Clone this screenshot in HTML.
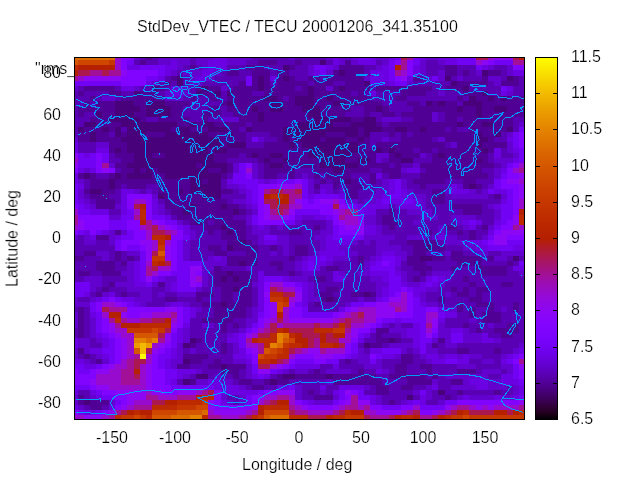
<!DOCTYPE html>
<html><head><meta charset="utf-8"><title>StdDev_VTEC</title>
<style>
html,body{margin:0;padding:0;background:#fff;}
body{width:640px;height:480px;overflow:hidden;position:relative;z-index:0;font-family:"Liberation Sans",sans-serif;font-size:16px;color:#000;}
.t{position:absolute;white-space:pre;line-height:16px;height:16px;-webkit-text-stroke:0.22px #fff;will-change:transform;}
.yl{text-align:right;width:60px;left:0.6px;}
.xl{text-align:center;width:80px;}
svg{position:absolute;left:0;top:0;}
</style></head><body>

<svg width="640" height="480" viewBox="0 0 640 480">
<defs><clipPath id="cp"><rect x="74.5" y="57.5" width="450" height="362"/></clipPath></defs>
<g shape-rendering="crispEdges" clip-path="url(#cp)">
<rect x="74.50" y="57.50" width="40.73" height="2.88" fill="#dd6c00"/>
<rect x="114.93" y="57.50" width="6.52" height="2.88" fill="#970bce"/>
<rect x="121.15" y="57.50" width="12.74" height="2.88" fill="#8004ff"/>
<rect x="133.59" y="57.50" width="6.52" height="2.88" fill="#6301ce"/>
<rect x="139.81" y="57.50" width="6.52" height="2.88" fill="#5a00b4"/>
<rect x="146.03" y="57.50" width="6.52" height="2.88" fill="#510096"/>
<rect x="152.25" y="57.50" width="6.52" height="2.88" fill="#5a00b4"/>
<rect x="158.47" y="57.50" width="31.40" height="2.88" fill="#6301ce"/>
<rect x="189.57" y="57.50" width="6.52" height="2.88" fill="#5a00b4"/>
<rect x="195.79" y="57.50" width="18.96" height="2.88" fill="#6301ce"/>
<rect x="214.45" y="57.50" width="12.74" height="2.88" fill="#6b01e3"/>
<rect x="226.89" y="57.50" width="25.18" height="2.88" fill="#6301ce"/>
<rect x="251.77" y="57.50" width="37.62" height="2.88" fill="#5a00b4"/>
<rect x="289.09" y="57.50" width="6.52" height="2.88" fill="#6301ce"/>
<rect x="295.31" y="57.50" width="31.40" height="2.88" fill="#5a00b4"/>
<rect x="326.41" y="57.50" width="6.52" height="2.88" fill="#6301ce"/>
<rect x="332.63" y="57.50" width="6.52" height="2.88" fill="#6b01e3"/>
<rect x="338.85" y="57.50" width="12.74" height="2.88" fill="#6301ce"/>
<rect x="351.29" y="57.50" width="6.52" height="2.88" fill="#6b01e3"/>
<rect x="357.51" y="57.50" width="12.74" height="2.88" fill="#7202f3"/>
<rect x="369.95" y="57.50" width="6.52" height="2.88" fill="#6b01e3"/>
<rect x="376.17" y="57.50" width="12.74" height="2.88" fill="#6301ce"/>
<rect x="388.61" y="57.50" width="6.52" height="2.88" fill="#6b01e3"/>
<rect x="394.83" y="57.50" width="6.52" height="2.88" fill="#7202f3"/>
<rect x="401.05" y="57.50" width="6.52" height="2.88" fill="#ab174f"/>
<rect x="407.27" y="57.50" width="6.52" height="2.88" fill="#a11096"/>
<rect x="413.49" y="57.50" width="6.52" height="2.88" fill="#7202f3"/>
<rect x="419.71" y="57.50" width="6.52" height="2.88" fill="#6b01e3"/>
<rect x="425.93" y="57.50" width="12.74" height="2.88" fill="#6301ce"/>
<rect x="438.37" y="57.50" width="18.96" height="2.88" fill="#6b01e3"/>
<rect x="457.03" y="57.50" width="18.96" height="2.88" fill="#7202f3"/>
<rect x="475.69" y="57.50" width="12.74" height="2.88" fill="#ab174f"/>
<rect x="488.13" y="57.50" width="6.52" height="2.88" fill="#970bce"/>
<rect x="494.35" y="57.50" width="18.96" height="2.88" fill="#8c07f3"/>
<rect x="513.01" y="57.50" width="6.52" height="2.88" fill="#ab174f"/>
<rect x="519.23" y="57.50" width="5.57" height="2.88" fill="#b42000"/>
<rect x="74.50" y="60.08" width="3.41" height="5.45" fill="#d55700"/>
<rect x="77.61" y="60.08" width="31.40" height="5.45" fill="#ce4600"/>
<rect x="108.71" y="60.08" width="6.52" height="5.45" fill="#c63700"/>
<rect x="114.93" y="60.08" width="6.52" height="5.45" fill="#970bce"/>
<rect x="121.15" y="60.08" width="6.52" height="5.45" fill="#8004ff"/>
<rect x="127.37" y="60.08" width="6.52" height="5.45" fill="#7202f3"/>
<rect x="133.59" y="60.08" width="6.52" height="5.45" fill="#5a00b4"/>
<rect x="139.81" y="60.08" width="6.52" height="5.45" fill="#510096"/>
<rect x="146.03" y="60.08" width="12.74" height="5.45" fill="#5a00b4"/>
<rect x="158.47" y="60.08" width="12.74" height="5.45" fill="#6301ce"/>
<rect x="170.91" y="60.08" width="6.52" height="5.45" fill="#6b01e3"/>
<rect x="177.13" y="60.08" width="12.74" height="5.45" fill="#6301ce"/>
<rect x="189.57" y="60.08" width="6.52" height="5.45" fill="#5a00b4"/>
<rect x="195.79" y="60.08" width="12.74" height="5.45" fill="#6301ce"/>
<rect x="208.23" y="60.08" width="18.96" height="5.45" fill="#6b01e3"/>
<rect x="226.89" y="60.08" width="18.96" height="5.45" fill="#6301ce"/>
<rect x="245.55" y="60.08" width="12.74" height="5.45" fill="#5a00b4"/>
<rect x="257.99" y="60.08" width="18.96" height="5.45" fill="#510096"/>
<rect x="276.65" y="60.08" width="18.96" height="5.45" fill="#5a00b4"/>
<rect x="295.31" y="60.08" width="6.52" height="5.45" fill="#510096"/>
<rect x="301.53" y="60.08" width="18.96" height="5.45" fill="#5a00b4"/>
<rect x="320.19" y="60.08" width="6.52" height="5.45" fill="#48007b"/>
<rect x="326.41" y="60.08" width="6.52" height="5.45" fill="#5a00b4"/>
<rect x="332.63" y="60.08" width="6.52" height="5.45" fill="#6b01e3"/>
<rect x="338.85" y="60.08" width="6.52" height="5.45" fill="#6301ce"/>
<rect x="345.07" y="60.08" width="6.52" height="5.45" fill="#510096"/>
<rect x="351.29" y="60.08" width="6.52" height="5.45" fill="#6301ce"/>
<rect x="357.51" y="60.08" width="18.96" height="5.45" fill="#6b01e3"/>
<rect x="376.17" y="60.08" width="6.52" height="5.45" fill="#5a00b4"/>
<rect x="382.39" y="60.08" width="6.52" height="5.45" fill="#6301ce"/>
<rect x="388.61" y="60.08" width="6.52" height="5.45" fill="#7202f3"/>
<rect x="394.83" y="60.08" width="6.52" height="5.45" fill="#8004ff"/>
<rect x="401.05" y="60.08" width="6.52" height="5.45" fill="#a11096"/>
<rect x="407.27" y="60.08" width="6.52" height="5.45" fill="#8004ff"/>
<rect x="413.49" y="60.08" width="6.52" height="5.45" fill="#7202f3"/>
<rect x="419.71" y="60.08" width="6.52" height="5.45" fill="#6301ce"/>
<rect x="425.93" y="60.08" width="12.74" height="5.45" fill="#5a00b4"/>
<rect x="438.37" y="60.08" width="6.52" height="5.45" fill="#6301ce"/>
<rect x="444.59" y="60.08" width="12.74" height="5.45" fill="#6b01e3"/>
<rect x="457.03" y="60.08" width="18.96" height="5.45" fill="#7202f3"/>
<rect x="475.69" y="60.08" width="6.52" height="5.45" fill="#970bce"/>
<rect x="481.91" y="60.08" width="6.52" height="5.45" fill="#8c07f3"/>
<rect x="488.13" y="60.08" width="6.52" height="5.45" fill="#8004ff"/>
<rect x="494.35" y="60.08" width="18.96" height="5.45" fill="#7202f3"/>
<rect x="513.01" y="60.08" width="11.79" height="5.45" fill="#a11096"/>
<rect x="74.50" y="65.22" width="3.41" height="5.45" fill="#bd2a00"/>
<rect x="77.61" y="65.22" width="37.62" height="5.45" fill="#b42000"/>
<rect x="114.93" y="65.22" width="6.52" height="5.45" fill="#970bce"/>
<rect x="121.15" y="65.22" width="6.52" height="5.45" fill="#8004ff"/>
<rect x="127.37" y="65.22" width="12.74" height="5.45" fill="#6b01e3"/>
<rect x="139.81" y="65.22" width="25.18" height="5.45" fill="#7202f3"/>
<rect x="164.69" y="65.22" width="12.74" height="5.45" fill="#6b01e3"/>
<rect x="177.13" y="65.22" width="6.52" height="5.45" fill="#6301ce"/>
<rect x="183.35" y="65.22" width="6.52" height="5.45" fill="#5a00b4"/>
<rect x="189.57" y="65.22" width="6.52" height="5.45" fill="#510096"/>
<rect x="195.79" y="65.22" width="6.52" height="5.45" fill="#5a00b4"/>
<rect x="202.01" y="65.22" width="6.52" height="5.45" fill="#6301ce"/>
<rect x="208.23" y="65.22" width="18.96" height="5.45" fill="#6b01e3"/>
<rect x="226.89" y="65.22" width="18.96" height="5.45" fill="#5a00b4"/>
<rect x="245.55" y="65.22" width="18.96" height="5.45" fill="#510096"/>
<rect x="264.21" y="65.22" width="18.96" height="5.45" fill="#5a00b4"/>
<rect x="282.87" y="65.22" width="6.52" height="5.45" fill="#48007b"/>
<rect x="289.09" y="65.22" width="6.52" height="5.45" fill="#510096"/>
<rect x="295.31" y="65.22" width="12.74" height="5.45" fill="#5a00b4"/>
<rect x="307.75" y="65.22" width="6.52" height="5.45" fill="#6301ce"/>
<rect x="313.97" y="65.22" width="12.74" height="5.45" fill="#7202f3"/>
<rect x="326.41" y="65.22" width="6.52" height="5.45" fill="#6b01e3"/>
<rect x="332.63" y="65.22" width="6.52" height="5.45" fill="#6301ce"/>
<rect x="338.85" y="65.22" width="25.18" height="5.45" fill="#510096"/>
<rect x="363.73" y="65.22" width="12.74" height="5.45" fill="#5a00b4"/>
<rect x="376.17" y="65.22" width="6.52" height="5.45" fill="#6301ce"/>
<rect x="382.39" y="65.22" width="6.52" height="5.45" fill="#6b01e3"/>
<rect x="388.61" y="65.22" width="6.52" height="5.45" fill="#7202f3"/>
<rect x="394.83" y="65.22" width="6.52" height="5.45" fill="#b42000"/>
<rect x="401.05" y="65.22" width="6.52" height="5.45" fill="#a11096"/>
<rect x="407.27" y="65.22" width="6.52" height="5.45" fill="#8004ff"/>
<rect x="413.49" y="65.22" width="6.52" height="5.45" fill="#6b01e3"/>
<rect x="419.71" y="65.22" width="6.52" height="5.45" fill="#6301ce"/>
<rect x="425.93" y="65.22" width="18.96" height="5.45" fill="#5a00b4"/>
<rect x="444.59" y="65.22" width="12.74" height="5.45" fill="#510096"/>
<rect x="457.03" y="65.22" width="18.96" height="5.45" fill="#5a00b4"/>
<rect x="475.69" y="65.22" width="6.52" height="5.45" fill="#7202f3"/>
<rect x="481.91" y="65.22" width="6.52" height="5.45" fill="#6b01e3"/>
<rect x="488.13" y="65.22" width="6.52" height="5.45" fill="#6301ce"/>
<rect x="494.35" y="65.22" width="12.74" height="5.45" fill="#5a00b4"/>
<rect x="506.79" y="65.22" width="6.52" height="5.45" fill="#6301ce"/>
<rect x="513.01" y="65.22" width="11.79" height="5.45" fill="#8004ff"/>
<rect x="74.50" y="70.38" width="3.41" height="5.45" fill="#b42000"/>
<rect x="77.61" y="70.38" width="12.74" height="5.45" fill="#ab174f"/>
<rect x="90.05" y="70.38" width="12.74" height="5.45" fill="#a11096"/>
<rect x="102.49" y="70.38" width="6.52" height="5.45" fill="#ab174f"/>
<rect x="108.71" y="70.38" width="12.74" height="5.45" fill="#a11096"/>
<rect x="121.15" y="70.38" width="6.52" height="5.45" fill="#8c07f3"/>
<rect x="127.37" y="70.38" width="31.40" height="5.45" fill="#8004ff"/>
<rect x="158.47" y="70.38" width="6.52" height="5.45" fill="#7202f3"/>
<rect x="164.69" y="70.38" width="6.52" height="5.45" fill="#6b01e3"/>
<rect x="170.91" y="70.38" width="6.52" height="5.45" fill="#6301ce"/>
<rect x="177.13" y="70.38" width="6.52" height="5.45" fill="#5a00b4"/>
<rect x="183.35" y="70.38" width="18.96" height="5.45" fill="#6301ce"/>
<rect x="202.01" y="70.38" width="12.74" height="5.45" fill="#6b01e3"/>
<rect x="214.45" y="70.38" width="6.52" height="5.45" fill="#6301ce"/>
<rect x="220.67" y="70.38" width="6.52" height="5.45" fill="#5a00b4"/>
<rect x="226.89" y="70.38" width="12.74" height="5.45" fill="#510096"/>
<rect x="239.33" y="70.38" width="12.74" height="5.45" fill="#5a00b4"/>
<rect x="251.77" y="70.38" width="18.96" height="5.45" fill="#510096"/>
<rect x="270.43" y="70.38" width="6.52" height="5.45" fill="#5a00b4"/>
<rect x="276.65" y="70.38" width="12.74" height="5.45" fill="#510096"/>
<rect x="289.09" y="70.38" width="18.96" height="5.45" fill="#5a00b4"/>
<rect x="307.75" y="70.38" width="6.52" height="5.45" fill="#6301ce"/>
<rect x="313.97" y="70.38" width="6.52" height="5.45" fill="#6b01e3"/>
<rect x="320.19" y="70.38" width="6.52" height="5.45" fill="#7202f3"/>
<rect x="326.41" y="70.38" width="6.52" height="5.45" fill="#6301ce"/>
<rect x="332.63" y="70.38" width="6.52" height="5.45" fill="#510096"/>
<rect x="338.85" y="70.38" width="6.52" height="5.45" fill="#48007b"/>
<rect x="345.07" y="70.38" width="18.96" height="5.45" fill="#510096"/>
<rect x="363.73" y="70.38" width="6.52" height="5.45" fill="#5a00b4"/>
<rect x="369.95" y="70.38" width="18.96" height="5.45" fill="#6b01e3"/>
<rect x="388.61" y="70.38" width="6.52" height="5.45" fill="#7202f3"/>
<rect x="394.83" y="70.38" width="6.52" height="5.45" fill="#a11096"/>
<rect x="401.05" y="70.38" width="6.52" height="5.45" fill="#970bce"/>
<rect x="407.27" y="70.38" width="6.52" height="5.45" fill="#8004ff"/>
<rect x="413.49" y="70.38" width="6.52" height="5.45" fill="#6b01e3"/>
<rect x="419.71" y="70.38" width="6.52" height="5.45" fill="#6301ce"/>
<rect x="425.93" y="70.38" width="12.74" height="5.45" fill="#5a00b4"/>
<rect x="438.37" y="70.38" width="6.52" height="5.45" fill="#6301ce"/>
<rect x="444.59" y="70.38" width="12.74" height="5.45" fill="#510096"/>
<rect x="457.03" y="70.38" width="6.52" height="5.45" fill="#5a00b4"/>
<rect x="463.25" y="70.38" width="6.52" height="5.45" fill="#510096"/>
<rect x="469.47" y="70.38" width="6.52" height="5.45" fill="#5a00b4"/>
<rect x="475.69" y="70.38" width="6.52" height="5.45" fill="#6301ce"/>
<rect x="481.91" y="70.38" width="6.52" height="5.45" fill="#48007b"/>
<rect x="488.13" y="70.38" width="12.74" height="5.45" fill="#510096"/>
<rect x="500.57" y="70.38" width="6.52" height="5.45" fill="#5a00b4"/>
<rect x="506.79" y="70.38" width="6.52" height="5.45" fill="#6301ce"/>
<rect x="513.01" y="70.38" width="11.79" height="5.45" fill="#6b01e3"/>
<rect x="74.50" y="75.53" width="3.41" height="5.45" fill="#a11096"/>
<rect x="77.61" y="75.53" width="6.52" height="5.45" fill="#970bce"/>
<rect x="83.83" y="75.53" width="37.62" height="5.45" fill="#8c07f3"/>
<rect x="121.15" y="75.53" width="25.18" height="5.45" fill="#8004ff"/>
<rect x="146.03" y="75.53" width="12.74" height="5.45" fill="#7202f3"/>
<rect x="158.47" y="75.53" width="6.52" height="5.45" fill="#6b01e3"/>
<rect x="164.69" y="75.53" width="6.52" height="5.45" fill="#5a00b4"/>
<rect x="170.91" y="75.53" width="6.52" height="5.45" fill="#510096"/>
<rect x="177.13" y="75.53" width="6.52" height="5.45" fill="#48007b"/>
<rect x="183.35" y="75.53" width="6.52" height="5.45" fill="#5a00b4"/>
<rect x="189.57" y="75.53" width="6.52" height="5.45" fill="#6301ce"/>
<rect x="195.79" y="75.53" width="12.74" height="5.45" fill="#6b01e3"/>
<rect x="208.23" y="75.53" width="6.52" height="5.45" fill="#6301ce"/>
<rect x="214.45" y="75.53" width="31.40" height="5.45" fill="#5a00b4"/>
<rect x="245.55" y="75.53" width="6.52" height="5.45" fill="#7202f3"/>
<rect x="251.77" y="75.53" width="6.52" height="5.45" fill="#510096"/>
<rect x="257.99" y="75.53" width="6.52" height="5.45" fill="#48007b"/>
<rect x="264.21" y="75.53" width="6.52" height="5.45" fill="#510096"/>
<rect x="270.43" y="75.53" width="6.52" height="5.45" fill="#6b01e3"/>
<rect x="276.65" y="75.53" width="6.52" height="5.45" fill="#510096"/>
<rect x="282.87" y="75.53" width="6.52" height="5.45" fill="#48007b"/>
<rect x="289.09" y="75.53" width="6.52" height="5.45" fill="#510096"/>
<rect x="295.31" y="75.53" width="12.74" height="5.45" fill="#5a00b4"/>
<rect x="307.75" y="75.53" width="12.74" height="5.45" fill="#510096"/>
<rect x="320.19" y="75.53" width="6.52" height="5.45" fill="#5a00b4"/>
<rect x="326.41" y="75.53" width="37.62" height="5.45" fill="#510096"/>
<rect x="363.73" y="75.53" width="6.52" height="5.45" fill="#6301ce"/>
<rect x="369.95" y="75.53" width="18.96" height="5.45" fill="#6b01e3"/>
<rect x="388.61" y="75.53" width="6.52" height="5.45" fill="#7202f3"/>
<rect x="394.83" y="75.53" width="6.52" height="5.45" fill="#8004ff"/>
<rect x="401.05" y="75.53" width="6.52" height="5.45" fill="#8c07f3"/>
<rect x="407.27" y="75.53" width="6.52" height="5.45" fill="#6b01e3"/>
<rect x="413.49" y="75.53" width="6.52" height="5.45" fill="#510096"/>
<rect x="419.71" y="75.53" width="6.52" height="5.45" fill="#5a00b4"/>
<rect x="425.93" y="75.53" width="6.52" height="5.45" fill="#6301ce"/>
<rect x="432.15" y="75.53" width="6.52" height="5.45" fill="#7202f3"/>
<rect x="438.37" y="75.53" width="6.52" height="5.45" fill="#6301ce"/>
<rect x="444.59" y="75.53" width="6.52" height="5.45" fill="#48007b"/>
<rect x="450.81" y="75.53" width="6.52" height="5.45" fill="#5a00b4"/>
<rect x="457.03" y="75.53" width="6.52" height="5.45" fill="#6301ce"/>
<rect x="463.25" y="75.53" width="18.96" height="5.45" fill="#5a00b4"/>
<rect x="481.91" y="75.53" width="6.52" height="5.45" fill="#510096"/>
<rect x="488.13" y="75.53" width="12.74" height="5.45" fill="#6301ce"/>
<rect x="500.57" y="75.53" width="6.52" height="5.45" fill="#5a00b4"/>
<rect x="506.79" y="75.53" width="6.52" height="5.45" fill="#48007b"/>
<rect x="513.01" y="75.53" width="6.52" height="5.45" fill="#510096"/>
<rect x="519.23" y="75.53" width="5.57" height="5.45" fill="#5a00b4"/>
<rect x="74.50" y="80.67" width="46.95" height="5.45" fill="#7202f3"/>
<rect x="121.15" y="80.67" width="25.18" height="5.45" fill="#8004ff"/>
<rect x="146.03" y="80.67" width="6.52" height="5.45" fill="#6b01e3"/>
<rect x="152.25" y="80.67" width="6.52" height="5.45" fill="#6301ce"/>
<rect x="158.47" y="80.67" width="6.52" height="5.45" fill="#5a00b4"/>
<rect x="164.69" y="80.67" width="6.52" height="5.45" fill="#510096"/>
<rect x="170.91" y="80.67" width="6.52" height="5.45" fill="#5a00b4"/>
<rect x="177.13" y="80.67" width="6.52" height="5.45" fill="#48007b"/>
<rect x="183.35" y="80.67" width="6.52" height="5.45" fill="#5a00b4"/>
<rect x="189.57" y="80.67" width="12.74" height="5.45" fill="#6301ce"/>
<rect x="202.01" y="80.67" width="37.62" height="5.45" fill="#5a00b4"/>
<rect x="239.33" y="80.67" width="6.52" height="5.45" fill="#510096"/>
<rect x="245.55" y="80.67" width="6.52" height="5.45" fill="#7202f3"/>
<rect x="251.77" y="80.67" width="6.52" height="5.45" fill="#510096"/>
<rect x="257.99" y="80.67" width="6.52" height="5.45" fill="#48007b"/>
<rect x="264.21" y="80.67" width="6.52" height="5.45" fill="#510096"/>
<rect x="270.43" y="80.67" width="6.52" height="5.45" fill="#5a00b4"/>
<rect x="276.65" y="80.67" width="31.40" height="5.45" fill="#510096"/>
<rect x="307.75" y="80.67" width="6.52" height="5.45" fill="#5a00b4"/>
<rect x="313.97" y="80.67" width="18.96" height="5.45" fill="#510096"/>
<rect x="332.63" y="80.67" width="12.74" height="5.45" fill="#5a00b4"/>
<rect x="345.07" y="80.67" width="18.96" height="5.45" fill="#510096"/>
<rect x="363.73" y="80.67" width="6.52" height="5.45" fill="#48007b"/>
<rect x="369.95" y="80.67" width="12.74" height="5.45" fill="#6b01e3"/>
<rect x="382.39" y="80.67" width="6.52" height="5.45" fill="#6301ce"/>
<rect x="388.61" y="80.67" width="6.52" height="5.45" fill="#6b01e3"/>
<rect x="394.83" y="80.67" width="12.74" height="5.45" fill="#7202f3"/>
<rect x="407.27" y="80.67" width="6.52" height="5.45" fill="#6301ce"/>
<rect x="413.49" y="80.67" width="37.62" height="5.45" fill="#5a00b4"/>
<rect x="450.81" y="80.67" width="6.52" height="5.45" fill="#48007b"/>
<rect x="457.03" y="80.67" width="31.40" height="5.45" fill="#510096"/>
<rect x="488.13" y="80.67" width="6.52" height="5.45" fill="#5a00b4"/>
<rect x="494.35" y="80.67" width="6.52" height="5.45" fill="#6301ce"/>
<rect x="500.57" y="80.67" width="18.96" height="5.45" fill="#510096"/>
<rect x="519.23" y="80.67" width="5.57" height="5.45" fill="#5a00b4"/>
<rect x="74.50" y="85.83" width="3.41" height="5.45" fill="#6301ce"/>
<rect x="77.61" y="85.83" width="6.52" height="5.45" fill="#5a00b4"/>
<rect x="83.83" y="85.83" width="31.40" height="5.45" fill="#510096"/>
<rect x="114.93" y="85.83" width="6.52" height="5.45" fill="#5a00b4"/>
<rect x="121.15" y="85.83" width="12.74" height="5.45" fill="#6b01e3"/>
<rect x="133.59" y="85.83" width="6.52" height="5.45" fill="#6301ce"/>
<rect x="139.81" y="85.83" width="12.74" height="5.45" fill="#5a00b4"/>
<rect x="152.25" y="85.83" width="6.52" height="5.45" fill="#48007b"/>
<rect x="158.47" y="85.83" width="6.52" height="5.45" fill="#510096"/>
<rect x="164.69" y="85.83" width="6.52" height="5.45" fill="#5a00b4"/>
<rect x="170.91" y="85.83" width="12.74" height="5.45" fill="#6b01e3"/>
<rect x="183.35" y="85.83" width="6.52" height="5.45" fill="#6301ce"/>
<rect x="189.57" y="85.83" width="6.52" height="5.45" fill="#5a00b4"/>
<rect x="195.79" y="85.83" width="6.52" height="5.45" fill="#510096"/>
<rect x="202.01" y="85.83" width="6.52" height="5.45" fill="#48007b"/>
<rect x="208.23" y="85.83" width="12.74" height="5.45" fill="#510096"/>
<rect x="220.67" y="85.83" width="6.52" height="5.45" fill="#6301ce"/>
<rect x="226.89" y="85.83" width="6.52" height="5.45" fill="#5a00b4"/>
<rect x="233.11" y="85.83" width="25.18" height="5.45" fill="#510096"/>
<rect x="257.99" y="85.83" width="6.52" height="5.45" fill="#48007b"/>
<rect x="264.21" y="85.83" width="31.40" height="5.45" fill="#510096"/>
<rect x="295.31" y="85.83" width="6.52" height="5.45" fill="#5a00b4"/>
<rect x="301.53" y="85.83" width="6.52" height="5.45" fill="#510096"/>
<rect x="307.75" y="85.83" width="6.52" height="5.45" fill="#48007b"/>
<rect x="313.97" y="85.83" width="12.74" height="5.45" fill="#510096"/>
<rect x="326.41" y="85.83" width="6.52" height="5.45" fill="#6301ce"/>
<rect x="332.63" y="85.83" width="6.52" height="5.45" fill="#510096"/>
<rect x="338.85" y="85.83" width="6.52" height="5.45" fill="#48007b"/>
<rect x="345.07" y="85.83" width="25.18" height="5.45" fill="#510096"/>
<rect x="369.95" y="85.83" width="6.52" height="5.45" fill="#5a00b4"/>
<rect x="376.17" y="85.83" width="56.28" height="5.45" fill="#510096"/>
<rect x="432.15" y="85.83" width="12.74" height="5.45" fill="#5a00b4"/>
<rect x="444.59" y="85.83" width="18.96" height="5.45" fill="#510096"/>
<rect x="463.25" y="85.83" width="6.52" height="5.45" fill="#48007b"/>
<rect x="469.47" y="85.83" width="31.40" height="5.45" fill="#5a00b4"/>
<rect x="500.57" y="85.83" width="6.52" height="5.45" fill="#7202f3"/>
<rect x="506.79" y="85.83" width="6.52" height="5.45" fill="#6b01e3"/>
<rect x="513.01" y="85.83" width="11.79" height="5.45" fill="#5a00b4"/>
<rect x="74.50" y="90.97" width="3.41" height="5.45" fill="#5a00b4"/>
<rect x="77.61" y="90.97" width="6.52" height="5.45" fill="#510096"/>
<rect x="83.83" y="90.97" width="25.18" height="5.45" fill="#5a00b4"/>
<rect x="108.71" y="90.97" width="12.74" height="5.45" fill="#510096"/>
<rect x="121.15" y="90.97" width="12.74" height="5.45" fill="#5a00b4"/>
<rect x="133.59" y="90.97" width="6.52" height="5.45" fill="#48007b"/>
<rect x="139.81" y="90.97" width="18.96" height="5.45" fill="#510096"/>
<rect x="158.47" y="90.97" width="6.52" height="5.45" fill="#5a00b4"/>
<rect x="164.69" y="90.97" width="6.52" height="5.45" fill="#6301ce"/>
<rect x="170.91" y="90.97" width="12.74" height="5.45" fill="#6b01e3"/>
<rect x="183.35" y="90.97" width="6.52" height="5.45" fill="#6301ce"/>
<rect x="189.57" y="90.97" width="6.52" height="5.45" fill="#5a00b4"/>
<rect x="195.79" y="90.97" width="6.52" height="5.45" fill="#48007b"/>
<rect x="202.01" y="90.97" width="12.74" height="5.45" fill="#510096"/>
<rect x="214.45" y="90.97" width="6.52" height="5.45" fill="#48007b"/>
<rect x="220.67" y="90.97" width="6.52" height="5.45" fill="#5a00b4"/>
<rect x="226.89" y="90.97" width="6.52" height="5.45" fill="#48007b"/>
<rect x="233.11" y="90.97" width="18.96" height="5.45" fill="#510096"/>
<rect x="251.77" y="90.97" width="12.74" height="5.45" fill="#5a00b4"/>
<rect x="264.21" y="90.97" width="43.84" height="5.45" fill="#510096"/>
<rect x="307.75" y="90.97" width="6.52" height="5.45" fill="#48007b"/>
<rect x="313.97" y="90.97" width="37.62" height="5.45" fill="#510096"/>
<rect x="351.29" y="90.97" width="6.52" height="5.45" fill="#5a00b4"/>
<rect x="357.51" y="90.97" width="6.52" height="5.45" fill="#510096"/>
<rect x="363.73" y="90.97" width="6.52" height="5.45" fill="#5a00b4"/>
<rect x="369.95" y="90.97" width="6.52" height="5.45" fill="#6b01e3"/>
<rect x="376.17" y="90.97" width="25.18" height="5.45" fill="#5a00b4"/>
<rect x="401.05" y="90.97" width="25.18" height="5.45" fill="#510096"/>
<rect x="425.93" y="90.97" width="12.74" height="5.45" fill="#5a00b4"/>
<rect x="438.37" y="90.97" width="6.52" height="5.45" fill="#6301ce"/>
<rect x="444.59" y="90.97" width="18.96" height="5.45" fill="#5a00b4"/>
<rect x="463.25" y="90.97" width="18.96" height="5.45" fill="#510096"/>
<rect x="481.91" y="90.97" width="6.52" height="5.45" fill="#48007b"/>
<rect x="488.13" y="90.97" width="12.74" height="5.45" fill="#5a00b4"/>
<rect x="500.57" y="90.97" width="6.52" height="5.45" fill="#6b01e3"/>
<rect x="506.79" y="90.97" width="6.52" height="5.45" fill="#6301ce"/>
<rect x="513.01" y="90.97" width="11.79" height="5.45" fill="#5a00b4"/>
<rect x="74.50" y="96.12" width="15.85" height="5.45" fill="#5a00b4"/>
<rect x="90.05" y="96.12" width="6.52" height="5.45" fill="#510096"/>
<rect x="96.27" y="96.12" width="6.52" height="5.45" fill="#5a00b4"/>
<rect x="102.49" y="96.12" width="12.74" height="5.45" fill="#6301ce"/>
<rect x="114.93" y="96.12" width="6.52" height="5.45" fill="#5a00b4"/>
<rect x="121.15" y="96.12" width="43.84" height="5.45" fill="#510096"/>
<rect x="164.69" y="96.12" width="18.96" height="5.45" fill="#6301ce"/>
<rect x="183.35" y="96.12" width="6.52" height="5.45" fill="#5a00b4"/>
<rect x="189.57" y="96.12" width="6.52" height="5.45" fill="#510096"/>
<rect x="195.79" y="96.12" width="12.74" height="5.45" fill="#5a00b4"/>
<rect x="208.23" y="96.12" width="12.74" height="5.45" fill="#510096"/>
<rect x="220.67" y="96.12" width="6.52" height="5.45" fill="#5a00b4"/>
<rect x="226.89" y="96.12" width="37.62" height="5.45" fill="#510096"/>
<rect x="264.21" y="96.12" width="12.74" height="5.45" fill="#48007b"/>
<rect x="276.65" y="96.12" width="6.52" height="5.45" fill="#510096"/>
<rect x="282.87" y="96.12" width="6.52" height="5.45" fill="#5a00b4"/>
<rect x="289.09" y="96.12" width="6.52" height="5.45" fill="#510096"/>
<rect x="295.31" y="96.12" width="18.96" height="5.45" fill="#48007b"/>
<rect x="313.97" y="96.12" width="12.74" height="5.45" fill="#510096"/>
<rect x="326.41" y="96.12" width="6.52" height="5.45" fill="#48007b"/>
<rect x="332.63" y="96.12" width="37.62" height="5.45" fill="#510096"/>
<rect x="369.95" y="96.12" width="25.18" height="5.45" fill="#5a00b4"/>
<rect x="394.83" y="96.12" width="12.74" height="5.45" fill="#510096"/>
<rect x="407.27" y="96.12" width="50.06" height="5.45" fill="#5a00b4"/>
<rect x="457.03" y="96.12" width="6.52" height="5.45" fill="#510096"/>
<rect x="463.25" y="96.12" width="6.52" height="5.45" fill="#5a00b4"/>
<rect x="469.47" y="96.12" width="6.52" height="5.45" fill="#48007b"/>
<rect x="475.69" y="96.12" width="12.74" height="5.45" fill="#510096"/>
<rect x="488.13" y="96.12" width="6.52" height="5.45" fill="#48007b"/>
<rect x="494.35" y="96.12" width="6.52" height="5.45" fill="#510096"/>
<rect x="500.57" y="96.12" width="6.52" height="5.45" fill="#48007b"/>
<rect x="506.79" y="96.12" width="18.01" height="5.45" fill="#510096"/>
<rect x="74.50" y="101.28" width="9.63" height="5.45" fill="#5a00b4"/>
<rect x="83.83" y="101.28" width="6.52" height="5.45" fill="#510096"/>
<rect x="90.05" y="101.28" width="6.52" height="5.45" fill="#5a00b4"/>
<rect x="96.27" y="101.28" width="18.96" height="5.45" fill="#510096"/>
<rect x="114.93" y="101.28" width="18.96" height="5.45" fill="#48007b"/>
<rect x="133.59" y="101.28" width="12.74" height="5.45" fill="#510096"/>
<rect x="146.03" y="101.28" width="18.96" height="5.45" fill="#48007b"/>
<rect x="164.69" y="101.28" width="25.18" height="5.45" fill="#510096"/>
<rect x="189.57" y="101.28" width="31.40" height="5.45" fill="#5a00b4"/>
<rect x="220.67" y="101.28" width="6.52" height="5.45" fill="#510096"/>
<rect x="226.89" y="101.28" width="6.52" height="5.45" fill="#48007b"/>
<rect x="233.11" y="101.28" width="37.62" height="5.45" fill="#510096"/>
<rect x="270.43" y="101.28" width="12.74" height="5.45" fill="#48007b"/>
<rect x="282.87" y="101.28" width="12.74" height="5.45" fill="#510096"/>
<rect x="295.31" y="101.28" width="18.96" height="5.45" fill="#48007b"/>
<rect x="313.97" y="101.28" width="18.96" height="5.45" fill="#510096"/>
<rect x="332.63" y="101.28" width="12.74" height="5.45" fill="#48007b"/>
<rect x="345.07" y="101.28" width="37.62" height="5.45" fill="#510096"/>
<rect x="382.39" y="101.28" width="25.18" height="5.45" fill="#5a00b4"/>
<rect x="407.27" y="101.28" width="12.74" height="5.45" fill="#510096"/>
<rect x="419.71" y="101.28" width="6.52" height="5.45" fill="#5a00b4"/>
<rect x="425.93" y="101.28" width="6.52" height="5.45" fill="#48007b"/>
<rect x="432.15" y="101.28" width="6.52" height="5.45" fill="#510096"/>
<rect x="438.37" y="101.28" width="6.52" height="5.45" fill="#48007b"/>
<rect x="444.59" y="101.28" width="12.74" height="5.45" fill="#510096"/>
<rect x="457.03" y="101.28" width="6.52" height="5.45" fill="#5a00b4"/>
<rect x="463.25" y="101.28" width="18.96" height="5.45" fill="#48007b"/>
<rect x="481.91" y="101.28" width="42.89" height="5.45" fill="#510096"/>
<rect x="74.50" y="106.43" width="3.41" height="5.45" fill="#5a00b4"/>
<rect x="77.61" y="106.43" width="37.62" height="5.45" fill="#510096"/>
<rect x="114.93" y="106.43" width="25.18" height="5.45" fill="#48007b"/>
<rect x="139.81" y="106.43" width="6.52" height="5.45" fill="#510096"/>
<rect x="146.03" y="106.43" width="25.18" height="5.45" fill="#48007b"/>
<rect x="170.91" y="106.43" width="12.74" height="5.45" fill="#510096"/>
<rect x="183.35" y="106.43" width="25.18" height="5.45" fill="#5a00b4"/>
<rect x="208.23" y="106.43" width="12.74" height="5.45" fill="#510096"/>
<rect x="220.67" y="106.43" width="6.52" height="5.45" fill="#5a00b4"/>
<rect x="226.89" y="106.43" width="25.18" height="5.45" fill="#510096"/>
<rect x="251.77" y="106.43" width="6.52" height="5.45" fill="#48007b"/>
<rect x="257.99" y="106.43" width="12.74" height="5.45" fill="#510096"/>
<rect x="270.43" y="106.43" width="12.74" height="5.45" fill="#48007b"/>
<rect x="282.87" y="106.43" width="18.96" height="5.45" fill="#510096"/>
<rect x="301.53" y="106.43" width="18.96" height="5.45" fill="#48007b"/>
<rect x="320.19" y="106.43" width="31.40" height="5.45" fill="#510096"/>
<rect x="351.29" y="106.43" width="12.74" height="5.45" fill="#5a00b4"/>
<rect x="363.73" y="106.43" width="12.74" height="5.45" fill="#510096"/>
<rect x="376.17" y="106.43" width="6.52" height="5.45" fill="#48007b"/>
<rect x="382.39" y="106.43" width="6.52" height="5.45" fill="#510096"/>
<rect x="388.61" y="106.43" width="25.18" height="5.45" fill="#5a00b4"/>
<rect x="413.49" y="106.43" width="43.84" height="5.45" fill="#510096"/>
<rect x="457.03" y="106.43" width="6.52" height="5.45" fill="#48007b"/>
<rect x="463.25" y="106.43" width="12.74" height="5.45" fill="#510096"/>
<rect x="475.69" y="106.43" width="6.52" height="5.45" fill="#48007b"/>
<rect x="481.91" y="106.43" width="12.74" height="5.45" fill="#510096"/>
<rect x="494.35" y="106.43" width="12.74" height="5.45" fill="#48007b"/>
<rect x="506.79" y="106.43" width="18.01" height="5.45" fill="#510096"/>
<rect x="74.50" y="111.58" width="3.41" height="5.45" fill="#5a00b4"/>
<rect x="77.61" y="111.58" width="6.52" height="5.45" fill="#510096"/>
<rect x="83.83" y="111.58" width="12.74" height="5.45" fill="#5a00b4"/>
<rect x="96.27" y="111.58" width="6.52" height="5.45" fill="#48007b"/>
<rect x="102.49" y="111.58" width="12.74" height="5.45" fill="#510096"/>
<rect x="114.93" y="111.58" width="18.96" height="5.45" fill="#48007b"/>
<rect x="133.59" y="111.58" width="12.74" height="5.45" fill="#510096"/>
<rect x="146.03" y="111.58" width="25.18" height="5.45" fill="#48007b"/>
<rect x="170.91" y="111.58" width="12.74" height="5.45" fill="#510096"/>
<rect x="183.35" y="111.58" width="18.96" height="5.45" fill="#5a00b4"/>
<rect x="202.01" y="111.58" width="18.96" height="5.45" fill="#510096"/>
<rect x="220.67" y="111.58" width="12.74" height="5.45" fill="#5a00b4"/>
<rect x="233.11" y="111.58" width="25.18" height="5.45" fill="#510096"/>
<rect x="257.99" y="111.58" width="6.52" height="5.45" fill="#48007b"/>
<rect x="264.21" y="111.58" width="43.84" height="5.45" fill="#510096"/>
<rect x="307.75" y="111.58" width="12.74" height="5.45" fill="#48007b"/>
<rect x="320.19" y="111.58" width="25.18" height="5.45" fill="#510096"/>
<rect x="345.07" y="111.58" width="18.96" height="5.45" fill="#5a00b4"/>
<rect x="363.73" y="111.58" width="6.52" height="5.45" fill="#510096"/>
<rect x="369.95" y="111.58" width="12.74" height="5.45" fill="#5a00b4"/>
<rect x="382.39" y="111.58" width="12.74" height="5.45" fill="#510096"/>
<rect x="394.83" y="111.58" width="6.52" height="5.45" fill="#5a00b4"/>
<rect x="401.05" y="111.58" width="31.40" height="5.45" fill="#510096"/>
<rect x="432.15" y="111.58" width="6.52" height="5.45" fill="#6301ce"/>
<rect x="438.37" y="111.58" width="6.52" height="5.45" fill="#5a00b4"/>
<rect x="444.59" y="111.58" width="31.40" height="5.45" fill="#510096"/>
<rect x="475.69" y="111.58" width="6.52" height="5.45" fill="#48007b"/>
<rect x="481.91" y="111.58" width="42.89" height="5.45" fill="#510096"/>
<rect x="74.50" y="116.72" width="15.85" height="5.45" fill="#5a00b4"/>
<rect x="90.05" y="116.72" width="18.96" height="5.45" fill="#510096"/>
<rect x="108.71" y="116.72" width="31.40" height="5.45" fill="#48007b"/>
<rect x="139.81" y="116.72" width="6.52" height="5.45" fill="#510096"/>
<rect x="146.03" y="116.72" width="12.74" height="5.45" fill="#5a00b4"/>
<rect x="158.47" y="116.72" width="31.40" height="5.45" fill="#510096"/>
<rect x="189.57" y="116.72" width="12.74" height="5.45" fill="#5a00b4"/>
<rect x="202.01" y="116.72" width="6.52" height="5.45" fill="#510096"/>
<rect x="208.23" y="116.72" width="12.74" height="5.45" fill="#5a00b4"/>
<rect x="220.67" y="116.72" width="18.96" height="5.45" fill="#6301ce"/>
<rect x="239.33" y="116.72" width="18.96" height="5.45" fill="#510096"/>
<rect x="257.99" y="116.72" width="6.52" height="5.45" fill="#48007b"/>
<rect x="264.21" y="116.72" width="50.06" height="5.45" fill="#510096"/>
<rect x="313.97" y="116.72" width="37.62" height="5.45" fill="#48007b"/>
<rect x="351.29" y="116.72" width="12.74" height="5.45" fill="#510096"/>
<rect x="363.73" y="116.72" width="12.74" height="5.45" fill="#48007b"/>
<rect x="376.17" y="116.72" width="6.52" height="5.45" fill="#5a00b4"/>
<rect x="382.39" y="116.72" width="18.96" height="5.45" fill="#6301ce"/>
<rect x="401.05" y="116.72" width="12.74" height="5.45" fill="#5a00b4"/>
<rect x="413.49" y="116.72" width="18.96" height="5.45" fill="#510096"/>
<rect x="432.15" y="116.72" width="6.52" height="5.45" fill="#6301ce"/>
<rect x="438.37" y="116.72" width="6.52" height="5.45" fill="#5a00b4"/>
<rect x="444.59" y="116.72" width="12.74" height="5.45" fill="#510096"/>
<rect x="457.03" y="116.72" width="6.52" height="5.45" fill="#5a00b4"/>
<rect x="463.25" y="116.72" width="50.06" height="5.45" fill="#510096"/>
<rect x="513.01" y="116.72" width="11.79" height="5.45" fill="#5a00b4"/>
<rect x="74.50" y="121.88" width="9.63" height="5.45" fill="#5a00b4"/>
<rect x="83.83" y="121.88" width="12.74" height="5.45" fill="#48007b"/>
<rect x="96.27" y="121.88" width="25.18" height="5.45" fill="#510096"/>
<rect x="121.15" y="121.88" width="56.28" height="5.45" fill="#48007b"/>
<rect x="177.13" y="121.88" width="12.74" height="5.45" fill="#510096"/>
<rect x="189.57" y="121.88" width="6.52" height="5.45" fill="#48007b"/>
<rect x="195.79" y="121.88" width="6.52" height="5.45" fill="#510096"/>
<rect x="202.01" y="121.88" width="12.74" height="5.45" fill="#48007b"/>
<rect x="214.45" y="121.88" width="31.40" height="5.45" fill="#510096"/>
<rect x="245.55" y="121.88" width="6.52" height="5.45" fill="#5a00b4"/>
<rect x="251.77" y="121.88" width="43.84" height="5.45" fill="#510096"/>
<rect x="295.31" y="121.88" width="37.62" height="5.45" fill="#48007b"/>
<rect x="332.63" y="121.88" width="18.96" height="5.45" fill="#510096"/>
<rect x="351.29" y="121.88" width="25.18" height="5.45" fill="#48007b"/>
<rect x="376.17" y="121.88" width="6.52" height="5.45" fill="#510096"/>
<rect x="382.39" y="121.88" width="6.52" height="5.45" fill="#5a00b4"/>
<rect x="388.61" y="121.88" width="68.72" height="5.45" fill="#510096"/>
<rect x="457.03" y="121.88" width="6.52" height="5.45" fill="#48007b"/>
<rect x="463.25" y="121.88" width="18.96" height="5.45" fill="#510096"/>
<rect x="481.91" y="121.88" width="12.74" height="5.45" fill="#48007b"/>
<rect x="494.35" y="121.88" width="18.96" height="5.45" fill="#510096"/>
<rect x="513.01" y="121.88" width="6.52" height="5.45" fill="#5a00b4"/>
<rect x="519.23" y="121.88" width="5.57" height="5.45" fill="#6301ce"/>
<rect x="74.50" y="127.03" width="3.41" height="5.45" fill="#5a00b4"/>
<rect x="77.61" y="127.03" width="6.52" height="5.45" fill="#48007b"/>
<rect x="83.83" y="127.03" width="18.96" height="5.45" fill="#510096"/>
<rect x="102.49" y="127.03" width="6.52" height="5.45" fill="#48007b"/>
<rect x="108.71" y="127.03" width="6.52" height="5.45" fill="#510096"/>
<rect x="114.93" y="127.03" width="6.52" height="5.45" fill="#48007b"/>
<rect x="121.15" y="127.03" width="6.52" height="5.45" fill="#5a00b4"/>
<rect x="127.37" y="127.03" width="43.84" height="5.45" fill="#48007b"/>
<rect x="170.91" y="127.03" width="6.52" height="5.45" fill="#510096"/>
<rect x="177.13" y="127.03" width="12.74" height="5.45" fill="#48007b"/>
<rect x="189.57" y="127.03" width="18.96" height="5.45" fill="#510096"/>
<rect x="208.23" y="127.03" width="18.96" height="5.45" fill="#48007b"/>
<rect x="226.89" y="127.03" width="12.74" height="5.45" fill="#510096"/>
<rect x="239.33" y="127.03" width="6.52" height="5.45" fill="#5a00b4"/>
<rect x="245.55" y="127.03" width="6.52" height="5.45" fill="#48007b"/>
<rect x="251.77" y="127.03" width="31.40" height="5.45" fill="#510096"/>
<rect x="282.87" y="127.03" width="74.94" height="5.45" fill="#48007b"/>
<rect x="357.51" y="127.03" width="6.52" height="5.45" fill="#510096"/>
<rect x="363.73" y="127.03" width="18.96" height="5.45" fill="#48007b"/>
<rect x="382.39" y="127.03" width="12.74" height="5.45" fill="#510096"/>
<rect x="394.83" y="127.03" width="12.74" height="5.45" fill="#48007b"/>
<rect x="407.27" y="127.03" width="12.74" height="5.45" fill="#510096"/>
<rect x="419.71" y="127.03" width="6.52" height="5.45" fill="#48007b"/>
<rect x="425.93" y="127.03" width="18.96" height="5.45" fill="#510096"/>
<rect x="444.59" y="127.03" width="6.52" height="5.45" fill="#5a00b4"/>
<rect x="450.81" y="127.03" width="6.52" height="5.45" fill="#510096"/>
<rect x="457.03" y="127.03" width="12.74" height="5.45" fill="#5a00b4"/>
<rect x="469.47" y="127.03" width="37.62" height="5.45" fill="#510096"/>
<rect x="506.79" y="127.03" width="6.52" height="5.45" fill="#48007b"/>
<rect x="513.01" y="127.03" width="6.52" height="5.45" fill="#5a00b4"/>
<rect x="519.23" y="127.03" width="5.57" height="5.45" fill="#7202f3"/>
<rect x="74.50" y="132.18" width="3.41" height="5.45" fill="#5a00b4"/>
<rect x="77.61" y="132.18" width="12.74" height="5.45" fill="#510096"/>
<rect x="90.05" y="132.18" width="6.52" height="5.45" fill="#48007b"/>
<rect x="96.27" y="132.18" width="12.74" height="5.45" fill="#510096"/>
<rect x="108.71" y="132.18" width="6.52" height="5.45" fill="#5a00b4"/>
<rect x="114.93" y="132.18" width="6.52" height="5.45" fill="#48007b"/>
<rect x="121.15" y="132.18" width="6.52" height="5.45" fill="#510096"/>
<rect x="127.37" y="132.18" width="18.96" height="5.45" fill="#48007b"/>
<rect x="146.03" y="132.18" width="18.96" height="5.45" fill="#510096"/>
<rect x="164.69" y="132.18" width="43.84" height="5.45" fill="#48007b"/>
<rect x="208.23" y="132.18" width="18.96" height="5.45" fill="#510096"/>
<rect x="226.89" y="132.18" width="6.52" height="5.45" fill="#48007b"/>
<rect x="233.11" y="132.18" width="12.74" height="5.45" fill="#510096"/>
<rect x="245.55" y="132.18" width="25.18" height="5.45" fill="#5a00b4"/>
<rect x="270.43" y="132.18" width="12.74" height="5.45" fill="#510096"/>
<rect x="282.87" y="132.18" width="43.84" height="5.45" fill="#48007b"/>
<rect x="326.41" y="132.18" width="18.96" height="5.45" fill="#510096"/>
<rect x="345.07" y="132.18" width="12.74" height="5.45" fill="#48007b"/>
<rect x="357.51" y="132.18" width="6.52" height="5.45" fill="#510096"/>
<rect x="363.73" y="132.18" width="6.52" height="5.45" fill="#48007b"/>
<rect x="369.95" y="132.18" width="18.96" height="5.45" fill="#5a00b4"/>
<rect x="388.61" y="132.18" width="6.52" height="5.45" fill="#510096"/>
<rect x="394.83" y="132.18" width="6.52" height="5.45" fill="#5a00b4"/>
<rect x="401.05" y="132.18" width="6.52" height="5.45" fill="#510096"/>
<rect x="407.27" y="132.18" width="6.52" height="5.45" fill="#5a00b4"/>
<rect x="413.49" y="132.18" width="62.50" height="5.45" fill="#510096"/>
<rect x="475.69" y="132.18" width="6.52" height="5.45" fill="#48007b"/>
<rect x="481.91" y="132.18" width="12.74" height="5.45" fill="#510096"/>
<rect x="494.35" y="132.18" width="6.52" height="5.45" fill="#48007b"/>
<rect x="500.57" y="132.18" width="6.52" height="5.45" fill="#5a00b4"/>
<rect x="506.79" y="132.18" width="6.52" height="5.45" fill="#6301ce"/>
<rect x="513.01" y="132.18" width="6.52" height="5.45" fill="#7202f3"/>
<rect x="519.23" y="132.18" width="5.57" height="5.45" fill="#8004ff"/>
<rect x="74.50" y="137.32" width="3.41" height="5.45" fill="#6301ce"/>
<rect x="77.61" y="137.32" width="12.74" height="5.45" fill="#510096"/>
<rect x="90.05" y="137.32" width="6.52" height="5.45" fill="#48007b"/>
<rect x="96.27" y="137.32" width="25.18" height="5.45" fill="#510096"/>
<rect x="121.15" y="137.32" width="99.82" height="5.45" fill="#48007b"/>
<rect x="220.67" y="137.32" width="25.18" height="5.45" fill="#510096"/>
<rect x="245.55" y="137.32" width="6.52" height="5.45" fill="#5a00b4"/>
<rect x="251.77" y="137.32" width="6.52" height="5.45" fill="#7202f3"/>
<rect x="257.99" y="137.32" width="6.52" height="5.45" fill="#6301ce"/>
<rect x="264.21" y="137.32" width="12.74" height="5.45" fill="#5a00b4"/>
<rect x="276.65" y="137.32" width="6.52" height="5.45" fill="#510096"/>
<rect x="282.87" y="137.32" width="6.52" height="5.45" fill="#48007b"/>
<rect x="289.09" y="137.32" width="6.52" height="5.45" fill="#510096"/>
<rect x="295.31" y="137.32" width="25.18" height="5.45" fill="#48007b"/>
<rect x="320.19" y="137.32" width="6.52" height="5.45" fill="#510096"/>
<rect x="326.41" y="137.32" width="18.96" height="5.45" fill="#48007b"/>
<rect x="345.07" y="137.32" width="12.74" height="5.45" fill="#510096"/>
<rect x="357.51" y="137.32" width="6.52" height="5.45" fill="#48007b"/>
<rect x="363.73" y="137.32" width="6.52" height="5.45" fill="#510096"/>
<rect x="369.95" y="137.32" width="12.74" height="5.45" fill="#5a00b4"/>
<rect x="382.39" y="137.32" width="6.52" height="5.45" fill="#6301ce"/>
<rect x="388.61" y="137.32" width="12.74" height="5.45" fill="#5a00b4"/>
<rect x="401.05" y="137.32" width="31.40" height="5.45" fill="#510096"/>
<rect x="432.15" y="137.32" width="6.52" height="5.45" fill="#5a00b4"/>
<rect x="438.37" y="137.32" width="6.52" height="5.45" fill="#6301ce"/>
<rect x="444.59" y="137.32" width="31.40" height="5.45" fill="#510096"/>
<rect x="475.69" y="137.32" width="12.74" height="5.45" fill="#48007b"/>
<rect x="488.13" y="137.32" width="6.52" height="5.45" fill="#510096"/>
<rect x="494.35" y="137.32" width="12.74" height="5.45" fill="#5a00b4"/>
<rect x="506.79" y="137.32" width="6.52" height="5.45" fill="#6b01e3"/>
<rect x="513.01" y="137.32" width="6.52" height="5.45" fill="#7202f3"/>
<rect x="519.23" y="137.32" width="5.57" height="5.45" fill="#8004ff"/>
<rect x="74.50" y="142.48" width="3.41" height="5.45" fill="#6b01e3"/>
<rect x="77.61" y="142.48" width="18.96" height="5.45" fill="#5a00b4"/>
<rect x="96.27" y="142.48" width="12.74" height="5.45" fill="#6301ce"/>
<rect x="108.71" y="142.48" width="18.96" height="5.45" fill="#510096"/>
<rect x="127.37" y="142.48" width="93.60" height="5.45" fill="#48007b"/>
<rect x="220.67" y="142.48" width="6.52" height="5.45" fill="#510096"/>
<rect x="226.89" y="142.48" width="18.96" height="5.45" fill="#48007b"/>
<rect x="245.55" y="142.48" width="18.96" height="5.45" fill="#5a00b4"/>
<rect x="264.21" y="142.48" width="25.18" height="5.45" fill="#510096"/>
<rect x="289.09" y="142.48" width="6.52" height="5.45" fill="#48007b"/>
<rect x="295.31" y="142.48" width="6.52" height="5.45" fill="#510096"/>
<rect x="301.53" y="142.48" width="56.28" height="5.45" fill="#48007b"/>
<rect x="357.51" y="142.48" width="12.74" height="5.45" fill="#510096"/>
<rect x="369.95" y="142.48" width="6.52" height="5.45" fill="#5a00b4"/>
<rect x="376.17" y="142.48" width="68.72" height="5.45" fill="#510096"/>
<rect x="444.59" y="142.48" width="6.52" height="5.45" fill="#5a00b4"/>
<rect x="450.81" y="142.48" width="6.52" height="5.45" fill="#6301ce"/>
<rect x="457.03" y="142.48" width="18.96" height="5.45" fill="#510096"/>
<rect x="475.69" y="142.48" width="6.52" height="5.45" fill="#48007b"/>
<rect x="481.91" y="142.48" width="25.18" height="5.45" fill="#510096"/>
<rect x="506.79" y="142.48" width="6.52" height="5.45" fill="#6301ce"/>
<rect x="513.01" y="142.48" width="6.52" height="5.45" fill="#7202f3"/>
<rect x="519.23" y="142.48" width="5.57" height="5.45" fill="#8004ff"/>
<rect x="74.50" y="147.62" width="3.41" height="5.45" fill="#6b01e3"/>
<rect x="77.61" y="147.62" width="18.96" height="5.45" fill="#5a00b4"/>
<rect x="96.27" y="147.62" width="12.74" height="5.45" fill="#6b01e3"/>
<rect x="108.71" y="147.62" width="6.52" height="5.45" fill="#510096"/>
<rect x="114.93" y="147.62" width="6.52" height="5.45" fill="#48007b"/>
<rect x="121.15" y="147.62" width="6.52" height="5.45" fill="#510096"/>
<rect x="127.37" y="147.62" width="81.16" height="5.45" fill="#48007b"/>
<rect x="208.23" y="147.62" width="6.52" height="5.45" fill="#510096"/>
<rect x="214.45" y="147.62" width="12.74" height="5.45" fill="#48007b"/>
<rect x="226.89" y="147.62" width="81.16" height="5.45" fill="#510096"/>
<rect x="307.75" y="147.62" width="50.06" height="5.45" fill="#48007b"/>
<rect x="357.51" y="147.62" width="18.96" height="5.45" fill="#510096"/>
<rect x="376.17" y="147.62" width="6.52" height="5.45" fill="#48007b"/>
<rect x="382.39" y="147.62" width="6.52" height="5.45" fill="#510096"/>
<rect x="388.61" y="147.62" width="6.52" height="5.45" fill="#48007b"/>
<rect x="394.83" y="147.62" width="18.96" height="5.45" fill="#510096"/>
<rect x="413.49" y="147.62" width="6.52" height="5.45" fill="#5a00b4"/>
<rect x="419.71" y="147.62" width="12.74" height="5.45" fill="#510096"/>
<rect x="432.15" y="147.62" width="6.52" height="5.45" fill="#5a00b4"/>
<rect x="438.37" y="147.62" width="43.84" height="5.45" fill="#510096"/>
<rect x="481.91" y="147.62" width="6.52" height="5.45" fill="#48007b"/>
<rect x="488.13" y="147.62" width="6.52" height="5.45" fill="#510096"/>
<rect x="494.35" y="147.62" width="6.52" height="5.45" fill="#6b01e3"/>
<rect x="500.57" y="147.62" width="6.52" height="5.45" fill="#5a00b4"/>
<rect x="506.79" y="147.62" width="6.52" height="5.45" fill="#6301ce"/>
<rect x="513.01" y="147.62" width="6.52" height="5.45" fill="#6b01e3"/>
<rect x="519.23" y="147.62" width="5.57" height="5.45" fill="#7202f3"/>
<rect x="74.50" y="152.78" width="3.41" height="5.45" fill="#8c07f3"/>
<rect x="77.61" y="152.78" width="6.52" height="5.45" fill="#7202f3"/>
<rect x="83.83" y="152.78" width="6.52" height="5.45" fill="#6b01e3"/>
<rect x="90.05" y="152.78" width="6.52" height="5.45" fill="#7202f3"/>
<rect x="96.27" y="152.78" width="6.52" height="5.45" fill="#8004ff"/>
<rect x="102.49" y="152.78" width="6.52" height="5.45" fill="#7202f3"/>
<rect x="108.71" y="152.78" width="6.52" height="5.45" fill="#5a00b4"/>
<rect x="114.93" y="152.78" width="18.96" height="5.45" fill="#510096"/>
<rect x="133.59" y="152.78" width="18.96" height="5.45" fill="#48007b"/>
<rect x="152.25" y="152.78" width="12.74" height="5.45" fill="#510096"/>
<rect x="164.69" y="152.78" width="50.06" height="5.45" fill="#48007b"/>
<rect x="214.45" y="152.78" width="25.18" height="5.45" fill="#510096"/>
<rect x="239.33" y="152.78" width="6.52" height="5.45" fill="#5a00b4"/>
<rect x="245.55" y="152.78" width="6.52" height="5.45" fill="#510096"/>
<rect x="251.77" y="152.78" width="6.52" height="5.45" fill="#48007b"/>
<rect x="257.99" y="152.78" width="12.74" height="5.45" fill="#510096"/>
<rect x="270.43" y="152.78" width="12.74" height="5.45" fill="#48007b"/>
<rect x="282.87" y="152.78" width="25.18" height="5.45" fill="#510096"/>
<rect x="307.75" y="152.78" width="43.84" height="5.45" fill="#48007b"/>
<rect x="351.29" y="152.78" width="25.18" height="5.45" fill="#510096"/>
<rect x="376.17" y="152.78" width="12.74" height="5.45" fill="#6301ce"/>
<rect x="388.61" y="152.78" width="6.52" height="5.45" fill="#510096"/>
<rect x="394.83" y="152.78" width="6.52" height="5.45" fill="#48007b"/>
<rect x="401.05" y="152.78" width="18.96" height="5.45" fill="#510096"/>
<rect x="419.71" y="152.78" width="6.52" height="5.45" fill="#6301ce"/>
<rect x="425.93" y="152.78" width="6.52" height="5.45" fill="#5a00b4"/>
<rect x="432.15" y="152.78" width="6.52" height="5.45" fill="#510096"/>
<rect x="438.37" y="152.78" width="6.52" height="5.45" fill="#48007b"/>
<rect x="444.59" y="152.78" width="43.84" height="5.45" fill="#510096"/>
<rect x="488.13" y="152.78" width="6.52" height="5.45" fill="#5a00b4"/>
<rect x="494.35" y="152.78" width="6.52" height="5.45" fill="#6b01e3"/>
<rect x="500.57" y="152.78" width="12.74" height="5.45" fill="#5a00b4"/>
<rect x="513.01" y="152.78" width="6.52" height="5.45" fill="#6301ce"/>
<rect x="519.23" y="152.78" width="5.57" height="5.45" fill="#7202f3"/>
<rect x="74.50" y="157.93" width="3.41" height="5.45" fill="#970bce"/>
<rect x="77.61" y="157.93" width="18.96" height="5.45" fill="#7202f3"/>
<rect x="96.27" y="157.93" width="6.52" height="5.45" fill="#8004ff"/>
<rect x="102.49" y="157.93" width="6.52" height="5.45" fill="#7202f3"/>
<rect x="108.71" y="157.93" width="12.74" height="5.45" fill="#5a00b4"/>
<rect x="121.15" y="157.93" width="12.74" height="5.45" fill="#510096"/>
<rect x="133.59" y="157.93" width="81.16" height="5.45" fill="#48007b"/>
<rect x="214.45" y="157.93" width="12.74" height="5.45" fill="#510096"/>
<rect x="226.89" y="157.93" width="31.40" height="5.45" fill="#5a00b4"/>
<rect x="257.99" y="157.93" width="6.52" height="5.45" fill="#510096"/>
<rect x="264.21" y="157.93" width="6.52" height="5.45" fill="#48007b"/>
<rect x="270.43" y="157.93" width="12.74" height="5.45" fill="#510096"/>
<rect x="282.87" y="157.93" width="6.52" height="5.45" fill="#48007b"/>
<rect x="289.09" y="157.93" width="31.40" height="5.45" fill="#510096"/>
<rect x="320.19" y="157.93" width="25.18" height="5.45" fill="#48007b"/>
<rect x="345.07" y="157.93" width="12.74" height="5.45" fill="#510096"/>
<rect x="357.51" y="157.93" width="12.74" height="5.45" fill="#48007b"/>
<rect x="369.95" y="157.93" width="6.52" height="5.45" fill="#510096"/>
<rect x="376.17" y="157.93" width="6.52" height="5.45" fill="#6301ce"/>
<rect x="382.39" y="157.93" width="6.52" height="5.45" fill="#5a00b4"/>
<rect x="388.61" y="157.93" width="12.74" height="5.45" fill="#510096"/>
<rect x="401.05" y="157.93" width="12.74" height="5.45" fill="#48007b"/>
<rect x="413.49" y="157.93" width="18.96" height="5.45" fill="#5a00b4"/>
<rect x="432.15" y="157.93" width="43.84" height="5.45" fill="#510096"/>
<rect x="475.69" y="157.93" width="6.52" height="5.45" fill="#48007b"/>
<rect x="481.91" y="157.93" width="6.52" height="5.45" fill="#510096"/>
<rect x="488.13" y="157.93" width="6.52" height="5.45" fill="#5a00b4"/>
<rect x="494.35" y="157.93" width="18.96" height="5.45" fill="#6301ce"/>
<rect x="513.01" y="157.93" width="6.52" height="5.45" fill="#6b01e3"/>
<rect x="519.23" y="157.93" width="5.57" height="5.45" fill="#7202f3"/>
<rect x="74.50" y="163.07" width="3.41" height="5.45" fill="#8c07f3"/>
<rect x="77.61" y="163.07" width="18.96" height="5.45" fill="#7202f3"/>
<rect x="96.27" y="163.07" width="6.52" height="5.45" fill="#8004ff"/>
<rect x="102.49" y="163.07" width="6.52" height="5.45" fill="#a11096"/>
<rect x="108.71" y="163.07" width="6.52" height="5.45" fill="#6301ce"/>
<rect x="114.93" y="163.07" width="12.74" height="5.45" fill="#510096"/>
<rect x="127.37" y="163.07" width="68.72" height="5.45" fill="#48007b"/>
<rect x="195.79" y="163.07" width="6.52" height="5.45" fill="#510096"/>
<rect x="202.01" y="163.07" width="25.18" height="5.45" fill="#48007b"/>
<rect x="226.89" y="163.07" width="6.52" height="5.45" fill="#510096"/>
<rect x="233.11" y="163.07" width="6.52" height="5.45" fill="#6301ce"/>
<rect x="239.33" y="163.07" width="6.52" height="5.45" fill="#7202f3"/>
<rect x="245.55" y="163.07" width="6.52" height="5.45" fill="#8004ff"/>
<rect x="251.77" y="163.07" width="6.52" height="5.45" fill="#6301ce"/>
<rect x="257.99" y="163.07" width="6.52" height="5.45" fill="#5a00b4"/>
<rect x="264.21" y="163.07" width="6.52" height="5.45" fill="#510096"/>
<rect x="270.43" y="163.07" width="12.74" height="5.45" fill="#48007b"/>
<rect x="282.87" y="163.07" width="37.62" height="5.45" fill="#510096"/>
<rect x="320.19" y="163.07" width="37.62" height="5.45" fill="#48007b"/>
<rect x="357.51" y="163.07" width="31.40" height="5.45" fill="#510096"/>
<rect x="388.61" y="163.07" width="6.52" height="5.45" fill="#5a00b4"/>
<rect x="394.83" y="163.07" width="6.52" height="5.45" fill="#510096"/>
<rect x="401.05" y="163.07" width="12.74" height="5.45" fill="#5a00b4"/>
<rect x="413.49" y="163.07" width="6.52" height="5.45" fill="#6301ce"/>
<rect x="419.71" y="163.07" width="74.94" height="5.45" fill="#510096"/>
<rect x="494.35" y="163.07" width="6.52" height="5.45" fill="#5a00b4"/>
<rect x="500.57" y="163.07" width="6.52" height="5.45" fill="#6301ce"/>
<rect x="506.79" y="163.07" width="6.52" height="5.45" fill="#7202f3"/>
<rect x="513.01" y="163.07" width="6.52" height="5.45" fill="#8004ff"/>
<rect x="519.23" y="163.07" width="5.57" height="5.45" fill="#970bce"/>
<rect x="74.50" y="168.23" width="3.41" height="5.45" fill="#8004ff"/>
<rect x="77.61" y="168.23" width="6.52" height="5.45" fill="#6b01e3"/>
<rect x="83.83" y="168.23" width="6.52" height="5.45" fill="#6301ce"/>
<rect x="90.05" y="168.23" width="6.52" height="5.45" fill="#6b01e3"/>
<rect x="96.27" y="168.23" width="6.52" height="5.45" fill="#8004ff"/>
<rect x="102.49" y="168.23" width="6.52" height="5.45" fill="#8c07f3"/>
<rect x="108.71" y="168.23" width="6.52" height="5.45" fill="#8004ff"/>
<rect x="114.93" y="168.23" width="6.52" height="5.45" fill="#5a00b4"/>
<rect x="121.15" y="168.23" width="12.74" height="5.45" fill="#510096"/>
<rect x="133.59" y="168.23" width="6.52" height="5.45" fill="#48007b"/>
<rect x="139.81" y="168.23" width="6.52" height="5.45" fill="#510096"/>
<rect x="146.03" y="168.23" width="6.52" height="5.45" fill="#48007b"/>
<rect x="152.25" y="168.23" width="6.52" height="5.45" fill="#510096"/>
<rect x="158.47" y="168.23" width="50.06" height="5.45" fill="#48007b"/>
<rect x="208.23" y="168.23" width="12.74" height="5.45" fill="#510096"/>
<rect x="220.67" y="168.23" width="6.52" height="5.45" fill="#48007b"/>
<rect x="226.89" y="168.23" width="6.52" height="5.45" fill="#510096"/>
<rect x="233.11" y="168.23" width="6.52" height="5.45" fill="#6301ce"/>
<rect x="239.33" y="168.23" width="6.52" height="5.45" fill="#7202f3"/>
<rect x="245.55" y="168.23" width="6.52" height="5.45" fill="#970bce"/>
<rect x="251.77" y="168.23" width="6.52" height="5.45" fill="#6301ce"/>
<rect x="257.99" y="168.23" width="6.52" height="5.45" fill="#5a00b4"/>
<rect x="264.21" y="168.23" width="31.40" height="5.45" fill="#510096"/>
<rect x="295.31" y="168.23" width="18.96" height="5.45" fill="#5a00b4"/>
<rect x="313.97" y="168.23" width="18.96" height="5.45" fill="#510096"/>
<rect x="332.63" y="168.23" width="12.74" height="5.45" fill="#48007b"/>
<rect x="345.07" y="168.23" width="25.18" height="5.45" fill="#510096"/>
<rect x="369.95" y="168.23" width="12.74" height="5.45" fill="#5a00b4"/>
<rect x="382.39" y="168.23" width="18.96" height="5.45" fill="#510096"/>
<rect x="401.05" y="168.23" width="6.52" height="5.45" fill="#6301ce"/>
<rect x="407.27" y="168.23" width="12.74" height="5.45" fill="#6b01e3"/>
<rect x="419.71" y="168.23" width="6.52" height="5.45" fill="#5a00b4"/>
<rect x="425.93" y="168.23" width="56.28" height="5.45" fill="#510096"/>
<rect x="481.91" y="168.23" width="12.74" height="5.45" fill="#5a00b4"/>
<rect x="494.35" y="168.23" width="6.52" height="5.45" fill="#6301ce"/>
<rect x="500.57" y="168.23" width="6.52" height="5.45" fill="#6b01e3"/>
<rect x="506.79" y="168.23" width="6.52" height="5.45" fill="#8004ff"/>
<rect x="513.01" y="168.23" width="6.52" height="5.45" fill="#970bce"/>
<rect x="519.23" y="168.23" width="5.57" height="5.45" fill="#a11096"/>
<rect x="74.50" y="173.38" width="3.41" height="5.45" fill="#6b01e3"/>
<rect x="77.61" y="173.38" width="6.52" height="5.45" fill="#510096"/>
<rect x="83.83" y="173.38" width="6.52" height="5.45" fill="#48007b"/>
<rect x="90.05" y="173.38" width="6.52" height="5.45" fill="#510096"/>
<rect x="96.27" y="173.38" width="12.74" height="5.45" fill="#5a00b4"/>
<rect x="108.71" y="173.38" width="6.52" height="5.45" fill="#510096"/>
<rect x="114.93" y="173.38" width="6.52" height="5.45" fill="#48007b"/>
<rect x="121.15" y="173.38" width="6.52" height="5.45" fill="#510096"/>
<rect x="127.37" y="173.38" width="25.18" height="5.45" fill="#48007b"/>
<rect x="152.25" y="173.38" width="12.74" height="5.45" fill="#510096"/>
<rect x="164.69" y="173.38" width="56.28" height="5.45" fill="#48007b"/>
<rect x="220.67" y="173.38" width="6.52" height="5.45" fill="#510096"/>
<rect x="226.89" y="173.38" width="6.52" height="5.45" fill="#5a00b4"/>
<rect x="233.11" y="173.38" width="12.74" height="5.45" fill="#7202f3"/>
<rect x="245.55" y="173.38" width="6.52" height="5.45" fill="#8004ff"/>
<rect x="251.77" y="173.38" width="6.52" height="5.45" fill="#6301ce"/>
<rect x="257.99" y="173.38" width="6.52" height="5.45" fill="#5a00b4"/>
<rect x="264.21" y="173.38" width="12.74" height="5.45" fill="#510096"/>
<rect x="276.65" y="173.38" width="12.74" height="5.45" fill="#5a00b4"/>
<rect x="289.09" y="173.38" width="6.52" height="5.45" fill="#510096"/>
<rect x="295.31" y="173.38" width="6.52" height="5.45" fill="#5a00b4"/>
<rect x="301.53" y="173.38" width="6.52" height="5.45" fill="#6301ce"/>
<rect x="307.75" y="173.38" width="6.52" height="5.45" fill="#5a00b4"/>
<rect x="313.97" y="173.38" width="6.52" height="5.45" fill="#510096"/>
<rect x="320.19" y="173.38" width="6.52" height="5.45" fill="#5a00b4"/>
<rect x="326.41" y="173.38" width="25.18" height="5.45" fill="#510096"/>
<rect x="351.29" y="173.38" width="18.96" height="5.45" fill="#5a00b4"/>
<rect x="369.95" y="173.38" width="6.52" height="5.45" fill="#510096"/>
<rect x="376.17" y="173.38" width="6.52" height="5.45" fill="#6b01e3"/>
<rect x="382.39" y="173.38" width="6.52" height="5.45" fill="#5a00b4"/>
<rect x="388.61" y="173.38" width="12.74" height="5.45" fill="#510096"/>
<rect x="401.05" y="173.38" width="18.96" height="5.45" fill="#5a00b4"/>
<rect x="419.71" y="173.38" width="68.72" height="5.45" fill="#510096"/>
<rect x="488.13" y="173.38" width="6.52" height="5.45" fill="#5a00b4"/>
<rect x="494.35" y="173.38" width="6.52" height="5.45" fill="#6301ce"/>
<rect x="500.57" y="173.38" width="6.52" height="5.45" fill="#7202f3"/>
<rect x="506.79" y="173.38" width="12.74" height="5.45" fill="#8004ff"/>
<rect x="519.23" y="173.38" width="5.57" height="5.45" fill="#8c07f3"/>
<rect x="74.50" y="178.53" width="3.41" height="5.45" fill="#6b01e3"/>
<rect x="77.61" y="178.53" width="6.52" height="5.45" fill="#6301ce"/>
<rect x="83.83" y="178.53" width="6.52" height="5.45" fill="#5a00b4"/>
<rect x="90.05" y="178.53" width="18.96" height="5.45" fill="#510096"/>
<rect x="108.71" y="178.53" width="6.52" height="5.45" fill="#48007b"/>
<rect x="114.93" y="178.53" width="74.94" height="5.45" fill="#510096"/>
<rect x="189.57" y="178.53" width="12.74" height="5.45" fill="#48007b"/>
<rect x="202.01" y="178.53" width="6.52" height="5.45" fill="#510096"/>
<rect x="208.23" y="178.53" width="12.74" height="5.45" fill="#48007b"/>
<rect x="220.67" y="178.53" width="6.52" height="5.45" fill="#5a00b4"/>
<rect x="226.89" y="178.53" width="6.52" height="5.45" fill="#6b01e3"/>
<rect x="233.11" y="178.53" width="25.18" height="5.45" fill="#7202f3"/>
<rect x="257.99" y="178.53" width="6.52" height="5.45" fill="#6b01e3"/>
<rect x="264.21" y="178.53" width="6.52" height="5.45" fill="#6301ce"/>
<rect x="270.43" y="178.53" width="6.52" height="5.45" fill="#6b01e3"/>
<rect x="276.65" y="178.53" width="18.96" height="5.45" fill="#7202f3"/>
<rect x="295.31" y="178.53" width="6.52" height="5.45" fill="#8004ff"/>
<rect x="301.53" y="178.53" width="6.52" height="5.45" fill="#7202f3"/>
<rect x="307.75" y="178.53" width="6.52" height="5.45" fill="#6301ce"/>
<rect x="313.97" y="178.53" width="6.52" height="5.45" fill="#5a00b4"/>
<rect x="320.19" y="178.53" width="6.52" height="5.45" fill="#510096"/>
<rect x="326.41" y="178.53" width="6.52" height="5.45" fill="#5a00b4"/>
<rect x="332.63" y="178.53" width="12.74" height="5.45" fill="#510096"/>
<rect x="345.07" y="178.53" width="6.52" height="5.45" fill="#48007b"/>
<rect x="351.29" y="178.53" width="6.52" height="5.45" fill="#510096"/>
<rect x="357.51" y="178.53" width="12.74" height="5.45" fill="#5a00b4"/>
<rect x="369.95" y="178.53" width="6.52" height="5.45" fill="#510096"/>
<rect x="376.17" y="178.53" width="6.52" height="5.45" fill="#5a00b4"/>
<rect x="382.39" y="178.53" width="6.52" height="5.45" fill="#6301ce"/>
<rect x="388.61" y="178.53" width="6.52" height="5.45" fill="#6b01e3"/>
<rect x="394.83" y="178.53" width="6.52" height="5.45" fill="#7202f3"/>
<rect x="401.05" y="178.53" width="6.52" height="5.45" fill="#6301ce"/>
<rect x="407.27" y="178.53" width="6.52" height="5.45" fill="#5a00b4"/>
<rect x="413.49" y="178.53" width="31.40" height="5.45" fill="#510096"/>
<rect x="444.59" y="178.53" width="18.96" height="5.45" fill="#5a00b4"/>
<rect x="463.25" y="178.53" width="12.74" height="5.45" fill="#510096"/>
<rect x="475.69" y="178.53" width="18.96" height="5.45" fill="#5a00b4"/>
<rect x="494.35" y="178.53" width="6.52" height="5.45" fill="#7202f3"/>
<rect x="500.57" y="178.53" width="6.52" height="5.45" fill="#8004ff"/>
<rect x="506.79" y="178.53" width="12.74" height="5.45" fill="#8c07f3"/>
<rect x="519.23" y="178.53" width="5.57" height="5.45" fill="#970bce"/>
<rect x="74.50" y="183.68" width="3.41" height="5.45" fill="#7202f3"/>
<rect x="77.61" y="183.68" width="6.52" height="5.45" fill="#6b01e3"/>
<rect x="83.83" y="183.68" width="6.52" height="5.45" fill="#5a00b4"/>
<rect x="90.05" y="183.68" width="18.96" height="5.45" fill="#510096"/>
<rect x="108.71" y="183.68" width="6.52" height="5.45" fill="#48007b"/>
<rect x="114.93" y="183.68" width="6.52" height="5.45" fill="#510096"/>
<rect x="121.15" y="183.68" width="6.52" height="5.45" fill="#5a00b4"/>
<rect x="127.37" y="183.68" width="18.96" height="5.45" fill="#510096"/>
<rect x="146.03" y="183.68" width="12.74" height="5.45" fill="#5a00b4"/>
<rect x="158.47" y="183.68" width="31.40" height="5.45" fill="#510096"/>
<rect x="189.57" y="183.68" width="31.40" height="5.45" fill="#48007b"/>
<rect x="220.67" y="183.68" width="6.52" height="5.45" fill="#5a00b4"/>
<rect x="226.89" y="183.68" width="12.74" height="5.45" fill="#6301ce"/>
<rect x="239.33" y="183.68" width="6.52" height="5.45" fill="#6b01e3"/>
<rect x="245.55" y="183.68" width="12.74" height="5.45" fill="#7202f3"/>
<rect x="257.99" y="183.68" width="18.96" height="5.45" fill="#8004ff"/>
<rect x="276.65" y="183.68" width="18.96" height="5.45" fill="#8c07f3"/>
<rect x="295.31" y="183.68" width="6.52" height="5.45" fill="#970bce"/>
<rect x="301.53" y="183.68" width="6.52" height="5.45" fill="#7202f3"/>
<rect x="307.75" y="183.68" width="6.52" height="5.45" fill="#6301ce"/>
<rect x="313.97" y="183.68" width="6.52" height="5.45" fill="#510096"/>
<rect x="320.19" y="183.68" width="12.74" height="5.45" fill="#6301ce"/>
<rect x="332.63" y="183.68" width="6.52" height="5.45" fill="#510096"/>
<rect x="338.85" y="183.68" width="6.52" height="5.45" fill="#5a00b4"/>
<rect x="345.07" y="183.68" width="18.96" height="5.45" fill="#510096"/>
<rect x="363.73" y="183.68" width="18.96" height="5.45" fill="#5a00b4"/>
<rect x="382.39" y="183.68" width="6.52" height="5.45" fill="#6301ce"/>
<rect x="388.61" y="183.68" width="6.52" height="5.45" fill="#6b01e3"/>
<rect x="394.83" y="183.68" width="6.52" height="5.45" fill="#7202f3"/>
<rect x="401.05" y="183.68" width="6.52" height="5.45" fill="#6301ce"/>
<rect x="407.27" y="183.68" width="12.74" height="5.45" fill="#5a00b4"/>
<rect x="419.71" y="183.68" width="6.52" height="5.45" fill="#510096"/>
<rect x="425.93" y="183.68" width="25.18" height="5.45" fill="#5a00b4"/>
<rect x="450.81" y="183.68" width="6.52" height="5.45" fill="#6b01e3"/>
<rect x="457.03" y="183.68" width="6.52" height="5.45" fill="#6301ce"/>
<rect x="463.25" y="183.68" width="6.52" height="5.45" fill="#510096"/>
<rect x="469.47" y="183.68" width="6.52" height="5.45" fill="#48007b"/>
<rect x="475.69" y="183.68" width="6.52" height="5.45" fill="#510096"/>
<rect x="481.91" y="183.68" width="6.52" height="5.45" fill="#5a00b4"/>
<rect x="488.13" y="183.68" width="6.52" height="5.45" fill="#6301ce"/>
<rect x="494.35" y="183.68" width="6.52" height="5.45" fill="#7202f3"/>
<rect x="500.57" y="183.68" width="18.96" height="5.45" fill="#8004ff"/>
<rect x="519.23" y="183.68" width="5.57" height="5.45" fill="#8c07f3"/>
<rect x="74.50" y="188.83" width="3.41" height="5.45" fill="#7202f3"/>
<rect x="77.61" y="188.83" width="6.52" height="5.45" fill="#6301ce"/>
<rect x="83.83" y="188.83" width="6.52" height="5.45" fill="#510096"/>
<rect x="90.05" y="188.83" width="12.74" height="5.45" fill="#48007b"/>
<rect x="102.49" y="188.83" width="12.74" height="5.45" fill="#510096"/>
<rect x="114.93" y="188.83" width="6.52" height="5.45" fill="#5a00b4"/>
<rect x="121.15" y="188.83" width="12.74" height="5.45" fill="#6b01e3"/>
<rect x="133.59" y="188.83" width="6.52" height="5.45" fill="#6301ce"/>
<rect x="139.81" y="188.83" width="6.52" height="5.45" fill="#5a00b4"/>
<rect x="146.03" y="188.83" width="6.52" height="5.45" fill="#6301ce"/>
<rect x="152.25" y="188.83" width="6.52" height="5.45" fill="#5a00b4"/>
<rect x="158.47" y="188.83" width="18.96" height="5.45" fill="#510096"/>
<rect x="177.13" y="188.83" width="6.52" height="5.45" fill="#48007b"/>
<rect x="183.35" y="188.83" width="6.52" height="5.45" fill="#510096"/>
<rect x="189.57" y="188.83" width="31.40" height="5.45" fill="#48007b"/>
<rect x="220.67" y="188.83" width="12.74" height="5.45" fill="#510096"/>
<rect x="233.11" y="188.83" width="6.52" height="5.45" fill="#5a00b4"/>
<rect x="239.33" y="188.83" width="6.52" height="5.45" fill="#6301ce"/>
<rect x="245.55" y="188.83" width="6.52" height="5.45" fill="#6b01e3"/>
<rect x="251.77" y="188.83" width="6.52" height="5.45" fill="#7202f3"/>
<rect x="257.99" y="188.83" width="6.52" height="5.45" fill="#8004ff"/>
<rect x="264.21" y="188.83" width="6.52" height="5.45" fill="#a11096"/>
<rect x="270.43" y="188.83" width="12.74" height="5.45" fill="#ab174f"/>
<rect x="282.87" y="188.83" width="12.74" height="5.45" fill="#a11096"/>
<rect x="295.31" y="188.83" width="6.52" height="5.45" fill="#ab174f"/>
<rect x="301.53" y="188.83" width="6.52" height="5.45" fill="#7202f3"/>
<rect x="307.75" y="188.83" width="6.52" height="5.45" fill="#6301ce"/>
<rect x="313.97" y="188.83" width="6.52" height="5.45" fill="#5a00b4"/>
<rect x="320.19" y="188.83" width="6.52" height="5.45" fill="#6b01e3"/>
<rect x="326.41" y="188.83" width="6.52" height="5.45" fill="#6301ce"/>
<rect x="332.63" y="188.83" width="6.52" height="5.45" fill="#5a00b4"/>
<rect x="338.85" y="188.83" width="6.52" height="5.45" fill="#6301ce"/>
<rect x="345.07" y="188.83" width="12.74" height="5.45" fill="#510096"/>
<rect x="357.51" y="188.83" width="18.96" height="5.45" fill="#5a00b4"/>
<rect x="376.17" y="188.83" width="12.74" height="5.45" fill="#6301ce"/>
<rect x="388.61" y="188.83" width="6.52" height="5.45" fill="#6b01e3"/>
<rect x="394.83" y="188.83" width="6.52" height="5.45" fill="#7202f3"/>
<rect x="401.05" y="188.83" width="6.52" height="5.45" fill="#6b01e3"/>
<rect x="407.27" y="188.83" width="6.52" height="5.45" fill="#6301ce"/>
<rect x="413.49" y="188.83" width="18.96" height="5.45" fill="#5a00b4"/>
<rect x="432.15" y="188.83" width="12.74" height="5.45" fill="#510096"/>
<rect x="444.59" y="188.83" width="6.52" height="5.45" fill="#6301ce"/>
<rect x="450.81" y="188.83" width="18.96" height="5.45" fill="#6b01e3"/>
<rect x="469.47" y="188.83" width="6.52" height="5.45" fill="#6301ce"/>
<rect x="475.69" y="188.83" width="6.52" height="5.45" fill="#5a00b4"/>
<rect x="481.91" y="188.83" width="6.52" height="5.45" fill="#6301ce"/>
<rect x="488.13" y="188.83" width="6.52" height="5.45" fill="#7202f3"/>
<rect x="494.35" y="188.83" width="12.74" height="5.45" fill="#6b01e3"/>
<rect x="506.79" y="188.83" width="6.52" height="5.45" fill="#7202f3"/>
<rect x="513.01" y="188.83" width="6.52" height="5.45" fill="#8004ff"/>
<rect x="519.23" y="188.83" width="5.57" height="5.45" fill="#8c07f3"/>
<rect x="74.50" y="193.98" width="3.41" height="5.45" fill="#7202f3"/>
<rect x="77.61" y="193.98" width="6.52" height="5.45" fill="#6301ce"/>
<rect x="83.83" y="193.98" width="6.52" height="5.45" fill="#5a00b4"/>
<rect x="90.05" y="193.98" width="18.96" height="5.45" fill="#510096"/>
<rect x="108.71" y="193.98" width="12.74" height="5.45" fill="#5a00b4"/>
<rect x="121.15" y="193.98" width="6.52" height="5.45" fill="#6b01e3"/>
<rect x="127.37" y="193.98" width="25.18" height="5.45" fill="#8004ff"/>
<rect x="152.25" y="193.98" width="6.52" height="5.45" fill="#6301ce"/>
<rect x="158.47" y="193.98" width="6.52" height="5.45" fill="#48007b"/>
<rect x="164.69" y="193.98" width="37.62" height="5.45" fill="#510096"/>
<rect x="202.01" y="193.98" width="18.96" height="5.45" fill="#48007b"/>
<rect x="220.67" y="193.98" width="25.18" height="5.45" fill="#5a00b4"/>
<rect x="245.55" y="193.98" width="6.52" height="5.45" fill="#6b01e3"/>
<rect x="251.77" y="193.98" width="6.52" height="5.45" fill="#7202f3"/>
<rect x="257.99" y="193.98" width="6.52" height="5.45" fill="#8004ff"/>
<rect x="264.21" y="193.98" width="6.52" height="5.45" fill="#b42000"/>
<rect x="270.43" y="193.98" width="12.74" height="5.45" fill="#bd2a00"/>
<rect x="282.87" y="193.98" width="6.52" height="5.45" fill="#b42000"/>
<rect x="289.09" y="193.98" width="12.74" height="5.45" fill="#a11096"/>
<rect x="301.53" y="193.98" width="6.52" height="5.45" fill="#7202f3"/>
<rect x="307.75" y="193.98" width="6.52" height="5.45" fill="#6b01e3"/>
<rect x="313.97" y="193.98" width="25.18" height="5.45" fill="#7202f3"/>
<rect x="338.85" y="193.98" width="6.52" height="5.45" fill="#6b01e3"/>
<rect x="345.07" y="193.98" width="12.74" height="5.45" fill="#510096"/>
<rect x="357.51" y="193.98" width="12.74" height="5.45" fill="#5a00b4"/>
<rect x="369.95" y="193.98" width="12.74" height="5.45" fill="#6301ce"/>
<rect x="382.39" y="193.98" width="6.52" height="5.45" fill="#6b01e3"/>
<rect x="388.61" y="193.98" width="12.74" height="5.45" fill="#7202f3"/>
<rect x="401.05" y="193.98" width="12.74" height="5.45" fill="#6b01e3"/>
<rect x="413.49" y="193.98" width="12.74" height="5.45" fill="#6301ce"/>
<rect x="425.93" y="193.98" width="6.52" height="5.45" fill="#5a00b4"/>
<rect x="432.15" y="193.98" width="12.74" height="5.45" fill="#510096"/>
<rect x="444.59" y="193.98" width="6.52" height="5.45" fill="#5a00b4"/>
<rect x="450.81" y="193.98" width="37.62" height="5.45" fill="#6301ce"/>
<rect x="488.13" y="193.98" width="6.52" height="5.45" fill="#5a00b4"/>
<rect x="494.35" y="193.98" width="6.52" height="5.45" fill="#510096"/>
<rect x="500.57" y="193.98" width="6.52" height="5.45" fill="#6301ce"/>
<rect x="506.79" y="193.98" width="6.52" height="5.45" fill="#7202f3"/>
<rect x="513.01" y="193.98" width="6.52" height="5.45" fill="#8004ff"/>
<rect x="519.23" y="193.98" width="5.57" height="5.45" fill="#8c07f3"/>
<rect x="74.50" y="199.12" width="3.41" height="5.45" fill="#7202f3"/>
<rect x="77.61" y="199.12" width="6.52" height="5.45" fill="#6b01e3"/>
<rect x="83.83" y="199.12" width="6.52" height="5.45" fill="#6301ce"/>
<rect x="90.05" y="199.12" width="6.52" height="5.45" fill="#5a00b4"/>
<rect x="96.27" y="199.12" width="18.96" height="5.45" fill="#510096"/>
<rect x="114.93" y="199.12" width="6.52" height="5.45" fill="#5a00b4"/>
<rect x="121.15" y="199.12" width="6.52" height="5.45" fill="#6b01e3"/>
<rect x="127.37" y="199.12" width="6.52" height="5.45" fill="#8004ff"/>
<rect x="133.59" y="199.12" width="12.74" height="5.45" fill="#970bce"/>
<rect x="146.03" y="199.12" width="6.52" height="5.45" fill="#8004ff"/>
<rect x="152.25" y="199.12" width="6.52" height="5.45" fill="#6b01e3"/>
<rect x="158.47" y="199.12" width="6.52" height="5.45" fill="#5a00b4"/>
<rect x="164.69" y="199.12" width="62.50" height="5.45" fill="#510096"/>
<rect x="226.89" y="199.12" width="6.52" height="5.45" fill="#5a00b4"/>
<rect x="233.11" y="199.12" width="12.74" height="5.45" fill="#6301ce"/>
<rect x="245.55" y="199.12" width="6.52" height="5.45" fill="#6b01e3"/>
<rect x="251.77" y="199.12" width="6.52" height="5.45" fill="#7202f3"/>
<rect x="257.99" y="199.12" width="6.52" height="5.45" fill="#8004ff"/>
<rect x="264.21" y="199.12" width="12.74" height="5.45" fill="#ab174f"/>
<rect x="276.65" y="199.12" width="12.74" height="5.45" fill="#b42000"/>
<rect x="289.09" y="199.12" width="6.52" height="5.45" fill="#a11096"/>
<rect x="295.31" y="199.12" width="6.52" height="5.45" fill="#8c07f3"/>
<rect x="301.53" y="199.12" width="6.52" height="5.45" fill="#8004ff"/>
<rect x="307.75" y="199.12" width="6.52" height="5.45" fill="#7202f3"/>
<rect x="313.97" y="199.12" width="6.52" height="5.45" fill="#8004ff"/>
<rect x="320.19" y="199.12" width="12.74" height="5.45" fill="#8c07f3"/>
<rect x="332.63" y="199.12" width="6.52" height="5.45" fill="#970bce"/>
<rect x="338.85" y="199.12" width="6.52" height="5.45" fill="#8004ff"/>
<rect x="345.07" y="199.12" width="12.74" height="5.45" fill="#6301ce"/>
<rect x="357.51" y="199.12" width="6.52" height="5.45" fill="#5a00b4"/>
<rect x="363.73" y="199.12" width="12.74" height="5.45" fill="#6301ce"/>
<rect x="376.17" y="199.12" width="6.52" height="5.45" fill="#6b01e3"/>
<rect x="382.39" y="199.12" width="6.52" height="5.45" fill="#7202f3"/>
<rect x="388.61" y="199.12" width="12.74" height="5.45" fill="#6b01e3"/>
<rect x="401.05" y="199.12" width="12.74" height="5.45" fill="#7202f3"/>
<rect x="413.49" y="199.12" width="6.52" height="5.45" fill="#6b01e3"/>
<rect x="419.71" y="199.12" width="6.52" height="5.45" fill="#6301ce"/>
<rect x="425.93" y="199.12" width="6.52" height="5.45" fill="#5a00b4"/>
<rect x="432.15" y="199.12" width="12.74" height="5.45" fill="#510096"/>
<rect x="444.59" y="199.12" width="56.28" height="5.45" fill="#5a00b4"/>
<rect x="500.57" y="199.12" width="6.52" height="5.45" fill="#6b01e3"/>
<rect x="506.79" y="199.12" width="6.52" height="5.45" fill="#7202f3"/>
<rect x="513.01" y="199.12" width="6.52" height="5.45" fill="#8004ff"/>
<rect x="519.23" y="199.12" width="5.57" height="5.45" fill="#970bce"/>
<rect x="74.50" y="204.28" width="3.41" height="5.45" fill="#8004ff"/>
<rect x="77.61" y="204.28" width="6.52" height="5.45" fill="#7202f3"/>
<rect x="83.83" y="204.28" width="6.52" height="5.45" fill="#6b01e3"/>
<rect x="90.05" y="204.28" width="6.52" height="5.45" fill="#6301ce"/>
<rect x="96.27" y="204.28" width="18.96" height="5.45" fill="#510096"/>
<rect x="114.93" y="204.28" width="6.52" height="5.45" fill="#6301ce"/>
<rect x="121.15" y="204.28" width="6.52" height="5.45" fill="#6b01e3"/>
<rect x="127.37" y="204.28" width="6.52" height="5.45" fill="#8004ff"/>
<rect x="133.59" y="204.28" width="6.52" height="5.45" fill="#ab174f"/>
<rect x="139.81" y="204.28" width="6.52" height="5.45" fill="#b42000"/>
<rect x="146.03" y="204.28" width="6.52" height="5.45" fill="#8004ff"/>
<rect x="152.25" y="204.28" width="6.52" height="5.45" fill="#6b01e3"/>
<rect x="158.47" y="204.28" width="6.52" height="5.45" fill="#6301ce"/>
<rect x="164.69" y="204.28" width="25.18" height="5.45" fill="#510096"/>
<rect x="189.57" y="204.28" width="6.52" height="5.45" fill="#48007b"/>
<rect x="195.79" y="204.28" width="25.18" height="5.45" fill="#510096"/>
<rect x="220.67" y="204.28" width="6.52" height="5.45" fill="#48007b"/>
<rect x="226.89" y="204.28" width="12.74" height="5.45" fill="#510096"/>
<rect x="239.33" y="204.28" width="6.52" height="5.45" fill="#5a00b4"/>
<rect x="245.55" y="204.28" width="6.52" height="5.45" fill="#6301ce"/>
<rect x="251.77" y="204.28" width="6.52" height="5.45" fill="#6b01e3"/>
<rect x="257.99" y="204.28" width="6.52" height="5.45" fill="#8004ff"/>
<rect x="264.21" y="204.28" width="6.52" height="5.45" fill="#8c07f3"/>
<rect x="270.43" y="204.28" width="18.96" height="5.45" fill="#ab174f"/>
<rect x="289.09" y="204.28" width="12.74" height="5.45" fill="#970bce"/>
<rect x="301.53" y="204.28" width="31.40" height="5.45" fill="#8004ff"/>
<rect x="332.63" y="204.28" width="6.52" height="5.45" fill="#ab174f"/>
<rect x="338.85" y="204.28" width="6.52" height="5.45" fill="#8c07f3"/>
<rect x="345.07" y="204.28" width="6.52" height="5.45" fill="#8004ff"/>
<rect x="351.29" y="204.28" width="6.52" height="5.45" fill="#7202f3"/>
<rect x="357.51" y="204.28" width="31.40" height="5.45" fill="#6b01e3"/>
<rect x="388.61" y="204.28" width="6.52" height="5.45" fill="#5a00b4"/>
<rect x="394.83" y="204.28" width="6.52" height="5.45" fill="#6301ce"/>
<rect x="401.05" y="204.28" width="18.96" height="5.45" fill="#6b01e3"/>
<rect x="419.71" y="204.28" width="6.52" height="5.45" fill="#6301ce"/>
<rect x="425.93" y="204.28" width="25.18" height="5.45" fill="#5a00b4"/>
<rect x="450.81" y="204.28" width="31.40" height="5.45" fill="#510096"/>
<rect x="481.91" y="204.28" width="6.52" height="5.45" fill="#5a00b4"/>
<rect x="488.13" y="204.28" width="6.52" height="5.45" fill="#6301ce"/>
<rect x="494.35" y="204.28" width="6.52" height="5.45" fill="#6b01e3"/>
<rect x="500.57" y="204.28" width="12.74" height="5.45" fill="#7202f3"/>
<rect x="513.01" y="204.28" width="6.52" height="5.45" fill="#8004ff"/>
<rect x="519.23" y="204.28" width="5.57" height="5.45" fill="#970bce"/>
<rect x="74.50" y="209.43" width="3.41" height="5.45" fill="#970bce"/>
<rect x="77.61" y="209.43" width="12.74" height="5.45" fill="#7202f3"/>
<rect x="90.05" y="209.43" width="18.96" height="5.45" fill="#6b01e3"/>
<rect x="108.71" y="209.43" width="12.74" height="5.45" fill="#5a00b4"/>
<rect x="121.15" y="209.43" width="6.52" height="5.45" fill="#6b01e3"/>
<rect x="127.37" y="209.43" width="6.52" height="5.45" fill="#7202f3"/>
<rect x="133.59" y="209.43" width="6.52" height="5.45" fill="#970bce"/>
<rect x="139.81" y="209.43" width="6.52" height="5.45" fill="#bd2a00"/>
<rect x="146.03" y="209.43" width="6.52" height="5.45" fill="#8004ff"/>
<rect x="152.25" y="209.43" width="6.52" height="5.45" fill="#6b01e3"/>
<rect x="158.47" y="209.43" width="6.52" height="5.45" fill="#6301ce"/>
<rect x="164.69" y="209.43" width="6.52" height="5.45" fill="#5a00b4"/>
<rect x="170.91" y="209.43" width="12.74" height="5.45" fill="#510096"/>
<rect x="183.35" y="209.43" width="6.52" height="5.45" fill="#48007b"/>
<rect x="189.57" y="209.43" width="43.84" height="5.45" fill="#510096"/>
<rect x="233.11" y="209.43" width="6.52" height="5.45" fill="#48007b"/>
<rect x="239.33" y="209.43" width="6.52" height="5.45" fill="#510096"/>
<rect x="245.55" y="209.43" width="6.52" height="5.45" fill="#5a00b4"/>
<rect x="251.77" y="209.43" width="6.52" height="5.45" fill="#6301ce"/>
<rect x="257.99" y="209.43" width="6.52" height="5.45" fill="#8004ff"/>
<rect x="264.21" y="209.43" width="6.52" height="5.45" fill="#8c07f3"/>
<rect x="270.43" y="209.43" width="6.52" height="5.45" fill="#a11096"/>
<rect x="276.65" y="209.43" width="6.52" height="5.45" fill="#ab174f"/>
<rect x="282.87" y="209.43" width="6.52" height="5.45" fill="#a11096"/>
<rect x="289.09" y="209.43" width="6.52" height="5.45" fill="#8c07f3"/>
<rect x="295.31" y="209.43" width="25.18" height="5.45" fill="#7202f3"/>
<rect x="320.19" y="209.43" width="12.74" height="5.45" fill="#8004ff"/>
<rect x="332.63" y="209.43" width="6.52" height="5.45" fill="#8c07f3"/>
<rect x="338.85" y="209.43" width="6.52" height="5.45" fill="#970bce"/>
<rect x="345.07" y="209.43" width="12.74" height="5.45" fill="#a11096"/>
<rect x="357.51" y="209.43" width="6.52" height="5.45" fill="#7202f3"/>
<rect x="363.73" y="209.43" width="12.74" height="5.45" fill="#6b01e3"/>
<rect x="376.17" y="209.43" width="12.74" height="5.45" fill="#5a00b4"/>
<rect x="388.61" y="209.43" width="6.52" height="5.45" fill="#510096"/>
<rect x="394.83" y="209.43" width="12.74" height="5.45" fill="#5a00b4"/>
<rect x="407.27" y="209.43" width="25.18" height="5.45" fill="#6301ce"/>
<rect x="432.15" y="209.43" width="31.40" height="5.45" fill="#5a00b4"/>
<rect x="463.25" y="209.43" width="18.96" height="5.45" fill="#510096"/>
<rect x="481.91" y="209.43" width="12.74" height="5.45" fill="#5a00b4"/>
<rect x="494.35" y="209.43" width="6.52" height="5.45" fill="#6301ce"/>
<rect x="500.57" y="209.43" width="12.74" height="5.45" fill="#7202f3"/>
<rect x="513.01" y="209.43" width="6.52" height="5.45" fill="#8004ff"/>
<rect x="519.23" y="209.43" width="5.57" height="5.45" fill="#b42000"/>
<rect x="74.50" y="214.58" width="3.41" height="5.45" fill="#a11096"/>
<rect x="77.61" y="214.58" width="31.40" height="5.45" fill="#8004ff"/>
<rect x="108.71" y="214.58" width="12.74" height="5.45" fill="#6301ce"/>
<rect x="121.15" y="214.58" width="12.74" height="5.45" fill="#7202f3"/>
<rect x="133.59" y="214.58" width="6.52" height="5.45" fill="#a11096"/>
<rect x="139.81" y="214.58" width="6.52" height="5.45" fill="#bd2a00"/>
<rect x="146.03" y="214.58" width="6.52" height="5.45" fill="#8004ff"/>
<rect x="152.25" y="214.58" width="12.74" height="5.45" fill="#7202f3"/>
<rect x="164.69" y="214.58" width="6.52" height="5.45" fill="#6b01e3"/>
<rect x="170.91" y="214.58" width="6.52" height="5.45" fill="#5a00b4"/>
<rect x="177.13" y="214.58" width="56.28" height="5.45" fill="#510096"/>
<rect x="233.11" y="214.58" width="12.74" height="5.45" fill="#5a00b4"/>
<rect x="245.55" y="214.58" width="6.52" height="5.45" fill="#6301ce"/>
<rect x="251.77" y="214.58" width="6.52" height="5.45" fill="#7202f3"/>
<rect x="257.99" y="214.58" width="6.52" height="5.45" fill="#8004ff"/>
<rect x="264.21" y="214.58" width="6.52" height="5.45" fill="#8c07f3"/>
<rect x="270.43" y="214.58" width="12.74" height="5.45" fill="#970bce"/>
<rect x="282.87" y="214.58" width="6.52" height="5.45" fill="#8c07f3"/>
<rect x="289.09" y="214.58" width="6.52" height="5.45" fill="#8004ff"/>
<rect x="295.31" y="214.58" width="6.52" height="5.45" fill="#6b01e3"/>
<rect x="301.53" y="214.58" width="12.74" height="5.45" fill="#6301ce"/>
<rect x="313.97" y="214.58" width="12.74" height="5.45" fill="#6b01e3"/>
<rect x="326.41" y="214.58" width="6.52" height="5.45" fill="#7202f3"/>
<rect x="332.63" y="214.58" width="6.52" height="5.45" fill="#8004ff"/>
<rect x="338.85" y="214.58" width="6.52" height="5.45" fill="#a11096"/>
<rect x="345.07" y="214.58" width="12.74" height="5.45" fill="#970bce"/>
<rect x="357.51" y="214.58" width="6.52" height="5.45" fill="#8004ff"/>
<rect x="363.73" y="214.58" width="12.74" height="5.45" fill="#6301ce"/>
<rect x="376.17" y="214.58" width="6.52" height="5.45" fill="#5a00b4"/>
<rect x="382.39" y="214.58" width="12.74" height="5.45" fill="#510096"/>
<rect x="394.83" y="214.58" width="25.18" height="5.45" fill="#5a00b4"/>
<rect x="419.71" y="214.58" width="18.96" height="5.45" fill="#6301ce"/>
<rect x="438.37" y="214.58" width="12.74" height="5.45" fill="#5a00b4"/>
<rect x="450.81" y="214.58" width="25.18" height="5.45" fill="#6301ce"/>
<rect x="475.69" y="214.58" width="18.96" height="5.45" fill="#5a00b4"/>
<rect x="494.35" y="214.58" width="6.52" height="5.45" fill="#6301ce"/>
<rect x="500.57" y="214.58" width="12.74" height="5.45" fill="#7202f3"/>
<rect x="513.01" y="214.58" width="6.52" height="5.45" fill="#8c07f3"/>
<rect x="519.23" y="214.58" width="5.57" height="5.45" fill="#bd2a00"/>
<rect x="74.50" y="219.73" width="3.41" height="5.45" fill="#a11096"/>
<rect x="77.61" y="219.73" width="6.52" height="5.45" fill="#8c07f3"/>
<rect x="83.83" y="219.73" width="25.18" height="5.45" fill="#8004ff"/>
<rect x="108.71" y="219.73" width="18.96" height="5.45" fill="#7202f3"/>
<rect x="127.37" y="219.73" width="12.74" height="5.45" fill="#8004ff"/>
<rect x="139.81" y="219.73" width="6.52" height="5.45" fill="#b42000"/>
<rect x="146.03" y="219.73" width="6.52" height="5.45" fill="#a11096"/>
<rect x="152.25" y="219.73" width="6.52" height="5.45" fill="#8c07f3"/>
<rect x="158.47" y="219.73" width="6.52" height="5.45" fill="#8004ff"/>
<rect x="164.69" y="219.73" width="12.74" height="5.45" fill="#7202f3"/>
<rect x="177.13" y="219.73" width="6.52" height="5.45" fill="#6301ce"/>
<rect x="183.35" y="219.73" width="6.52" height="5.45" fill="#5a00b4"/>
<rect x="189.57" y="219.73" width="6.52" height="5.45" fill="#510096"/>
<rect x="195.79" y="219.73" width="6.52" height="5.45" fill="#48007b"/>
<rect x="202.01" y="219.73" width="6.52" height="5.45" fill="#510096"/>
<rect x="208.23" y="219.73" width="6.52" height="5.45" fill="#5a00b4"/>
<rect x="214.45" y="219.73" width="31.40" height="5.45" fill="#510096"/>
<rect x="245.55" y="219.73" width="6.52" height="5.45" fill="#6301ce"/>
<rect x="251.77" y="219.73" width="6.52" height="5.45" fill="#7202f3"/>
<rect x="257.99" y="219.73" width="25.18" height="5.45" fill="#8004ff"/>
<rect x="282.87" y="219.73" width="12.74" height="5.45" fill="#7202f3"/>
<rect x="295.31" y="219.73" width="6.52" height="5.45" fill="#6301ce"/>
<rect x="301.53" y="219.73" width="25.18" height="5.45" fill="#5a00b4"/>
<rect x="326.41" y="219.73" width="6.52" height="5.45" fill="#6301ce"/>
<rect x="332.63" y="219.73" width="6.52" height="5.45" fill="#8004ff"/>
<rect x="338.85" y="219.73" width="6.52" height="5.45" fill="#8c07f3"/>
<rect x="345.07" y="219.73" width="12.74" height="5.45" fill="#970bce"/>
<rect x="357.51" y="219.73" width="6.52" height="5.45" fill="#8c07f3"/>
<rect x="363.73" y="219.73" width="12.74" height="5.45" fill="#6301ce"/>
<rect x="376.17" y="219.73" width="6.52" height="5.45" fill="#5a00b4"/>
<rect x="382.39" y="219.73" width="18.96" height="5.45" fill="#510096"/>
<rect x="401.05" y="219.73" width="12.74" height="5.45" fill="#5a00b4"/>
<rect x="413.49" y="219.73" width="6.52" height="5.45" fill="#6301ce"/>
<rect x="419.71" y="219.73" width="37.62" height="5.45" fill="#5a00b4"/>
<rect x="457.03" y="219.73" width="6.52" height="5.45" fill="#6301ce"/>
<rect x="463.25" y="219.73" width="6.52" height="5.45" fill="#6b01e3"/>
<rect x="469.47" y="219.73" width="6.52" height="5.45" fill="#7202f3"/>
<rect x="475.69" y="219.73" width="6.52" height="5.45" fill="#6b01e3"/>
<rect x="481.91" y="219.73" width="12.74" height="5.45" fill="#5a00b4"/>
<rect x="494.35" y="219.73" width="6.52" height="5.45" fill="#6b01e3"/>
<rect x="500.57" y="219.73" width="6.52" height="5.45" fill="#7202f3"/>
<rect x="506.79" y="219.73" width="6.52" height="5.45" fill="#8004ff"/>
<rect x="513.01" y="219.73" width="6.52" height="5.45" fill="#8c07f3"/>
<rect x="519.23" y="219.73" width="5.57" height="5.45" fill="#bd2a00"/>
<rect x="74.50" y="224.88" width="3.41" height="5.45" fill="#970bce"/>
<rect x="77.61" y="224.88" width="6.52" height="5.45" fill="#8c07f3"/>
<rect x="83.83" y="224.88" width="25.18" height="5.45" fill="#8004ff"/>
<rect x="108.71" y="224.88" width="18.96" height="5.45" fill="#7202f3"/>
<rect x="127.37" y="224.88" width="12.74" height="5.45" fill="#8004ff"/>
<rect x="139.81" y="224.88" width="6.52" height="5.45" fill="#970bce"/>
<rect x="146.03" y="224.88" width="6.52" height="5.45" fill="#a11096"/>
<rect x="152.25" y="224.88" width="6.52" height="5.45" fill="#ab174f"/>
<rect x="158.47" y="224.88" width="6.52" height="5.45" fill="#970bce"/>
<rect x="164.69" y="224.88" width="6.52" height="5.45" fill="#8c07f3"/>
<rect x="170.91" y="224.88" width="6.52" height="5.45" fill="#8004ff"/>
<rect x="177.13" y="224.88" width="6.52" height="5.45" fill="#7202f3"/>
<rect x="183.35" y="224.88" width="6.52" height="5.45" fill="#6b01e3"/>
<rect x="189.57" y="224.88" width="12.74" height="5.45" fill="#5a00b4"/>
<rect x="202.01" y="224.88" width="18.96" height="5.45" fill="#510096"/>
<rect x="220.67" y="224.88" width="6.52" height="5.45" fill="#48007b"/>
<rect x="226.89" y="224.88" width="18.96" height="5.45" fill="#510096"/>
<rect x="245.55" y="224.88" width="6.52" height="5.45" fill="#5a00b4"/>
<rect x="251.77" y="224.88" width="6.52" height="5.45" fill="#6301ce"/>
<rect x="257.99" y="224.88" width="6.52" height="5.45" fill="#6b01e3"/>
<rect x="264.21" y="224.88" width="6.52" height="5.45" fill="#6301ce"/>
<rect x="270.43" y="224.88" width="6.52" height="5.45" fill="#5a00b4"/>
<rect x="276.65" y="224.88" width="6.52" height="5.45" fill="#6301ce"/>
<rect x="282.87" y="224.88" width="31.40" height="5.45" fill="#5a00b4"/>
<rect x="313.97" y="224.88" width="6.52" height="5.45" fill="#510096"/>
<rect x="320.19" y="224.88" width="6.52" height="5.45" fill="#5a00b4"/>
<rect x="326.41" y="224.88" width="6.52" height="5.45" fill="#6301ce"/>
<rect x="332.63" y="224.88" width="6.52" height="5.45" fill="#7202f3"/>
<rect x="338.85" y="224.88" width="6.52" height="5.45" fill="#8004ff"/>
<rect x="345.07" y="224.88" width="18.96" height="5.45" fill="#8c07f3"/>
<rect x="363.73" y="224.88" width="12.74" height="5.45" fill="#6b01e3"/>
<rect x="376.17" y="224.88" width="6.52" height="5.45" fill="#6301ce"/>
<rect x="382.39" y="224.88" width="6.52" height="5.45" fill="#5a00b4"/>
<rect x="388.61" y="224.88" width="6.52" height="5.45" fill="#510096"/>
<rect x="394.83" y="224.88" width="43.84" height="5.45" fill="#5a00b4"/>
<rect x="438.37" y="224.88" width="6.52" height="5.45" fill="#6301ce"/>
<rect x="444.59" y="224.88" width="12.74" height="5.45" fill="#510096"/>
<rect x="457.03" y="224.88" width="6.52" height="5.45" fill="#5a00b4"/>
<rect x="463.25" y="224.88" width="6.52" height="5.45" fill="#6301ce"/>
<rect x="469.47" y="224.88" width="6.52" height="5.45" fill="#6b01e3"/>
<rect x="475.69" y="224.88" width="6.52" height="5.45" fill="#5a00b4"/>
<rect x="481.91" y="224.88" width="6.52" height="5.45" fill="#510096"/>
<rect x="488.13" y="224.88" width="6.52" height="5.45" fill="#6301ce"/>
<rect x="494.35" y="224.88" width="6.52" height="5.45" fill="#7202f3"/>
<rect x="500.57" y="224.88" width="12.74" height="5.45" fill="#8004ff"/>
<rect x="513.01" y="224.88" width="6.52" height="5.45" fill="#a11096"/>
<rect x="519.23" y="224.88" width="5.57" height="5.45" fill="#970bce"/>
<rect x="74.50" y="230.03" width="3.41" height="5.45" fill="#8004ff"/>
<rect x="77.61" y="230.03" width="6.52" height="5.45" fill="#7202f3"/>
<rect x="83.83" y="230.03" width="6.52" height="5.45" fill="#6b01e3"/>
<rect x="90.05" y="230.03" width="6.52" height="5.45" fill="#8004ff"/>
<rect x="96.27" y="230.03" width="6.52" height="5.45" fill="#7202f3"/>
<rect x="102.49" y="230.03" width="6.52" height="5.45" fill="#6b01e3"/>
<rect x="108.71" y="230.03" width="6.52" height="5.45" fill="#6301ce"/>
<rect x="114.93" y="230.03" width="6.52" height="5.45" fill="#510096"/>
<rect x="121.15" y="230.03" width="6.52" height="5.45" fill="#6301ce"/>
<rect x="127.37" y="230.03" width="6.52" height="5.45" fill="#7202f3"/>
<rect x="133.59" y="230.03" width="12.74" height="5.45" fill="#8004ff"/>
<rect x="146.03" y="230.03" width="6.52" height="5.45" fill="#970bce"/>
<rect x="152.25" y="230.03" width="12.74" height="5.45" fill="#ab174f"/>
<rect x="164.69" y="230.03" width="6.52" height="5.45" fill="#a11096"/>
<rect x="170.91" y="230.03" width="6.52" height="5.45" fill="#970bce"/>
<rect x="177.13" y="230.03" width="6.52" height="5.45" fill="#8004ff"/>
<rect x="183.35" y="230.03" width="6.52" height="5.45" fill="#6b01e3"/>
<rect x="189.57" y="230.03" width="6.52" height="5.45" fill="#6301ce"/>
<rect x="195.79" y="230.03" width="12.74" height="5.45" fill="#5a00b4"/>
<rect x="208.23" y="230.03" width="6.52" height="5.45" fill="#510096"/>
<rect x="214.45" y="230.03" width="6.52" height="5.45" fill="#5a00b4"/>
<rect x="220.67" y="230.03" width="6.52" height="5.45" fill="#510096"/>
<rect x="226.89" y="230.03" width="6.52" height="5.45" fill="#48007b"/>
<rect x="233.11" y="230.03" width="12.74" height="5.45" fill="#510096"/>
<rect x="245.55" y="230.03" width="6.52" height="5.45" fill="#5a00b4"/>
<rect x="251.77" y="230.03" width="18.96" height="5.45" fill="#6301ce"/>
<rect x="270.43" y="230.03" width="18.96" height="5.45" fill="#5a00b4"/>
<rect x="289.09" y="230.03" width="12.74" height="5.45" fill="#510096"/>
<rect x="301.53" y="230.03" width="18.96" height="5.45" fill="#5a00b4"/>
<rect x="320.19" y="230.03" width="12.74" height="5.45" fill="#6301ce"/>
<rect x="332.63" y="230.03" width="6.52" height="5.45" fill="#7202f3"/>
<rect x="338.85" y="230.03" width="18.96" height="5.45" fill="#8004ff"/>
<rect x="357.51" y="230.03" width="6.52" height="5.45" fill="#8c07f3"/>
<rect x="363.73" y="230.03" width="12.74" height="5.45" fill="#6b01e3"/>
<rect x="376.17" y="230.03" width="6.52" height="5.45" fill="#6301ce"/>
<rect x="382.39" y="230.03" width="43.84" height="5.45" fill="#5a00b4"/>
<rect x="425.93" y="230.03" width="6.52" height="5.45" fill="#510096"/>
<rect x="432.15" y="230.03" width="6.52" height="5.45" fill="#5a00b4"/>
<rect x="438.37" y="230.03" width="6.52" height="5.45" fill="#6301ce"/>
<rect x="444.59" y="230.03" width="12.74" height="5.45" fill="#5a00b4"/>
<rect x="457.03" y="230.03" width="6.52" height="5.45" fill="#510096"/>
<rect x="463.25" y="230.03" width="6.52" height="5.45" fill="#5a00b4"/>
<rect x="469.47" y="230.03" width="6.52" height="5.45" fill="#510096"/>
<rect x="475.69" y="230.03" width="12.74" height="5.45" fill="#5a00b4"/>
<rect x="488.13" y="230.03" width="6.52" height="5.45" fill="#6b01e3"/>
<rect x="494.35" y="230.03" width="6.52" height="5.45" fill="#8004ff"/>
<rect x="500.57" y="230.03" width="24.23" height="5.45" fill="#8c07f3"/>
<rect x="74.50" y="235.18" width="3.41" height="5.45" fill="#6301ce"/>
<rect x="77.61" y="235.18" width="6.52" height="5.45" fill="#5a00b4"/>
<rect x="83.83" y="235.18" width="6.52" height="5.45" fill="#6301ce"/>
<rect x="90.05" y="235.18" width="6.52" height="5.45" fill="#6b01e3"/>
<rect x="96.27" y="235.18" width="12.74" height="5.45" fill="#510096"/>
<rect x="108.71" y="235.18" width="6.52" height="5.45" fill="#6301ce"/>
<rect x="114.93" y="235.18" width="6.52" height="5.45" fill="#6b01e3"/>
<rect x="121.15" y="235.18" width="12.74" height="5.45" fill="#7202f3"/>
<rect x="133.59" y="235.18" width="12.74" height="5.45" fill="#8004ff"/>
<rect x="146.03" y="235.18" width="6.52" height="5.45" fill="#970bce"/>
<rect x="152.25" y="235.18" width="12.74" height="5.45" fill="#bd2a00"/>
<rect x="164.69" y="235.18" width="6.52" height="5.45" fill="#b42000"/>
<rect x="170.91" y="235.18" width="12.74" height="5.45" fill="#8004ff"/>
<rect x="183.35" y="235.18" width="6.52" height="5.45" fill="#7202f3"/>
<rect x="189.57" y="235.18" width="6.52" height="5.45" fill="#6301ce"/>
<rect x="195.79" y="235.18" width="25.18" height="5.45" fill="#5a00b4"/>
<rect x="220.67" y="235.18" width="25.18" height="5.45" fill="#510096"/>
<rect x="245.55" y="235.18" width="12.74" height="5.45" fill="#5a00b4"/>
<rect x="257.99" y="235.18" width="6.52" height="5.45" fill="#6301ce"/>
<rect x="264.21" y="235.18" width="12.74" height="5.45" fill="#7202f3"/>
<rect x="276.65" y="235.18" width="12.74" height="5.45" fill="#6301ce"/>
<rect x="289.09" y="235.18" width="25.18" height="5.45" fill="#5a00b4"/>
<rect x="313.97" y="235.18" width="12.74" height="5.45" fill="#6301ce"/>
<rect x="326.41" y="235.18" width="6.52" height="5.45" fill="#6b01e3"/>
<rect x="332.63" y="235.18" width="31.40" height="5.45" fill="#7202f3"/>
<rect x="363.73" y="235.18" width="31.40" height="5.45" fill="#6301ce"/>
<rect x="394.83" y="235.18" width="12.74" height="5.45" fill="#5a00b4"/>
<rect x="407.27" y="235.18" width="18.96" height="5.45" fill="#6301ce"/>
<rect x="425.93" y="235.18" width="6.52" height="5.45" fill="#5a00b4"/>
<rect x="432.15" y="235.18" width="6.52" height="5.45" fill="#6301ce"/>
<rect x="438.37" y="235.18" width="6.52" height="5.45" fill="#6b01e3"/>
<rect x="444.59" y="235.18" width="12.74" height="5.45" fill="#6301ce"/>
<rect x="457.03" y="235.18" width="12.74" height="5.45" fill="#5a00b4"/>
<rect x="469.47" y="235.18" width="6.52" height="5.45" fill="#510096"/>
<rect x="475.69" y="235.18" width="6.52" height="5.45" fill="#5a00b4"/>
<rect x="481.91" y="235.18" width="6.52" height="5.45" fill="#6301ce"/>
<rect x="488.13" y="235.18" width="6.52" height="5.45" fill="#7202f3"/>
<rect x="494.35" y="235.18" width="12.74" height="5.45" fill="#8c07f3"/>
<rect x="506.79" y="235.18" width="18.01" height="5.45" fill="#8004ff"/>
<rect x="74.50" y="240.33" width="9.63" height="5.45" fill="#5a00b4"/>
<rect x="83.83" y="240.33" width="12.74" height="5.45" fill="#6301ce"/>
<rect x="96.27" y="240.33" width="12.74" height="5.45" fill="#5a00b4"/>
<rect x="108.71" y="240.33" width="6.52" height="5.45" fill="#6301ce"/>
<rect x="114.93" y="240.33" width="6.52" height="5.45" fill="#7202f3"/>
<rect x="121.15" y="240.33" width="18.96" height="5.45" fill="#8004ff"/>
<rect x="139.81" y="240.33" width="12.74" height="5.45" fill="#8c07f3"/>
<rect x="152.25" y="240.33" width="6.52" height="5.45" fill="#970bce"/>
<rect x="158.47" y="240.33" width="6.52" height="5.45" fill="#bd2a00"/>
<rect x="164.69" y="240.33" width="6.52" height="5.45" fill="#970bce"/>
<rect x="170.91" y="240.33" width="6.52" height="5.45" fill="#8004ff"/>
<rect x="177.13" y="240.33" width="6.52" height="5.45" fill="#7202f3"/>
<rect x="183.35" y="240.33" width="6.52" height="5.45" fill="#6301ce"/>
<rect x="189.57" y="240.33" width="37.62" height="5.45" fill="#5a00b4"/>
<rect x="226.89" y="240.33" width="12.74" height="5.45" fill="#510096"/>
<rect x="239.33" y="240.33" width="6.52" height="5.45" fill="#48007b"/>
<rect x="245.55" y="240.33" width="6.52" height="5.45" fill="#510096"/>
<rect x="251.77" y="240.33" width="6.52" height="5.45" fill="#5a00b4"/>
<rect x="257.99" y="240.33" width="6.52" height="5.45" fill="#6301ce"/>
<rect x="264.21" y="240.33" width="12.74" height="5.45" fill="#6b01e3"/>
<rect x="276.65" y="240.33" width="12.74" height="5.45" fill="#6301ce"/>
<rect x="289.09" y="240.33" width="31.40" height="5.45" fill="#5a00b4"/>
<rect x="320.19" y="240.33" width="6.52" height="5.45" fill="#6301ce"/>
<rect x="326.41" y="240.33" width="25.18" height="5.45" fill="#6b01e3"/>
<rect x="351.29" y="240.33" width="6.52" height="5.45" fill="#6301ce"/>
<rect x="357.51" y="240.33" width="6.52" height="5.45" fill="#5a00b4"/>
<rect x="363.73" y="240.33" width="6.52" height="5.45" fill="#6301ce"/>
<rect x="369.95" y="240.33" width="6.52" height="5.45" fill="#5a00b4"/>
<rect x="376.17" y="240.33" width="12.74" height="5.45" fill="#6301ce"/>
<rect x="388.61" y="240.33" width="18.96" height="5.45" fill="#5a00b4"/>
<rect x="407.27" y="240.33" width="31.40" height="5.45" fill="#510096"/>
<rect x="438.37" y="240.33" width="6.52" height="5.45" fill="#5a00b4"/>
<rect x="444.59" y="240.33" width="25.18" height="5.45" fill="#6301ce"/>
<rect x="469.47" y="240.33" width="12.74" height="5.45" fill="#6b01e3"/>
<rect x="481.91" y="240.33" width="6.52" height="5.45" fill="#7202f3"/>
<rect x="488.13" y="240.33" width="6.52" height="5.45" fill="#8004ff"/>
<rect x="494.35" y="240.33" width="12.74" height="5.45" fill="#8c07f3"/>
<rect x="506.79" y="240.33" width="18.01" height="5.45" fill="#7202f3"/>
<rect x="74.50" y="245.48" width="40.73" height="5.45" fill="#5a00b4"/>
<rect x="114.93" y="245.48" width="6.52" height="5.45" fill="#7202f3"/>
<rect x="121.15" y="245.48" width="6.52" height="5.45" fill="#8004ff"/>
<rect x="127.37" y="245.48" width="12.74" height="5.45" fill="#7202f3"/>
<rect x="139.81" y="245.48" width="6.52" height="5.45" fill="#8004ff"/>
<rect x="146.03" y="245.48" width="6.52" height="5.45" fill="#8c07f3"/>
<rect x="152.25" y="245.48" width="6.52" height="5.45" fill="#970bce"/>
<rect x="158.47" y="245.48" width="6.52" height="5.45" fill="#c63700"/>
<rect x="164.69" y="245.48" width="6.52" height="5.45" fill="#8c07f3"/>
<rect x="170.91" y="245.48" width="6.52" height="5.45" fill="#8004ff"/>
<rect x="177.13" y="245.48" width="6.52" height="5.45" fill="#7202f3"/>
<rect x="183.35" y="245.48" width="6.52" height="5.45" fill="#6301ce"/>
<rect x="189.57" y="245.48" width="18.96" height="5.45" fill="#5a00b4"/>
<rect x="208.23" y="245.48" width="12.74" height="5.45" fill="#510096"/>
<rect x="220.67" y="245.48" width="6.52" height="5.45" fill="#5a00b4"/>
<rect x="226.89" y="245.48" width="6.52" height="5.45" fill="#48007b"/>
<rect x="233.11" y="245.48" width="25.18" height="5.45" fill="#510096"/>
<rect x="257.99" y="245.48" width="12.74" height="5.45" fill="#5a00b4"/>
<rect x="270.43" y="245.48" width="6.52" height="5.45" fill="#510096"/>
<rect x="276.65" y="245.48" width="6.52" height="5.45" fill="#5a00b4"/>
<rect x="282.87" y="245.48" width="6.52" height="5.45" fill="#6301ce"/>
<rect x="289.09" y="245.48" width="6.52" height="5.45" fill="#5a00b4"/>
<rect x="295.31" y="245.48" width="12.74" height="5.45" fill="#510096"/>
<rect x="307.75" y="245.48" width="12.74" height="5.45" fill="#5a00b4"/>
<rect x="320.19" y="245.48" width="6.52" height="5.45" fill="#6301ce"/>
<rect x="326.41" y="245.48" width="12.74" height="5.45" fill="#6b01e3"/>
<rect x="338.85" y="245.48" width="12.74" height="5.45" fill="#6301ce"/>
<rect x="351.29" y="245.48" width="25.18" height="5.45" fill="#5a00b4"/>
<rect x="376.17" y="245.48" width="25.18" height="5.45" fill="#6301ce"/>
<rect x="401.05" y="245.48" width="12.74" height="5.45" fill="#5a00b4"/>
<rect x="413.49" y="245.48" width="12.74" height="5.45" fill="#510096"/>
<rect x="425.93" y="245.48" width="6.52" height="5.45" fill="#48007b"/>
<rect x="432.15" y="245.48" width="12.74" height="5.45" fill="#510096"/>
<rect x="444.59" y="245.48" width="18.96" height="5.45" fill="#5a00b4"/>
<rect x="463.25" y="245.48" width="12.74" height="5.45" fill="#6301ce"/>
<rect x="475.69" y="245.48" width="12.74" height="5.45" fill="#6b01e3"/>
<rect x="488.13" y="245.48" width="25.18" height="5.45" fill="#7202f3"/>
<rect x="513.01" y="245.48" width="11.79" height="5.45" fill="#6b01e3"/>
<rect x="74.50" y="250.62" width="9.63" height="5.45" fill="#5a00b4"/>
<rect x="83.83" y="250.62" width="12.74" height="5.45" fill="#510096"/>
<rect x="96.27" y="250.62" width="12.74" height="5.45" fill="#6301ce"/>
<rect x="108.71" y="250.62" width="6.52" height="5.45" fill="#5a00b4"/>
<rect x="114.93" y="250.62" width="6.52" height="5.45" fill="#510096"/>
<rect x="121.15" y="250.62" width="6.52" height="5.45" fill="#5a00b4"/>
<rect x="127.37" y="250.62" width="12.74" height="5.45" fill="#6301ce"/>
<rect x="139.81" y="250.62" width="6.52" height="5.45" fill="#7202f3"/>
<rect x="146.03" y="250.62" width="6.52" height="5.45" fill="#8c07f3"/>
<rect x="152.25" y="250.62" width="6.52" height="5.45" fill="#ab174f"/>
<rect x="158.47" y="250.62" width="6.52" height="5.45" fill="#d55700"/>
<rect x="164.69" y="250.62" width="6.52" height="5.45" fill="#8c07f3"/>
<rect x="170.91" y="250.62" width="6.52" height="5.45" fill="#8004ff"/>
<rect x="177.13" y="250.62" width="6.52" height="5.45" fill="#7202f3"/>
<rect x="183.35" y="250.62" width="6.52" height="5.45" fill="#6301ce"/>
<rect x="189.57" y="250.62" width="25.18" height="5.45" fill="#5a00b4"/>
<rect x="214.45" y="250.62" width="12.74" height="5.45" fill="#510096"/>
<rect x="226.89" y="250.62" width="18.96" height="5.45" fill="#5a00b4"/>
<rect x="245.55" y="250.62" width="12.74" height="5.45" fill="#510096"/>
<rect x="257.99" y="250.62" width="12.74" height="5.45" fill="#5a00b4"/>
<rect x="270.43" y="250.62" width="6.52" height="5.45" fill="#6301ce"/>
<rect x="276.65" y="250.62" width="6.52" height="5.45" fill="#5a00b4"/>
<rect x="282.87" y="250.62" width="6.52" height="5.45" fill="#6301ce"/>
<rect x="289.09" y="250.62" width="6.52" height="5.45" fill="#5a00b4"/>
<rect x="295.31" y="250.62" width="12.74" height="5.45" fill="#510096"/>
<rect x="307.75" y="250.62" width="6.52" height="5.45" fill="#5a00b4"/>
<rect x="313.97" y="250.62" width="6.52" height="5.45" fill="#6301ce"/>
<rect x="320.19" y="250.62" width="25.18" height="5.45" fill="#6b01e3"/>
<rect x="345.07" y="250.62" width="12.74" height="5.45" fill="#6301ce"/>
<rect x="357.51" y="250.62" width="18.96" height="5.45" fill="#5a00b4"/>
<rect x="376.17" y="250.62" width="6.52" height="5.45" fill="#6301ce"/>
<rect x="382.39" y="250.62" width="12.74" height="5.45" fill="#6b01e3"/>
<rect x="394.83" y="250.62" width="12.74" height="5.45" fill="#6301ce"/>
<rect x="407.27" y="250.62" width="6.52" height="5.45" fill="#5a00b4"/>
<rect x="413.49" y="250.62" width="12.74" height="5.45" fill="#510096"/>
<rect x="425.93" y="250.62" width="18.96" height="5.45" fill="#5a00b4"/>
<rect x="444.59" y="250.62" width="6.52" height="5.45" fill="#6301ce"/>
<rect x="450.81" y="250.62" width="12.74" height="5.45" fill="#510096"/>
<rect x="463.25" y="250.62" width="12.74" height="5.45" fill="#5a00b4"/>
<rect x="475.69" y="250.62" width="12.74" height="5.45" fill="#6301ce"/>
<rect x="488.13" y="250.62" width="12.74" height="5.45" fill="#5a00b4"/>
<rect x="500.57" y="250.62" width="24.23" height="5.45" fill="#6301ce"/>
<rect x="74.50" y="255.78" width="9.63" height="5.45" fill="#510096"/>
<rect x="83.83" y="255.78" width="18.96" height="5.45" fill="#5a00b4"/>
<rect x="102.49" y="255.78" width="6.52" height="5.45" fill="#6301ce"/>
<rect x="108.71" y="255.78" width="6.52" height="5.45" fill="#5a00b4"/>
<rect x="114.93" y="255.78" width="6.52" height="5.45" fill="#510096"/>
<rect x="121.15" y="255.78" width="6.52" height="5.45" fill="#5a00b4"/>
<rect x="127.37" y="255.78" width="6.52" height="5.45" fill="#510096"/>
<rect x="133.59" y="255.78" width="6.52" height="5.45" fill="#5a00b4"/>
<rect x="139.81" y="255.78" width="6.52" height="5.45" fill="#7202f3"/>
<rect x="146.03" y="255.78" width="6.52" height="5.45" fill="#8c07f3"/>
<rect x="152.25" y="255.78" width="12.74" height="5.45" fill="#c63700"/>
<rect x="164.69" y="255.78" width="6.52" height="5.45" fill="#8c07f3"/>
<rect x="170.91" y="255.78" width="6.52" height="5.45" fill="#8004ff"/>
<rect x="177.13" y="255.78" width="6.52" height="5.45" fill="#7202f3"/>
<rect x="183.35" y="255.78" width="6.52" height="5.45" fill="#6301ce"/>
<rect x="189.57" y="255.78" width="18.96" height="5.45" fill="#5a00b4"/>
<rect x="208.23" y="255.78" width="6.52" height="5.45" fill="#6301ce"/>
<rect x="214.45" y="255.78" width="6.52" height="5.45" fill="#6b01e3"/>
<rect x="220.67" y="255.78" width="6.52" height="5.45" fill="#6301ce"/>
<rect x="226.89" y="255.78" width="31.40" height="5.45" fill="#510096"/>
<rect x="257.99" y="255.78" width="31.40" height="5.45" fill="#5a00b4"/>
<rect x="289.09" y="255.78" width="6.52" height="5.45" fill="#510096"/>
<rect x="295.31" y="255.78" width="6.52" height="5.45" fill="#5a00b4"/>
<rect x="301.53" y="255.78" width="6.52" height="5.45" fill="#6301ce"/>
<rect x="307.75" y="255.78" width="12.74" height="5.45" fill="#6b01e3"/>
<rect x="320.19" y="255.78" width="6.52" height="5.45" fill="#7202f3"/>
<rect x="326.41" y="255.78" width="6.52" height="5.45" fill="#6b01e3"/>
<rect x="332.63" y="255.78" width="18.96" height="5.45" fill="#6301ce"/>
<rect x="351.29" y="255.78" width="6.52" height="5.45" fill="#5a00b4"/>
<rect x="357.51" y="255.78" width="6.52" height="5.45" fill="#510096"/>
<rect x="363.73" y="255.78" width="6.52" height="5.45" fill="#5a00b4"/>
<rect x="369.95" y="255.78" width="6.52" height="5.45" fill="#6301ce"/>
<rect x="376.17" y="255.78" width="6.52" height="5.45" fill="#6b01e3"/>
<rect x="382.39" y="255.78" width="12.74" height="5.45" fill="#7202f3"/>
<rect x="394.83" y="255.78" width="6.52" height="5.45" fill="#6b01e3"/>
<rect x="401.05" y="255.78" width="6.52" height="5.45" fill="#6301ce"/>
<rect x="407.27" y="255.78" width="12.74" height="5.45" fill="#510096"/>
<rect x="419.71" y="255.78" width="12.74" height="5.45" fill="#48007b"/>
<rect x="432.15" y="255.78" width="12.74" height="5.45" fill="#510096"/>
<rect x="444.59" y="255.78" width="6.52" height="5.45" fill="#5a00b4"/>
<rect x="450.81" y="255.78" width="31.40" height="5.45" fill="#510096"/>
<rect x="481.91" y="255.78" width="6.52" height="5.45" fill="#5a00b4"/>
<rect x="488.13" y="255.78" width="6.52" height="5.45" fill="#510096"/>
<rect x="494.35" y="255.78" width="12.74" height="5.45" fill="#6301ce"/>
<rect x="506.79" y="255.78" width="6.52" height="5.45" fill="#5a00b4"/>
<rect x="513.01" y="255.78" width="6.52" height="5.45" fill="#48007b"/>
<rect x="519.23" y="255.78" width="5.57" height="5.45" fill="#5a00b4"/>
<rect x="74.50" y="260.93" width="22.07" height="5.45" fill="#5a00b4"/>
<rect x="96.27" y="260.93" width="18.96" height="5.45" fill="#510096"/>
<rect x="114.93" y="260.93" width="6.52" height="5.45" fill="#5a00b4"/>
<rect x="121.15" y="260.93" width="6.52" height="5.45" fill="#510096"/>
<rect x="127.37" y="260.93" width="6.52" height="5.45" fill="#6301ce"/>
<rect x="133.59" y="260.93" width="6.52" height="5.45" fill="#6b01e3"/>
<rect x="139.81" y="260.93" width="6.52" height="5.45" fill="#7202f3"/>
<rect x="146.03" y="260.93" width="6.52" height="5.45" fill="#970bce"/>
<rect x="152.25" y="260.93" width="6.52" height="5.45" fill="#bd2a00"/>
<rect x="158.47" y="260.93" width="6.52" height="5.45" fill="#b42000"/>
<rect x="164.69" y="260.93" width="6.52" height="5.45" fill="#ab174f"/>
<rect x="170.91" y="260.93" width="6.52" height="5.45" fill="#8004ff"/>
<rect x="177.13" y="260.93" width="25.18" height="5.45" fill="#7202f3"/>
<rect x="202.01" y="260.93" width="25.18" height="5.45" fill="#6301ce"/>
<rect x="226.89" y="260.93" width="12.74" height="5.45" fill="#510096"/>
<rect x="239.33" y="260.93" width="6.52" height="5.45" fill="#48007b"/>
<rect x="245.55" y="260.93" width="12.74" height="5.45" fill="#510096"/>
<rect x="257.99" y="260.93" width="12.74" height="5.45" fill="#5a00b4"/>
<rect x="270.43" y="260.93" width="12.74" height="5.45" fill="#510096"/>
<rect x="282.87" y="260.93" width="12.74" height="5.45" fill="#5a00b4"/>
<rect x="295.31" y="260.93" width="6.52" height="5.45" fill="#6301ce"/>
<rect x="301.53" y="260.93" width="6.52" height="5.45" fill="#6b01e3"/>
<rect x="307.75" y="260.93" width="6.52" height="5.45" fill="#7202f3"/>
<rect x="313.97" y="260.93" width="12.74" height="5.45" fill="#6b01e3"/>
<rect x="326.41" y="260.93" width="6.52" height="5.45" fill="#6301ce"/>
<rect x="332.63" y="260.93" width="25.18" height="5.45" fill="#5a00b4"/>
<rect x="357.51" y="260.93" width="6.52" height="5.45" fill="#510096"/>
<rect x="363.73" y="260.93" width="6.52" height="5.45" fill="#6301ce"/>
<rect x="369.95" y="260.93" width="6.52" height="5.45" fill="#6b01e3"/>
<rect x="376.17" y="260.93" width="6.52" height="5.45" fill="#7202f3"/>
<rect x="382.39" y="260.93" width="6.52" height="5.45" fill="#8004ff"/>
<rect x="388.61" y="260.93" width="6.52" height="5.45" fill="#7202f3"/>
<rect x="394.83" y="260.93" width="6.52" height="5.45" fill="#6b01e3"/>
<rect x="401.05" y="260.93" width="6.52" height="5.45" fill="#5a00b4"/>
<rect x="407.27" y="260.93" width="18.96" height="5.45" fill="#510096"/>
<rect x="425.93" y="260.93" width="31.40" height="5.45" fill="#5a00b4"/>
<rect x="457.03" y="260.93" width="25.18" height="5.45" fill="#510096"/>
<rect x="481.91" y="260.93" width="25.18" height="5.45" fill="#5a00b4"/>
<rect x="506.79" y="260.93" width="6.52" height="5.45" fill="#510096"/>
<rect x="513.01" y="260.93" width="6.52" height="5.45" fill="#5a00b4"/>
<rect x="519.23" y="260.93" width="5.57" height="5.45" fill="#7202f3"/>
<rect x="74.50" y="266.08" width="22.07" height="5.45" fill="#5a00b4"/>
<rect x="96.27" y="266.08" width="18.96" height="5.45" fill="#510096"/>
<rect x="114.93" y="266.08" width="12.74" height="5.45" fill="#5a00b4"/>
<rect x="127.37" y="266.08" width="6.52" height="5.45" fill="#6301ce"/>
<rect x="133.59" y="266.08" width="6.52" height="5.45" fill="#6b01e3"/>
<rect x="139.81" y="266.08" width="6.52" height="5.45" fill="#7202f3"/>
<rect x="146.03" y="266.08" width="6.52" height="5.45" fill="#a11096"/>
<rect x="152.25" y="266.08" width="6.52" height="5.45" fill="#ab174f"/>
<rect x="158.47" y="266.08" width="12.74" height="5.45" fill="#970bce"/>
<rect x="170.91" y="266.08" width="6.52" height="5.45" fill="#8004ff"/>
<rect x="177.13" y="266.08" width="12.74" height="5.45" fill="#7202f3"/>
<rect x="189.57" y="266.08" width="12.74" height="5.45" fill="#8c07f3"/>
<rect x="202.01" y="266.08" width="12.74" height="5.45" fill="#6301ce"/>
<rect x="214.45" y="266.08" width="6.52" height="5.45" fill="#510096"/>
<rect x="220.67" y="266.08" width="25.18" height="5.45" fill="#5a00b4"/>
<rect x="245.55" y="266.08" width="6.52" height="5.45" fill="#6301ce"/>
<rect x="251.77" y="266.08" width="25.18" height="5.45" fill="#5a00b4"/>
<rect x="276.65" y="266.08" width="6.52" height="5.45" fill="#510096"/>
<rect x="282.87" y="266.08" width="12.74" height="5.45" fill="#5a00b4"/>
<rect x="295.31" y="266.08" width="6.52" height="5.45" fill="#6301ce"/>
<rect x="301.53" y="266.08" width="6.52" height="5.45" fill="#6b01e3"/>
<rect x="307.75" y="266.08" width="6.52" height="5.45" fill="#7202f3"/>
<rect x="313.97" y="266.08" width="6.52" height="5.45" fill="#6b01e3"/>
<rect x="320.19" y="266.08" width="6.52" height="5.45" fill="#5a00b4"/>
<rect x="326.41" y="266.08" width="12.74" height="5.45" fill="#510096"/>
<rect x="338.85" y="266.08" width="25.18" height="5.45" fill="#5a00b4"/>
<rect x="363.73" y="266.08" width="6.52" height="5.45" fill="#6301ce"/>
<rect x="369.95" y="266.08" width="25.18" height="5.45" fill="#7202f3"/>
<rect x="394.83" y="266.08" width="6.52" height="5.45" fill="#6301ce"/>
<rect x="401.05" y="266.08" width="12.74" height="5.45" fill="#5a00b4"/>
<rect x="413.49" y="266.08" width="18.96" height="5.45" fill="#510096"/>
<rect x="432.15" y="266.08" width="18.96" height="5.45" fill="#5a00b4"/>
<rect x="450.81" y="266.08" width="6.52" height="5.45" fill="#510096"/>
<rect x="457.03" y="266.08" width="18.96" height="5.45" fill="#5a00b4"/>
<rect x="475.69" y="266.08" width="31.40" height="5.45" fill="#510096"/>
<rect x="506.79" y="266.08" width="6.52" height="5.45" fill="#5a00b4"/>
<rect x="513.01" y="266.08" width="11.79" height="5.45" fill="#6b01e3"/>
<rect x="74.50" y="271.23" width="3.41" height="5.45" fill="#5a00b4"/>
<rect x="77.61" y="271.23" width="12.74" height="5.45" fill="#510096"/>
<rect x="90.05" y="271.23" width="12.74" height="5.45" fill="#5a00b4"/>
<rect x="102.49" y="271.23" width="18.96" height="5.45" fill="#510096"/>
<rect x="121.15" y="271.23" width="12.74" height="5.45" fill="#6301ce"/>
<rect x="133.59" y="271.23" width="6.52" height="5.45" fill="#6b01e3"/>
<rect x="139.81" y="271.23" width="6.52" height="5.45" fill="#7202f3"/>
<rect x="146.03" y="271.23" width="6.52" height="5.45" fill="#a11096"/>
<rect x="152.25" y="271.23" width="6.52" height="5.45" fill="#970bce"/>
<rect x="158.47" y="271.23" width="12.74" height="5.45" fill="#8004ff"/>
<rect x="170.91" y="271.23" width="18.96" height="5.45" fill="#7202f3"/>
<rect x="189.57" y="271.23" width="6.52" height="5.45" fill="#8c07f3"/>
<rect x="195.79" y="271.23" width="6.52" height="5.45" fill="#8004ff"/>
<rect x="202.01" y="271.23" width="6.52" height="5.45" fill="#6301ce"/>
<rect x="208.23" y="271.23" width="6.52" height="5.45" fill="#5a00b4"/>
<rect x="214.45" y="271.23" width="12.74" height="5.45" fill="#510096"/>
<rect x="226.89" y="271.23" width="6.52" height="5.45" fill="#48007b"/>
<rect x="233.11" y="271.23" width="18.96" height="5.45" fill="#510096"/>
<rect x="251.77" y="271.23" width="6.52" height="5.45" fill="#5a00b4"/>
<rect x="257.99" y="271.23" width="6.52" height="5.45" fill="#6b01e3"/>
<rect x="264.21" y="271.23" width="25.18" height="5.45" fill="#5a00b4"/>
<rect x="289.09" y="271.23" width="6.52" height="5.45" fill="#510096"/>
<rect x="295.31" y="271.23" width="6.52" height="5.45" fill="#5a00b4"/>
<rect x="301.53" y="271.23" width="12.74" height="5.45" fill="#6301ce"/>
<rect x="313.97" y="271.23" width="18.96" height="5.45" fill="#5a00b4"/>
<rect x="332.63" y="271.23" width="6.52" height="5.45" fill="#6b01e3"/>
<rect x="338.85" y="271.23" width="6.52" height="5.45" fill="#6301ce"/>
<rect x="345.07" y="271.23" width="12.74" height="5.45" fill="#5a00b4"/>
<rect x="357.51" y="271.23" width="12.74" height="5.45" fill="#6301ce"/>
<rect x="369.95" y="271.23" width="18.96" height="5.45" fill="#6b01e3"/>
<rect x="388.61" y="271.23" width="6.52" height="5.45" fill="#7202f3"/>
<rect x="394.83" y="271.23" width="6.52" height="5.45" fill="#6b01e3"/>
<rect x="401.05" y="271.23" width="6.52" height="5.45" fill="#6301ce"/>
<rect x="407.27" y="271.23" width="12.74" height="5.45" fill="#5a00b4"/>
<rect x="419.71" y="271.23" width="6.52" height="5.45" fill="#510096"/>
<rect x="425.93" y="271.23" width="6.52" height="5.45" fill="#5a00b4"/>
<rect x="432.15" y="271.23" width="18.96" height="5.45" fill="#6301ce"/>
<rect x="450.81" y="271.23" width="31.40" height="5.45" fill="#5a00b4"/>
<rect x="481.91" y="271.23" width="25.18" height="5.45" fill="#510096"/>
<rect x="506.79" y="271.23" width="12.74" height="5.45" fill="#5a00b4"/>
<rect x="519.23" y="271.23" width="5.57" height="5.45" fill="#6301ce"/>
<rect x="74.50" y="276.38" width="9.63" height="5.45" fill="#5a00b4"/>
<rect x="83.83" y="276.38" width="18.96" height="5.45" fill="#6301ce"/>
<rect x="102.49" y="276.38" width="25.18" height="5.45" fill="#5a00b4"/>
<rect x="127.37" y="276.38" width="6.52" height="5.45" fill="#6301ce"/>
<rect x="133.59" y="276.38" width="6.52" height="5.45" fill="#6b01e3"/>
<rect x="139.81" y="276.38" width="6.52" height="5.45" fill="#7202f3"/>
<rect x="146.03" y="276.38" width="6.52" height="5.45" fill="#8c07f3"/>
<rect x="152.25" y="276.38" width="6.52" height="5.45" fill="#7202f3"/>
<rect x="158.47" y="276.38" width="6.52" height="5.45" fill="#6b01e3"/>
<rect x="164.69" y="276.38" width="12.74" height="5.45" fill="#6301ce"/>
<rect x="177.13" y="276.38" width="12.74" height="5.45" fill="#7202f3"/>
<rect x="189.57" y="276.38" width="6.52" height="5.45" fill="#8c07f3"/>
<rect x="195.79" y="276.38" width="6.52" height="5.45" fill="#970bce"/>
<rect x="202.01" y="276.38" width="6.52" height="5.45" fill="#6301ce"/>
<rect x="208.23" y="276.38" width="6.52" height="5.45" fill="#5a00b4"/>
<rect x="214.45" y="276.38" width="6.52" height="5.45" fill="#510096"/>
<rect x="220.67" y="276.38" width="6.52" height="5.45" fill="#48007b"/>
<rect x="226.89" y="276.38" width="6.52" height="5.45" fill="#510096"/>
<rect x="233.11" y="276.38" width="6.52" height="5.45" fill="#48007b"/>
<rect x="239.33" y="276.38" width="12.74" height="5.45" fill="#510096"/>
<rect x="251.77" y="276.38" width="6.52" height="5.45" fill="#5a00b4"/>
<rect x="257.99" y="276.38" width="6.52" height="5.45" fill="#6b01e3"/>
<rect x="264.21" y="276.38" width="18.96" height="5.45" fill="#7202f3"/>
<rect x="282.87" y="276.38" width="6.52" height="5.45" fill="#6b01e3"/>
<rect x="289.09" y="276.38" width="18.96" height="5.45" fill="#6301ce"/>
<rect x="307.75" y="276.38" width="6.52" height="5.45" fill="#5a00b4"/>
<rect x="313.97" y="276.38" width="12.74" height="5.45" fill="#510096"/>
<rect x="326.41" y="276.38" width="6.52" height="5.45" fill="#5a00b4"/>
<rect x="332.63" y="276.38" width="12.74" height="5.45" fill="#6b01e3"/>
<rect x="345.07" y="276.38" width="25.18" height="5.45" fill="#5a00b4"/>
<rect x="369.95" y="276.38" width="12.74" height="5.45" fill="#6301ce"/>
<rect x="382.39" y="276.38" width="6.52" height="5.45" fill="#6b01e3"/>
<rect x="388.61" y="276.38" width="12.74" height="5.45" fill="#7202f3"/>
<rect x="401.05" y="276.38" width="6.52" height="5.45" fill="#6301ce"/>
<rect x="407.27" y="276.38" width="6.52" height="5.45" fill="#5a00b4"/>
<rect x="413.49" y="276.38" width="6.52" height="5.45" fill="#510096"/>
<rect x="419.71" y="276.38" width="6.52" height="5.45" fill="#5a00b4"/>
<rect x="425.93" y="276.38" width="6.52" height="5.45" fill="#6b01e3"/>
<rect x="432.15" y="276.38" width="6.52" height="5.45" fill="#7202f3"/>
<rect x="438.37" y="276.38" width="6.52" height="5.45" fill="#6b01e3"/>
<rect x="444.59" y="276.38" width="6.52" height="5.45" fill="#6301ce"/>
<rect x="450.81" y="276.38" width="12.74" height="5.45" fill="#5a00b4"/>
<rect x="463.25" y="276.38" width="6.52" height="5.45" fill="#510096"/>
<rect x="469.47" y="276.38" width="55.33" height="5.45" fill="#5a00b4"/>
<rect x="74.50" y="281.52" width="15.85" height="5.45" fill="#7202f3"/>
<rect x="90.05" y="281.52" width="12.74" height="5.45" fill="#6301ce"/>
<rect x="102.49" y="281.52" width="6.52" height="5.45" fill="#5a00b4"/>
<rect x="108.71" y="281.52" width="6.52" height="5.45" fill="#510096"/>
<rect x="114.93" y="281.52" width="18.96" height="5.45" fill="#6301ce"/>
<rect x="133.59" y="281.52" width="12.74" height="5.45" fill="#6b01e3"/>
<rect x="146.03" y="281.52" width="6.52" height="5.45" fill="#7202f3"/>
<rect x="152.25" y="281.52" width="6.52" height="5.45" fill="#6301ce"/>
<rect x="158.47" y="281.52" width="6.52" height="5.45" fill="#510096"/>
<rect x="164.69" y="281.52" width="6.52" height="5.45" fill="#6301ce"/>
<rect x="170.91" y="281.52" width="6.52" height="5.45" fill="#6b01e3"/>
<rect x="177.13" y="281.52" width="12.74" height="5.45" fill="#7202f3"/>
<rect x="189.57" y="281.52" width="6.52" height="5.45" fill="#8c07f3"/>
<rect x="195.79" y="281.52" width="6.52" height="5.45" fill="#8004ff"/>
<rect x="202.01" y="281.52" width="6.52" height="5.45" fill="#6301ce"/>
<rect x="208.23" y="281.52" width="6.52" height="5.45" fill="#5a00b4"/>
<rect x="214.45" y="281.52" width="37.62" height="5.45" fill="#510096"/>
<rect x="251.77" y="281.52" width="6.52" height="5.45" fill="#6301ce"/>
<rect x="257.99" y="281.52" width="6.52" height="5.45" fill="#6b01e3"/>
<rect x="264.21" y="281.52" width="6.52" height="5.45" fill="#8004ff"/>
<rect x="270.43" y="281.52" width="12.74" height="5.45" fill="#970bce"/>
<rect x="282.87" y="281.52" width="12.74" height="5.45" fill="#8004ff"/>
<rect x="295.31" y="281.52" width="6.52" height="5.45" fill="#7202f3"/>
<rect x="301.53" y="281.52" width="6.52" height="5.45" fill="#6b01e3"/>
<rect x="307.75" y="281.52" width="6.52" height="5.45" fill="#6301ce"/>
<rect x="313.97" y="281.52" width="62.50" height="5.45" fill="#5a00b4"/>
<rect x="376.17" y="281.52" width="12.74" height="5.45" fill="#6301ce"/>
<rect x="388.61" y="281.52" width="12.74" height="5.45" fill="#7202f3"/>
<rect x="401.05" y="281.52" width="6.52" height="5.45" fill="#6b01e3"/>
<rect x="407.27" y="281.52" width="12.74" height="5.45" fill="#6301ce"/>
<rect x="419.71" y="281.52" width="6.52" height="5.45" fill="#6b01e3"/>
<rect x="425.93" y="281.52" width="6.52" height="5.45" fill="#7202f3"/>
<rect x="432.15" y="281.52" width="6.52" height="5.45" fill="#6b01e3"/>
<rect x="438.37" y="281.52" width="6.52" height="5.45" fill="#6301ce"/>
<rect x="444.59" y="281.52" width="25.18" height="5.45" fill="#5a00b4"/>
<rect x="469.47" y="281.52" width="6.52" height="5.45" fill="#510096"/>
<rect x="475.69" y="281.52" width="25.18" height="5.45" fill="#5a00b4"/>
<rect x="500.57" y="281.52" width="12.74" height="5.45" fill="#510096"/>
<rect x="513.01" y="281.52" width="11.79" height="5.45" fill="#5a00b4"/>
<rect x="74.50" y="286.68" width="15.85" height="5.45" fill="#7202f3"/>
<rect x="90.05" y="286.68" width="6.52" height="5.45" fill="#6301ce"/>
<rect x="96.27" y="286.68" width="6.52" height="5.45" fill="#5a00b4"/>
<rect x="102.49" y="286.68" width="6.52" height="5.45" fill="#510096"/>
<rect x="108.71" y="286.68" width="18.96" height="5.45" fill="#5a00b4"/>
<rect x="127.37" y="286.68" width="25.18" height="5.45" fill="#6301ce"/>
<rect x="152.25" y="286.68" width="12.74" height="5.45" fill="#5a00b4"/>
<rect x="164.69" y="286.68" width="6.52" height="5.45" fill="#6301ce"/>
<rect x="170.91" y="286.68" width="6.52" height="5.45" fill="#6b01e3"/>
<rect x="177.13" y="286.68" width="18.96" height="5.45" fill="#7202f3"/>
<rect x="195.79" y="286.68" width="6.52" height="5.45" fill="#6301ce"/>
<rect x="202.01" y="286.68" width="18.96" height="5.45" fill="#5a00b4"/>
<rect x="220.67" y="286.68" width="12.74" height="5.45" fill="#510096"/>
<rect x="233.11" y="286.68" width="6.52" height="5.45" fill="#48007b"/>
<rect x="239.33" y="286.68" width="12.74" height="5.45" fill="#510096"/>
<rect x="251.77" y="286.68" width="6.52" height="5.45" fill="#5a00b4"/>
<rect x="257.99" y="286.68" width="6.52" height="5.45" fill="#6b01e3"/>
<rect x="264.21" y="286.68" width="6.52" height="5.45" fill="#8004ff"/>
<rect x="270.43" y="286.68" width="6.52" height="5.45" fill="#ab174f"/>
<rect x="276.65" y="286.68" width="6.52" height="5.45" fill="#a11096"/>
<rect x="282.87" y="286.68" width="12.74" height="5.45" fill="#970bce"/>
<rect x="295.31" y="286.68" width="6.52" height="5.45" fill="#8004ff"/>
<rect x="301.53" y="286.68" width="6.52" height="5.45" fill="#6b01e3"/>
<rect x="307.75" y="286.68" width="6.52" height="5.45" fill="#6301ce"/>
<rect x="313.97" y="286.68" width="12.74" height="5.45" fill="#5a00b4"/>
<rect x="326.41" y="286.68" width="12.74" height="5.45" fill="#510096"/>
<rect x="338.85" y="286.68" width="37.62" height="5.45" fill="#5a00b4"/>
<rect x="376.17" y="286.68" width="6.52" height="5.45" fill="#6301ce"/>
<rect x="382.39" y="286.68" width="6.52" height="5.45" fill="#6b01e3"/>
<rect x="388.61" y="286.68" width="12.74" height="5.45" fill="#7202f3"/>
<rect x="401.05" y="286.68" width="6.52" height="5.45" fill="#8004ff"/>
<rect x="407.27" y="286.68" width="6.52" height="5.45" fill="#7202f3"/>
<rect x="413.49" y="286.68" width="12.74" height="5.45" fill="#6b01e3"/>
<rect x="425.93" y="286.68" width="12.74" height="5.45" fill="#6301ce"/>
<rect x="438.37" y="286.68" width="12.74" height="5.45" fill="#5a00b4"/>
<rect x="450.81" y="286.68" width="6.52" height="5.45" fill="#510096"/>
<rect x="457.03" y="286.68" width="6.52" height="5.45" fill="#5a00b4"/>
<rect x="463.25" y="286.68" width="6.52" height="5.45" fill="#510096"/>
<rect x="469.47" y="286.68" width="6.52" height="5.45" fill="#5a00b4"/>
<rect x="475.69" y="286.68" width="12.74" height="5.45" fill="#510096"/>
<rect x="488.13" y="286.68" width="36.67" height="5.45" fill="#5a00b4"/>
<rect x="74.50" y="291.83" width="9.63" height="5.45" fill="#7202f3"/>
<rect x="83.83" y="291.83" width="6.52" height="5.45" fill="#6b01e3"/>
<rect x="90.05" y="291.83" width="6.52" height="5.45" fill="#5a00b4"/>
<rect x="96.27" y="291.83" width="6.52" height="5.45" fill="#510096"/>
<rect x="102.49" y="291.83" width="6.52" height="5.45" fill="#6301ce"/>
<rect x="108.71" y="291.83" width="6.52" height="5.45" fill="#6b01e3"/>
<rect x="114.93" y="291.83" width="6.52" height="5.45" fill="#5a00b4"/>
<rect x="121.15" y="291.83" width="6.52" height="5.45" fill="#510096"/>
<rect x="127.37" y="291.83" width="12.74" height="5.45" fill="#5a00b4"/>
<rect x="139.81" y="291.83" width="12.74" height="5.45" fill="#6301ce"/>
<rect x="152.25" y="291.83" width="6.52" height="5.45" fill="#5a00b4"/>
<rect x="158.47" y="291.83" width="6.52" height="5.45" fill="#6301ce"/>
<rect x="164.69" y="291.83" width="12.74" height="5.45" fill="#5a00b4"/>
<rect x="177.13" y="291.83" width="18.96" height="5.45" fill="#6301ce"/>
<rect x="195.79" y="291.83" width="18.96" height="5.45" fill="#510096"/>
<rect x="214.45" y="291.83" width="6.52" height="5.45" fill="#5a00b4"/>
<rect x="220.67" y="291.83" width="12.74" height="5.45" fill="#510096"/>
<rect x="233.11" y="291.83" width="6.52" height="5.45" fill="#5a00b4"/>
<rect x="239.33" y="291.83" width="12.74" height="5.45" fill="#510096"/>
<rect x="251.77" y="291.83" width="6.52" height="5.45" fill="#5a00b4"/>
<rect x="257.99" y="291.83" width="6.52" height="5.45" fill="#6b01e3"/>
<rect x="264.21" y="291.83" width="6.52" height="5.45" fill="#8c07f3"/>
<rect x="270.43" y="291.83" width="12.74" height="5.45" fill="#bd2a00"/>
<rect x="282.87" y="291.83" width="12.74" height="5.45" fill="#ab174f"/>
<rect x="295.31" y="291.83" width="6.52" height="5.45" fill="#8c07f3"/>
<rect x="301.53" y="291.83" width="6.52" height="5.45" fill="#6b01e3"/>
<rect x="307.75" y="291.83" width="6.52" height="5.45" fill="#6301ce"/>
<rect x="313.97" y="291.83" width="6.52" height="5.45" fill="#5a00b4"/>
<rect x="320.19" y="291.83" width="12.74" height="5.45" fill="#510096"/>
<rect x="332.63" y="291.83" width="18.96" height="5.45" fill="#5a00b4"/>
<rect x="351.29" y="291.83" width="12.74" height="5.45" fill="#510096"/>
<rect x="363.73" y="291.83" width="6.52" height="5.45" fill="#48007b"/>
<rect x="369.95" y="291.83" width="6.52" height="5.45" fill="#510096"/>
<rect x="376.17" y="291.83" width="6.52" height="5.45" fill="#6301ce"/>
<rect x="382.39" y="291.83" width="6.52" height="5.45" fill="#6b01e3"/>
<rect x="388.61" y="291.83" width="6.52" height="5.45" fill="#7202f3"/>
<rect x="394.83" y="291.83" width="6.52" height="5.45" fill="#8004ff"/>
<rect x="401.05" y="291.83" width="6.52" height="5.45" fill="#970bce"/>
<rect x="407.27" y="291.83" width="6.52" height="5.45" fill="#8004ff"/>
<rect x="413.49" y="291.83" width="6.52" height="5.45" fill="#6b01e3"/>
<rect x="419.71" y="291.83" width="6.52" height="5.45" fill="#6301ce"/>
<rect x="425.93" y="291.83" width="18.96" height="5.45" fill="#5a00b4"/>
<rect x="444.59" y="291.83" width="6.52" height="5.45" fill="#6301ce"/>
<rect x="450.81" y="291.83" width="6.52" height="5.45" fill="#5a00b4"/>
<rect x="457.03" y="291.83" width="12.74" height="5.45" fill="#510096"/>
<rect x="469.47" y="291.83" width="6.52" height="5.45" fill="#5a00b4"/>
<rect x="475.69" y="291.83" width="6.52" height="5.45" fill="#510096"/>
<rect x="481.91" y="291.83" width="42.89" height="5.45" fill="#5a00b4"/>
<rect x="74.50" y="296.98" width="3.41" height="5.45" fill="#6301ce"/>
<rect x="77.61" y="296.98" width="12.74" height="5.45" fill="#5a00b4"/>
<rect x="90.05" y="296.98" width="6.52" height="5.45" fill="#6301ce"/>
<rect x="96.27" y="296.98" width="6.52" height="5.45" fill="#6b01e3"/>
<rect x="102.49" y="296.98" width="6.52" height="5.45" fill="#7202f3"/>
<rect x="108.71" y="296.98" width="6.52" height="5.45" fill="#8004ff"/>
<rect x="114.93" y="296.98" width="6.52" height="5.45" fill="#7202f3"/>
<rect x="121.15" y="296.98" width="12.74" height="5.45" fill="#6b01e3"/>
<rect x="133.59" y="296.98" width="18.96" height="5.45" fill="#6301ce"/>
<rect x="152.25" y="296.98" width="12.74" height="5.45" fill="#5a00b4"/>
<rect x="164.69" y="296.98" width="12.74" height="5.45" fill="#510096"/>
<rect x="177.13" y="296.98" width="18.96" height="5.45" fill="#5a00b4"/>
<rect x="195.79" y="296.98" width="6.52" height="5.45" fill="#510096"/>
<rect x="202.01" y="296.98" width="18.96" height="5.45" fill="#5a00b4"/>
<rect x="220.67" y="296.98" width="12.74" height="5.45" fill="#510096"/>
<rect x="233.11" y="296.98" width="6.52" height="5.45" fill="#5a00b4"/>
<rect x="239.33" y="296.98" width="12.74" height="5.45" fill="#510096"/>
<rect x="251.77" y="296.98" width="6.52" height="5.45" fill="#5a00b4"/>
<rect x="257.99" y="296.98" width="6.52" height="5.45" fill="#6b01e3"/>
<rect x="264.21" y="296.98" width="6.52" height="5.45" fill="#8004ff"/>
<rect x="270.43" y="296.98" width="12.74" height="5.45" fill="#c63700"/>
<rect x="282.87" y="296.98" width="6.52" height="5.45" fill="#bd2a00"/>
<rect x="289.09" y="296.98" width="6.52" height="5.45" fill="#970bce"/>
<rect x="295.31" y="296.98" width="6.52" height="5.45" fill="#8c07f3"/>
<rect x="301.53" y="296.98" width="6.52" height="5.45" fill="#6b01e3"/>
<rect x="307.75" y="296.98" width="12.74" height="5.45" fill="#6301ce"/>
<rect x="320.19" y="296.98" width="6.52" height="5.45" fill="#510096"/>
<rect x="326.41" y="296.98" width="6.52" height="5.45" fill="#48007b"/>
<rect x="332.63" y="296.98" width="6.52" height="5.45" fill="#510096"/>
<rect x="338.85" y="296.98" width="18.96" height="5.45" fill="#5a00b4"/>
<rect x="357.51" y="296.98" width="6.52" height="5.45" fill="#6301ce"/>
<rect x="363.73" y="296.98" width="12.74" height="5.45" fill="#5a00b4"/>
<rect x="376.17" y="296.98" width="6.52" height="5.45" fill="#6b01e3"/>
<rect x="382.39" y="296.98" width="6.52" height="5.45" fill="#7202f3"/>
<rect x="388.61" y="296.98" width="12.74" height="5.45" fill="#8c07f3"/>
<rect x="401.05" y="296.98" width="6.52" height="5.45" fill="#970bce"/>
<rect x="407.27" y="296.98" width="6.52" height="5.45" fill="#8004ff"/>
<rect x="413.49" y="296.98" width="6.52" height="5.45" fill="#7202f3"/>
<rect x="419.71" y="296.98" width="6.52" height="5.45" fill="#6301ce"/>
<rect x="425.93" y="296.98" width="12.74" height="5.45" fill="#5a00b4"/>
<rect x="438.37" y="296.98" width="6.52" height="5.45" fill="#510096"/>
<rect x="444.59" y="296.98" width="25.18" height="5.45" fill="#5a00b4"/>
<rect x="469.47" y="296.98" width="12.74" height="5.45" fill="#510096"/>
<rect x="481.91" y="296.98" width="42.89" height="5.45" fill="#5a00b4"/>
<rect x="74.50" y="302.12" width="15.85" height="5.45" fill="#6301ce"/>
<rect x="90.05" y="302.12" width="6.52" height="5.45" fill="#7202f3"/>
<rect x="96.27" y="302.12" width="6.52" height="5.45" fill="#8004ff"/>
<rect x="102.49" y="302.12" width="12.74" height="5.45" fill="#970bce"/>
<rect x="114.93" y="302.12" width="6.52" height="5.45" fill="#8c07f3"/>
<rect x="121.15" y="302.12" width="6.52" height="5.45" fill="#8004ff"/>
<rect x="127.37" y="302.12" width="6.52" height="5.45" fill="#7202f3"/>
<rect x="133.59" y="302.12" width="6.52" height="5.45" fill="#6b01e3"/>
<rect x="139.81" y="302.12" width="6.52" height="5.45" fill="#6301ce"/>
<rect x="146.03" y="302.12" width="18.96" height="5.45" fill="#5a00b4"/>
<rect x="164.69" y="302.12" width="6.52" height="5.45" fill="#6301ce"/>
<rect x="170.91" y="302.12" width="12.74" height="5.45" fill="#6b01e3"/>
<rect x="183.35" y="302.12" width="6.52" height="5.45" fill="#6301ce"/>
<rect x="189.57" y="302.12" width="12.74" height="5.45" fill="#5a00b4"/>
<rect x="202.01" y="302.12" width="18.96" height="5.45" fill="#510096"/>
<rect x="220.67" y="302.12" width="6.52" height="5.45" fill="#48007b"/>
<rect x="226.89" y="302.12" width="25.18" height="5.45" fill="#510096"/>
<rect x="251.77" y="302.12" width="6.52" height="5.45" fill="#5a00b4"/>
<rect x="257.99" y="302.12" width="6.52" height="5.45" fill="#6b01e3"/>
<rect x="264.21" y="302.12" width="6.52" height="5.45" fill="#8004ff"/>
<rect x="270.43" y="302.12" width="6.52" height="5.45" fill="#8c07f3"/>
<rect x="276.65" y="302.12" width="6.52" height="5.45" fill="#ce4600"/>
<rect x="282.87" y="302.12" width="6.52" height="5.45" fill="#c63700"/>
<rect x="289.09" y="302.12" width="6.52" height="5.45" fill="#8c07f3"/>
<rect x="295.31" y="302.12" width="6.52" height="5.45" fill="#7202f3"/>
<rect x="301.53" y="302.12" width="6.52" height="5.45" fill="#6b01e3"/>
<rect x="307.75" y="302.12" width="6.52" height="5.45" fill="#5a00b4"/>
<rect x="313.97" y="302.12" width="6.52" height="5.45" fill="#510096"/>
<rect x="320.19" y="302.12" width="25.18" height="5.45" fill="#5a00b4"/>
<rect x="345.07" y="302.12" width="6.52" height="5.45" fill="#6301ce"/>
<rect x="351.29" y="302.12" width="12.74" height="5.45" fill="#7202f3"/>
<rect x="363.73" y="302.12" width="12.74" height="5.45" fill="#8004ff"/>
<rect x="376.17" y="302.12" width="12.74" height="5.45" fill="#8c07f3"/>
<rect x="388.61" y="302.12" width="18.96" height="5.45" fill="#970bce"/>
<rect x="407.27" y="302.12" width="6.52" height="5.45" fill="#8004ff"/>
<rect x="413.49" y="302.12" width="6.52" height="5.45" fill="#7202f3"/>
<rect x="419.71" y="302.12" width="6.52" height="5.45" fill="#6b01e3"/>
<rect x="425.93" y="302.12" width="12.74" height="5.45" fill="#6301ce"/>
<rect x="438.37" y="302.12" width="18.96" height="5.45" fill="#5a00b4"/>
<rect x="457.03" y="302.12" width="6.52" height="5.45" fill="#510096"/>
<rect x="463.25" y="302.12" width="12.74" height="5.45" fill="#5a00b4"/>
<rect x="475.69" y="302.12" width="18.96" height="5.45" fill="#510096"/>
<rect x="494.35" y="302.12" width="18.96" height="5.45" fill="#5a00b4"/>
<rect x="513.01" y="302.12" width="6.52" height="5.45" fill="#510096"/>
<rect x="519.23" y="302.12" width="5.57" height="5.45" fill="#5a00b4"/>
<rect x="74.50" y="307.27" width="3.41" height="5.45" fill="#5a00b4"/>
<rect x="77.61" y="307.27" width="6.52" height="5.45" fill="#510096"/>
<rect x="83.83" y="307.27" width="6.52" height="5.45" fill="#5a00b4"/>
<rect x="90.05" y="307.27" width="6.52" height="5.45" fill="#7202f3"/>
<rect x="96.27" y="307.27" width="6.52" height="5.45" fill="#8004ff"/>
<rect x="102.49" y="307.27" width="6.52" height="5.45" fill="#ab174f"/>
<rect x="108.71" y="307.27" width="18.96" height="5.45" fill="#a11096"/>
<rect x="127.37" y="307.27" width="37.62" height="5.45" fill="#8004ff"/>
<rect x="164.69" y="307.27" width="12.74" height="5.45" fill="#8c07f3"/>
<rect x="177.13" y="307.27" width="6.52" height="5.45" fill="#8004ff"/>
<rect x="183.35" y="307.27" width="6.52" height="5.45" fill="#7202f3"/>
<rect x="189.57" y="307.27" width="6.52" height="5.45" fill="#6b01e3"/>
<rect x="195.79" y="307.27" width="6.52" height="5.45" fill="#6301ce"/>
<rect x="202.01" y="307.27" width="12.74" height="5.45" fill="#5a00b4"/>
<rect x="214.45" y="307.27" width="31.40" height="5.45" fill="#510096"/>
<rect x="245.55" y="307.27" width="6.52" height="5.45" fill="#5a00b4"/>
<rect x="251.77" y="307.27" width="6.52" height="5.45" fill="#6301ce"/>
<rect x="257.99" y="307.27" width="6.52" height="5.45" fill="#6b01e3"/>
<rect x="264.21" y="307.27" width="6.52" height="5.45" fill="#8004ff"/>
<rect x="270.43" y="307.27" width="6.52" height="5.45" fill="#8c07f3"/>
<rect x="276.65" y="307.27" width="6.52" height="5.45" fill="#ce4600"/>
<rect x="282.87" y="307.27" width="6.52" height="5.45" fill="#970bce"/>
<rect x="289.09" y="307.27" width="12.74" height="5.45" fill="#8004ff"/>
<rect x="301.53" y="307.27" width="6.52" height="5.45" fill="#7202f3"/>
<rect x="307.75" y="307.27" width="31.40" height="5.45" fill="#5a00b4"/>
<rect x="338.85" y="307.27" width="6.52" height="5.45" fill="#6b01e3"/>
<rect x="345.07" y="307.27" width="6.52" height="5.45" fill="#8004ff"/>
<rect x="351.29" y="307.27" width="6.52" height="5.45" fill="#8c07f3"/>
<rect x="357.51" y="307.27" width="18.96" height="5.45" fill="#970bce"/>
<rect x="376.17" y="307.27" width="18.96" height="5.45" fill="#8c07f3"/>
<rect x="394.83" y="307.27" width="6.52" height="5.45" fill="#a11096"/>
<rect x="401.05" y="307.27" width="6.52" height="5.45" fill="#970bce"/>
<rect x="407.27" y="307.27" width="6.52" height="5.45" fill="#8004ff"/>
<rect x="413.49" y="307.27" width="12.74" height="5.45" fill="#7202f3"/>
<rect x="425.93" y="307.27" width="12.74" height="5.45" fill="#8004ff"/>
<rect x="438.37" y="307.27" width="6.52" height="5.45" fill="#6b01e3"/>
<rect x="444.59" y="307.27" width="12.74" height="5.45" fill="#6301ce"/>
<rect x="457.03" y="307.27" width="6.52" height="5.45" fill="#510096"/>
<rect x="463.25" y="307.27" width="6.52" height="5.45" fill="#5a00b4"/>
<rect x="469.47" y="307.27" width="6.52" height="5.45" fill="#510096"/>
<rect x="475.69" y="307.27" width="12.74" height="5.45" fill="#5a00b4"/>
<rect x="488.13" y="307.27" width="6.52" height="5.45" fill="#510096"/>
<rect x="494.35" y="307.27" width="6.52" height="5.45" fill="#5a00b4"/>
<rect x="500.57" y="307.27" width="6.52" height="5.45" fill="#6301ce"/>
<rect x="506.79" y="307.27" width="6.52" height="5.45" fill="#5a00b4"/>
<rect x="513.01" y="307.27" width="6.52" height="5.45" fill="#510096"/>
<rect x="519.23" y="307.27" width="5.57" height="5.45" fill="#5a00b4"/>
<rect x="74.50" y="312.43" width="3.41" height="5.45" fill="#6301ce"/>
<rect x="77.61" y="312.43" width="6.52" height="5.45" fill="#510096"/>
<rect x="83.83" y="312.43" width="6.52" height="5.45" fill="#5a00b4"/>
<rect x="90.05" y="312.43" width="6.52" height="5.45" fill="#6b01e3"/>
<rect x="96.27" y="312.43" width="6.52" height="5.45" fill="#7202f3"/>
<rect x="102.49" y="312.43" width="6.52" height="5.45" fill="#970bce"/>
<rect x="108.71" y="312.43" width="12.74" height="5.45" fill="#b42000"/>
<rect x="121.15" y="312.43" width="6.52" height="5.45" fill="#8c07f3"/>
<rect x="127.37" y="312.43" width="12.74" height="5.45" fill="#8004ff"/>
<rect x="139.81" y="312.43" width="12.74" height="5.45" fill="#8c07f3"/>
<rect x="152.25" y="312.43" width="18.96" height="5.45" fill="#970bce"/>
<rect x="170.91" y="312.43" width="6.52" height="5.45" fill="#a11096"/>
<rect x="177.13" y="312.43" width="6.52" height="5.45" fill="#8004ff"/>
<rect x="183.35" y="312.43" width="6.52" height="5.45" fill="#7202f3"/>
<rect x="189.57" y="312.43" width="6.52" height="5.45" fill="#6b01e3"/>
<rect x="195.79" y="312.43" width="18.96" height="5.45" fill="#5a00b4"/>
<rect x="214.45" y="312.43" width="31.40" height="5.45" fill="#510096"/>
<rect x="245.55" y="312.43" width="6.52" height="5.45" fill="#5a00b4"/>
<rect x="251.77" y="312.43" width="6.52" height="5.45" fill="#6301ce"/>
<rect x="257.99" y="312.43" width="6.52" height="5.45" fill="#7202f3"/>
<rect x="264.21" y="312.43" width="6.52" height="5.45" fill="#8004ff"/>
<rect x="270.43" y="312.43" width="6.52" height="5.45" fill="#8c07f3"/>
<rect x="276.65" y="312.43" width="6.52" height="5.45" fill="#b42000"/>
<rect x="282.87" y="312.43" width="6.52" height="5.45" fill="#970bce"/>
<rect x="289.09" y="312.43" width="12.74" height="5.45" fill="#8004ff"/>
<rect x="301.53" y="312.43" width="31.40" height="5.45" fill="#7202f3"/>
<rect x="332.63" y="312.43" width="6.52" height="5.45" fill="#8004ff"/>
<rect x="338.85" y="312.43" width="6.52" height="5.45" fill="#8c07f3"/>
<rect x="345.07" y="312.43" width="6.52" height="5.45" fill="#970bce"/>
<rect x="351.29" y="312.43" width="6.52" height="5.45" fill="#a11096"/>
<rect x="357.51" y="312.43" width="6.52" height="5.45" fill="#ab174f"/>
<rect x="363.73" y="312.43" width="12.74" height="5.45" fill="#970bce"/>
<rect x="376.17" y="312.43" width="18.96" height="5.45" fill="#8c07f3"/>
<rect x="394.83" y="312.43" width="18.96" height="5.45" fill="#8004ff"/>
<rect x="413.49" y="312.43" width="12.74" height="5.45" fill="#7202f3"/>
<rect x="425.93" y="312.43" width="12.74" height="5.45" fill="#970bce"/>
<rect x="438.37" y="312.43" width="6.52" height="5.45" fill="#7202f3"/>
<rect x="444.59" y="312.43" width="12.74" height="5.45" fill="#6b01e3"/>
<rect x="457.03" y="312.43" width="12.74" height="5.45" fill="#5a00b4"/>
<rect x="469.47" y="312.43" width="6.52" height="5.45" fill="#510096"/>
<rect x="475.69" y="312.43" width="6.52" height="5.45" fill="#5a00b4"/>
<rect x="481.91" y="312.43" width="18.96" height="5.45" fill="#510096"/>
<rect x="500.57" y="312.43" width="24.23" height="5.45" fill="#5a00b4"/>
<rect x="74.50" y="317.58" width="3.41" height="5.45" fill="#6301ce"/>
<rect x="77.61" y="317.58" width="6.52" height="5.45" fill="#510096"/>
<rect x="83.83" y="317.58" width="6.52" height="5.45" fill="#5a00b4"/>
<rect x="90.05" y="317.58" width="6.52" height="5.45" fill="#6301ce"/>
<rect x="96.27" y="317.58" width="6.52" height="5.45" fill="#7202f3"/>
<rect x="102.49" y="317.58" width="6.52" height="5.45" fill="#8004ff"/>
<rect x="108.71" y="317.58" width="6.52" height="5.45" fill="#a11096"/>
<rect x="114.93" y="317.58" width="6.52" height="5.45" fill="#bd2a00"/>
<rect x="121.15" y="317.58" width="6.52" height="5.45" fill="#a11096"/>
<rect x="127.37" y="317.58" width="12.74" height="5.45" fill="#970bce"/>
<rect x="139.81" y="317.58" width="12.74" height="5.45" fill="#a11096"/>
<rect x="152.25" y="317.58" width="12.74" height="5.45" fill="#ab174f"/>
<rect x="164.69" y="317.58" width="6.52" height="5.45" fill="#b42000"/>
<rect x="170.91" y="317.58" width="6.52" height="5.45" fill="#970bce"/>
<rect x="177.13" y="317.58" width="6.52" height="5.45" fill="#8004ff"/>
<rect x="183.35" y="317.58" width="6.52" height="5.45" fill="#7202f3"/>
<rect x="189.57" y="317.58" width="12.74" height="5.45" fill="#5a00b4"/>
<rect x="202.01" y="317.58" width="31.40" height="5.45" fill="#510096"/>
<rect x="233.11" y="317.58" width="12.74" height="5.45" fill="#5a00b4"/>
<rect x="245.55" y="317.58" width="12.74" height="5.45" fill="#6301ce"/>
<rect x="257.99" y="317.58" width="6.52" height="5.45" fill="#8004ff"/>
<rect x="264.21" y="317.58" width="6.52" height="5.45" fill="#8c07f3"/>
<rect x="270.43" y="317.58" width="6.52" height="5.45" fill="#970bce"/>
<rect x="276.65" y="317.58" width="6.52" height="5.45" fill="#ab174f"/>
<rect x="282.87" y="317.58" width="6.52" height="5.45" fill="#970bce"/>
<rect x="289.09" y="317.58" width="43.84" height="5.45" fill="#8c07f3"/>
<rect x="332.63" y="317.58" width="6.52" height="5.45" fill="#970bce"/>
<rect x="338.85" y="317.58" width="6.52" height="5.45" fill="#a11096"/>
<rect x="345.07" y="317.58" width="6.52" height="5.45" fill="#ab174f"/>
<rect x="351.29" y="317.58" width="12.74" height="5.45" fill="#a11096"/>
<rect x="363.73" y="317.58" width="12.74" height="5.45" fill="#970bce"/>
<rect x="376.17" y="317.58" width="6.52" height="5.45" fill="#8004ff"/>
<rect x="382.39" y="317.58" width="12.74" height="5.45" fill="#7202f3"/>
<rect x="394.83" y="317.58" width="6.52" height="5.45" fill="#6b01e3"/>
<rect x="401.05" y="317.58" width="25.18" height="5.45" fill="#7202f3"/>
<rect x="425.93" y="317.58" width="6.52" height="5.45" fill="#970bce"/>
<rect x="432.15" y="317.58" width="6.52" height="5.45" fill="#8c07f3"/>
<rect x="438.37" y="317.58" width="6.52" height="5.45" fill="#6b01e3"/>
<rect x="444.59" y="317.58" width="25.18" height="5.45" fill="#5a00b4"/>
<rect x="469.47" y="317.58" width="6.52" height="5.45" fill="#6301ce"/>
<rect x="475.69" y="317.58" width="6.52" height="5.45" fill="#5a00b4"/>
<rect x="481.91" y="317.58" width="18.96" height="5.45" fill="#510096"/>
<rect x="500.57" y="317.58" width="24.23" height="5.45" fill="#5a00b4"/>
<rect x="74.50" y="322.73" width="3.41" height="5.45" fill="#6301ce"/>
<rect x="77.61" y="322.73" width="6.52" height="5.45" fill="#510096"/>
<rect x="83.83" y="322.73" width="6.52" height="5.45" fill="#5a00b4"/>
<rect x="90.05" y="322.73" width="6.52" height="5.45" fill="#6301ce"/>
<rect x="96.27" y="322.73" width="6.52" height="5.45" fill="#7202f3"/>
<rect x="102.49" y="322.73" width="6.52" height="5.45" fill="#8004ff"/>
<rect x="108.71" y="322.73" width="6.52" height="5.45" fill="#8c07f3"/>
<rect x="114.93" y="322.73" width="6.52" height="5.45" fill="#a11096"/>
<rect x="121.15" y="322.73" width="18.96" height="5.45" fill="#b42000"/>
<rect x="139.81" y="322.73" width="31.40" height="5.45" fill="#bd2a00"/>
<rect x="170.91" y="322.73" width="6.52" height="5.45" fill="#8c07f3"/>
<rect x="177.13" y="322.73" width="6.52" height="5.45" fill="#8004ff"/>
<rect x="183.35" y="322.73" width="6.52" height="5.45" fill="#6b01e3"/>
<rect x="189.57" y="322.73" width="12.74" height="5.45" fill="#5a00b4"/>
<rect x="202.01" y="322.73" width="12.74" height="5.45" fill="#6301ce"/>
<rect x="214.45" y="322.73" width="6.52" height="5.45" fill="#5a00b4"/>
<rect x="220.67" y="322.73" width="6.52" height="5.45" fill="#510096"/>
<rect x="226.89" y="322.73" width="6.52" height="5.45" fill="#5a00b4"/>
<rect x="233.11" y="322.73" width="6.52" height="5.45" fill="#510096"/>
<rect x="239.33" y="322.73" width="6.52" height="5.45" fill="#5a00b4"/>
<rect x="245.55" y="322.73" width="6.52" height="5.45" fill="#6301ce"/>
<rect x="251.77" y="322.73" width="6.52" height="5.45" fill="#7202f3"/>
<rect x="257.99" y="322.73" width="6.52" height="5.45" fill="#8004ff"/>
<rect x="264.21" y="322.73" width="6.52" height="5.45" fill="#970bce"/>
<rect x="270.43" y="322.73" width="6.52" height="5.45" fill="#ab174f"/>
<rect x="276.65" y="322.73" width="6.52" height="5.45" fill="#970bce"/>
<rect x="282.87" y="322.73" width="31.40" height="5.45" fill="#a11096"/>
<rect x="313.97" y="322.73" width="6.52" height="5.45" fill="#ab174f"/>
<rect x="320.19" y="322.73" width="12.74" height="5.45" fill="#a11096"/>
<rect x="332.63" y="322.73" width="6.52" height="5.45" fill="#ab174f"/>
<rect x="338.85" y="322.73" width="6.52" height="5.45" fill="#bd2a00"/>
<rect x="345.07" y="322.73" width="6.52" height="5.45" fill="#ab174f"/>
<rect x="351.29" y="322.73" width="12.74" height="5.45" fill="#970bce"/>
<rect x="363.73" y="322.73" width="6.52" height="5.45" fill="#8c07f3"/>
<rect x="369.95" y="322.73" width="6.52" height="5.45" fill="#8004ff"/>
<rect x="376.17" y="322.73" width="6.52" height="5.45" fill="#7202f3"/>
<rect x="382.39" y="322.73" width="6.52" height="5.45" fill="#6301ce"/>
<rect x="388.61" y="322.73" width="6.52" height="5.45" fill="#5a00b4"/>
<rect x="394.83" y="322.73" width="6.52" height="5.45" fill="#6301ce"/>
<rect x="401.05" y="322.73" width="12.74" height="5.45" fill="#5a00b4"/>
<rect x="413.49" y="322.73" width="6.52" height="5.45" fill="#6b01e3"/>
<rect x="419.71" y="322.73" width="6.52" height="5.45" fill="#7202f3"/>
<rect x="425.93" y="322.73" width="6.52" height="5.45" fill="#a11096"/>
<rect x="432.15" y="322.73" width="6.52" height="5.45" fill="#8c07f3"/>
<rect x="438.37" y="322.73" width="6.52" height="5.45" fill="#6301ce"/>
<rect x="444.59" y="322.73" width="18.96" height="5.45" fill="#5a00b4"/>
<rect x="463.25" y="322.73" width="6.52" height="5.45" fill="#510096"/>
<rect x="469.47" y="322.73" width="18.96" height="5.45" fill="#5a00b4"/>
<rect x="488.13" y="322.73" width="6.52" height="5.45" fill="#6301ce"/>
<rect x="494.35" y="322.73" width="12.74" height="5.45" fill="#5a00b4"/>
<rect x="506.79" y="322.73" width="12.74" height="5.45" fill="#510096"/>
<rect x="519.23" y="322.73" width="5.57" height="5.45" fill="#5a00b4"/>
<rect x="74.50" y="327.88" width="3.41" height="5.45" fill="#5a00b4"/>
<rect x="77.61" y="327.88" width="6.52" height="5.45" fill="#510096"/>
<rect x="83.83" y="327.88" width="6.52" height="5.45" fill="#5a00b4"/>
<rect x="90.05" y="327.88" width="6.52" height="5.45" fill="#6301ce"/>
<rect x="96.27" y="327.88" width="6.52" height="5.45" fill="#7202f3"/>
<rect x="102.49" y="327.88" width="6.52" height="5.45" fill="#8004ff"/>
<rect x="108.71" y="327.88" width="6.52" height="5.45" fill="#8c07f3"/>
<rect x="114.93" y="327.88" width="12.74" height="5.45" fill="#970bce"/>
<rect x="127.37" y="327.88" width="25.18" height="5.45" fill="#c63700"/>
<rect x="152.25" y="327.88" width="6.52" height="5.45" fill="#ce4600"/>
<rect x="158.47" y="327.88" width="6.52" height="5.45" fill="#c63700"/>
<rect x="164.69" y="327.88" width="6.52" height="5.45" fill="#ab174f"/>
<rect x="170.91" y="327.88" width="6.52" height="5.45" fill="#8004ff"/>
<rect x="177.13" y="327.88" width="6.52" height="5.45" fill="#6b01e3"/>
<rect x="183.35" y="327.88" width="6.52" height="5.45" fill="#6301ce"/>
<rect x="189.57" y="327.88" width="31.40" height="5.45" fill="#5a00b4"/>
<rect x="220.67" y="327.88" width="6.52" height="5.45" fill="#510096"/>
<rect x="226.89" y="327.88" width="12.74" height="5.45" fill="#5a00b4"/>
<rect x="239.33" y="327.88" width="6.52" height="5.45" fill="#6301ce"/>
<rect x="245.55" y="327.88" width="6.52" height="5.45" fill="#7202f3"/>
<rect x="251.77" y="327.88" width="6.52" height="5.45" fill="#8004ff"/>
<rect x="257.99" y="327.88" width="6.52" height="5.45" fill="#970bce"/>
<rect x="264.21" y="327.88" width="6.52" height="5.45" fill="#a11096"/>
<rect x="270.43" y="327.88" width="6.52" height="5.45" fill="#ab174f"/>
<rect x="276.65" y="327.88" width="6.52" height="5.45" fill="#bd2a00"/>
<rect x="282.87" y="327.88" width="6.52" height="5.45" fill="#b42000"/>
<rect x="289.09" y="327.88" width="25.18" height="5.45" fill="#ab174f"/>
<rect x="313.97" y="327.88" width="18.96" height="5.45" fill="#bd2a00"/>
<rect x="332.63" y="327.88" width="12.74" height="5.45" fill="#c63700"/>
<rect x="345.07" y="327.88" width="6.52" height="5.45" fill="#a11096"/>
<rect x="351.29" y="327.88" width="6.52" height="5.45" fill="#8c07f3"/>
<rect x="357.51" y="327.88" width="12.74" height="5.45" fill="#8004ff"/>
<rect x="369.95" y="327.88" width="6.52" height="5.45" fill="#6b01e3"/>
<rect x="376.17" y="327.88" width="12.74" height="5.45" fill="#510096"/>
<rect x="388.61" y="327.88" width="18.96" height="5.45" fill="#6301ce"/>
<rect x="407.27" y="327.88" width="12.74" height="5.45" fill="#6b01e3"/>
<rect x="419.71" y="327.88" width="6.52" height="5.45" fill="#7202f3"/>
<rect x="425.93" y="327.88" width="6.52" height="5.45" fill="#970bce"/>
<rect x="432.15" y="327.88" width="6.52" height="5.45" fill="#8004ff"/>
<rect x="438.37" y="327.88" width="12.74" height="5.45" fill="#6301ce"/>
<rect x="450.81" y="327.88" width="12.74" height="5.45" fill="#6b01e3"/>
<rect x="463.25" y="327.88" width="6.52" height="5.45" fill="#6301ce"/>
<rect x="469.47" y="327.88" width="6.52" height="5.45" fill="#5a00b4"/>
<rect x="475.69" y="327.88" width="6.52" height="5.45" fill="#510096"/>
<rect x="481.91" y="327.88" width="12.74" height="5.45" fill="#5a00b4"/>
<rect x="494.35" y="327.88" width="25.18" height="5.45" fill="#510096"/>
<rect x="519.23" y="327.88" width="5.57" height="5.45" fill="#5a00b4"/>
<rect x="74.50" y="333.03" width="3.41" height="5.45" fill="#5a00b4"/>
<rect x="77.61" y="333.03" width="6.52" height="5.45" fill="#510096"/>
<rect x="83.83" y="333.03" width="6.52" height="5.45" fill="#5a00b4"/>
<rect x="90.05" y="333.03" width="6.52" height="5.45" fill="#6301ce"/>
<rect x="96.27" y="333.03" width="6.52" height="5.45" fill="#6b01e3"/>
<rect x="102.49" y="333.03" width="6.52" height="5.45" fill="#7202f3"/>
<rect x="108.71" y="333.03" width="6.52" height="5.45" fill="#8004ff"/>
<rect x="114.93" y="333.03" width="6.52" height="5.45" fill="#8c07f3"/>
<rect x="121.15" y="333.03" width="12.74" height="5.45" fill="#970bce"/>
<rect x="133.59" y="333.03" width="25.18" height="5.45" fill="#d55700"/>
<rect x="158.47" y="333.03" width="6.52" height="5.45" fill="#ab174f"/>
<rect x="164.69" y="333.03" width="6.52" height="5.45" fill="#8c07f3"/>
<rect x="170.91" y="333.03" width="6.52" height="5.45" fill="#7202f3"/>
<rect x="177.13" y="333.03" width="6.52" height="5.45" fill="#6b01e3"/>
<rect x="183.35" y="333.03" width="6.52" height="5.45" fill="#6301ce"/>
<rect x="189.57" y="333.03" width="37.62" height="5.45" fill="#5a00b4"/>
<rect x="226.89" y="333.03" width="6.52" height="5.45" fill="#6301ce"/>
<rect x="233.11" y="333.03" width="6.52" height="5.45" fill="#6b01e3"/>
<rect x="239.33" y="333.03" width="6.52" height="5.45" fill="#7202f3"/>
<rect x="245.55" y="333.03" width="6.52" height="5.45" fill="#8c07f3"/>
<rect x="251.77" y="333.03" width="6.52" height="5.45" fill="#970bce"/>
<rect x="257.99" y="333.03" width="12.74" height="5.45" fill="#ab174f"/>
<rect x="270.43" y="333.03" width="6.52" height="5.45" fill="#bd2a00"/>
<rect x="276.65" y="333.03" width="6.52" height="5.45" fill="#e48300"/>
<rect x="282.87" y="333.03" width="6.52" height="5.45" fill="#dd6c00"/>
<rect x="289.09" y="333.03" width="6.52" height="5.45" fill="#bd2a00"/>
<rect x="295.31" y="333.03" width="6.52" height="5.45" fill="#b42000"/>
<rect x="301.53" y="333.03" width="18.96" height="5.45" fill="#ab174f"/>
<rect x="320.19" y="333.03" width="6.52" height="5.45" fill="#b42000"/>
<rect x="326.41" y="333.03" width="6.52" height="5.45" fill="#ab174f"/>
<rect x="332.63" y="333.03" width="12.74" height="5.45" fill="#b42000"/>
<rect x="345.07" y="333.03" width="6.52" height="5.45" fill="#970bce"/>
<rect x="351.29" y="333.03" width="6.52" height="5.45" fill="#8c07f3"/>
<rect x="357.51" y="333.03" width="6.52" height="5.45" fill="#7202f3"/>
<rect x="363.73" y="333.03" width="6.52" height="5.45" fill="#6b01e3"/>
<rect x="369.95" y="333.03" width="6.52" height="5.45" fill="#5a00b4"/>
<rect x="376.17" y="333.03" width="6.52" height="5.45" fill="#510096"/>
<rect x="382.39" y="333.03" width="18.96" height="5.45" fill="#5a00b4"/>
<rect x="401.05" y="333.03" width="6.52" height="5.45" fill="#6301ce"/>
<rect x="407.27" y="333.03" width="12.74" height="5.45" fill="#6b01e3"/>
<rect x="419.71" y="333.03" width="6.52" height="5.45" fill="#7202f3"/>
<rect x="425.93" y="333.03" width="6.52" height="5.45" fill="#8c07f3"/>
<rect x="432.15" y="333.03" width="6.52" height="5.45" fill="#7202f3"/>
<rect x="438.37" y="333.03" width="12.74" height="5.45" fill="#6301ce"/>
<rect x="450.81" y="333.03" width="12.74" height="5.45" fill="#7202f3"/>
<rect x="463.25" y="333.03" width="18.96" height="5.45" fill="#6301ce"/>
<rect x="481.91" y="333.03" width="6.52" height="5.45" fill="#6b01e3"/>
<rect x="488.13" y="333.03" width="12.74" height="5.45" fill="#5a00b4"/>
<rect x="500.57" y="333.03" width="12.74" height="5.45" fill="#510096"/>
<rect x="513.01" y="333.03" width="11.79" height="5.45" fill="#5a00b4"/>
<rect x="74.50" y="338.18" width="3.41" height="5.45" fill="#6b01e3"/>
<rect x="77.61" y="338.18" width="12.74" height="5.45" fill="#6301ce"/>
<rect x="90.05" y="338.18" width="6.52" height="5.45" fill="#5a00b4"/>
<rect x="96.27" y="338.18" width="6.52" height="5.45" fill="#6301ce"/>
<rect x="102.49" y="338.18" width="6.52" height="5.45" fill="#6b01e3"/>
<rect x="108.71" y="338.18" width="6.52" height="5.45" fill="#7202f3"/>
<rect x="114.93" y="338.18" width="6.52" height="5.45" fill="#8004ff"/>
<rect x="121.15" y="338.18" width="6.52" height="5.45" fill="#8c07f3"/>
<rect x="127.37" y="338.18" width="6.52" height="5.45" fill="#970bce"/>
<rect x="133.59" y="338.18" width="12.74" height="5.45" fill="#e48300"/>
<rect x="146.03" y="338.18" width="6.52" height="5.45" fill="#dd6c00"/>
<rect x="152.25" y="338.18" width="6.52" height="5.45" fill="#e48300"/>
<rect x="158.47" y="338.18" width="6.52" height="5.45" fill="#a11096"/>
<rect x="164.69" y="338.18" width="6.52" height="5.45" fill="#8c07f3"/>
<rect x="170.91" y="338.18" width="6.52" height="5.45" fill="#7202f3"/>
<rect x="177.13" y="338.18" width="6.52" height="5.45" fill="#6b01e3"/>
<rect x="183.35" y="338.18" width="6.52" height="5.45" fill="#6301ce"/>
<rect x="189.57" y="338.18" width="6.52" height="5.45" fill="#48007b"/>
<rect x="195.79" y="338.18" width="6.52" height="5.45" fill="#510096"/>
<rect x="202.01" y="338.18" width="25.18" height="5.45" fill="#5a00b4"/>
<rect x="226.89" y="338.18" width="12.74" height="5.45" fill="#6b01e3"/>
<rect x="239.33" y="338.18" width="6.52" height="5.45" fill="#7202f3"/>
<rect x="245.55" y="338.18" width="6.52" height="5.45" fill="#a11096"/>
<rect x="251.77" y="338.18" width="6.52" height="5.45" fill="#b42000"/>
<rect x="257.99" y="338.18" width="18.96" height="5.45" fill="#bd2a00"/>
<rect x="276.65" y="338.18" width="6.52" height="5.45" fill="#e48300"/>
<rect x="282.87" y="338.18" width="6.52" height="5.45" fill="#d55700"/>
<rect x="289.09" y="338.18" width="6.52" height="5.45" fill="#ce4600"/>
<rect x="295.31" y="338.18" width="12.74" height="5.45" fill="#b42000"/>
<rect x="307.75" y="338.18" width="6.52" height="5.45" fill="#ab174f"/>
<rect x="313.97" y="338.18" width="6.52" height="5.45" fill="#a11096"/>
<rect x="320.19" y="338.18" width="6.52" height="5.45" fill="#b42000"/>
<rect x="326.41" y="338.18" width="12.74" height="5.45" fill="#ab174f"/>
<rect x="338.85" y="338.18" width="12.74" height="5.45" fill="#970bce"/>
<rect x="351.29" y="338.18" width="6.52" height="5.45" fill="#8004ff"/>
<rect x="357.51" y="338.18" width="6.52" height="5.45" fill="#6b01e3"/>
<rect x="363.73" y="338.18" width="12.74" height="5.45" fill="#5a00b4"/>
<rect x="376.17" y="338.18" width="12.74" height="5.45" fill="#510096"/>
<rect x="388.61" y="338.18" width="6.52" height="5.45" fill="#48007b"/>
<rect x="394.83" y="338.18" width="6.52" height="5.45" fill="#510096"/>
<rect x="401.05" y="338.18" width="12.74" height="5.45" fill="#5a00b4"/>
<rect x="413.49" y="338.18" width="6.52" height="5.45" fill="#6b01e3"/>
<rect x="419.71" y="338.18" width="12.74" height="5.45" fill="#7202f3"/>
<rect x="432.15" y="338.18" width="6.52" height="5.45" fill="#6301ce"/>
<rect x="438.37" y="338.18" width="6.52" height="5.45" fill="#510096"/>
<rect x="444.59" y="338.18" width="6.52" height="5.45" fill="#6301ce"/>
<rect x="450.81" y="338.18" width="12.74" height="5.45" fill="#7202f3"/>
<rect x="463.25" y="338.18" width="18.96" height="5.45" fill="#6301ce"/>
<rect x="481.91" y="338.18" width="12.74" height="5.45" fill="#6b01e3"/>
<rect x="494.35" y="338.18" width="6.52" height="5.45" fill="#6301ce"/>
<rect x="500.57" y="338.18" width="24.23" height="5.45" fill="#5a00b4"/>
<rect x="74.50" y="343.33" width="3.41" height="5.45" fill="#6b01e3"/>
<rect x="77.61" y="343.33" width="12.74" height="5.45" fill="#6301ce"/>
<rect x="90.05" y="343.33" width="12.74" height="5.45" fill="#5a00b4"/>
<rect x="102.49" y="343.33" width="6.52" height="5.45" fill="#6b01e3"/>
<rect x="108.71" y="343.33" width="6.52" height="5.45" fill="#7202f3"/>
<rect x="114.93" y="343.33" width="6.52" height="5.45" fill="#8004ff"/>
<rect x="121.15" y="343.33" width="6.52" height="5.45" fill="#8c07f3"/>
<rect x="127.37" y="343.33" width="6.52" height="5.45" fill="#970bce"/>
<rect x="133.59" y="343.33" width="6.52" height="5.45" fill="#eb9d00"/>
<rect x="139.81" y="343.33" width="6.52" height="5.45" fill="#f2ba00"/>
<rect x="146.03" y="343.33" width="6.52" height="5.45" fill="#eb9d00"/>
<rect x="152.25" y="343.33" width="6.52" height="5.45" fill="#970bce"/>
<rect x="158.47" y="343.33" width="6.52" height="5.45" fill="#8c07f3"/>
<rect x="164.69" y="343.33" width="6.52" height="5.45" fill="#8004ff"/>
<rect x="170.91" y="343.33" width="6.52" height="5.45" fill="#7202f3"/>
<rect x="177.13" y="343.33" width="6.52" height="5.45" fill="#6301ce"/>
<rect x="183.35" y="343.33" width="6.52" height="5.45" fill="#48007b"/>
<rect x="189.57" y="343.33" width="6.52" height="5.45" fill="#510096"/>
<rect x="195.79" y="343.33" width="25.18" height="5.45" fill="#5a00b4"/>
<rect x="220.67" y="343.33" width="6.52" height="5.45" fill="#510096"/>
<rect x="226.89" y="343.33" width="6.52" height="5.45" fill="#5a00b4"/>
<rect x="233.11" y="343.33" width="6.52" height="5.45" fill="#6301ce"/>
<rect x="239.33" y="343.33" width="6.52" height="5.45" fill="#7202f3"/>
<rect x="245.55" y="343.33" width="12.74" height="5.45" fill="#970bce"/>
<rect x="257.99" y="343.33" width="6.52" height="5.45" fill="#a11096"/>
<rect x="264.21" y="343.33" width="6.52" height="5.45" fill="#bd2a00"/>
<rect x="270.43" y="343.33" width="6.52" height="5.45" fill="#e48300"/>
<rect x="276.65" y="343.33" width="6.52" height="5.45" fill="#dd6c00"/>
<rect x="282.87" y="343.33" width="6.52" height="5.45" fill="#c63700"/>
<rect x="289.09" y="343.33" width="12.74" height="5.45" fill="#bd2a00"/>
<rect x="301.53" y="343.33" width="6.52" height="5.45" fill="#b42000"/>
<rect x="307.75" y="343.33" width="6.52" height="5.45" fill="#ab174f"/>
<rect x="313.97" y="343.33" width="6.52" height="5.45" fill="#a11096"/>
<rect x="320.19" y="343.33" width="12.74" height="5.45" fill="#bd2a00"/>
<rect x="332.63" y="343.33" width="6.52" height="5.45" fill="#b42000"/>
<rect x="338.85" y="343.33" width="6.52" height="5.45" fill="#ab174f"/>
<rect x="345.07" y="343.33" width="6.52" height="5.45" fill="#8004ff"/>
<rect x="351.29" y="343.33" width="6.52" height="5.45" fill="#7202f3"/>
<rect x="357.51" y="343.33" width="6.52" height="5.45" fill="#5a00b4"/>
<rect x="363.73" y="343.33" width="6.52" height="5.45" fill="#48007b"/>
<rect x="369.95" y="343.33" width="12.74" height="5.45" fill="#510096"/>
<rect x="382.39" y="343.33" width="6.52" height="5.45" fill="#5a00b4"/>
<rect x="388.61" y="343.33" width="25.18" height="5.45" fill="#6301ce"/>
<rect x="413.49" y="343.33" width="6.52" height="5.45" fill="#6b01e3"/>
<rect x="419.71" y="343.33" width="6.52" height="5.45" fill="#7202f3"/>
<rect x="425.93" y="343.33" width="6.52" height="5.45" fill="#6301ce"/>
<rect x="432.15" y="343.33" width="6.52" height="5.45" fill="#510096"/>
<rect x="438.37" y="343.33" width="6.52" height="5.45" fill="#5a00b4"/>
<rect x="444.59" y="343.33" width="12.74" height="5.45" fill="#6301ce"/>
<rect x="457.03" y="343.33" width="62.50" height="5.45" fill="#5a00b4"/>
<rect x="519.23" y="343.33" width="5.57" height="5.45" fill="#6301ce"/>
<rect x="74.50" y="348.48" width="3.41" height="5.45" fill="#6301ce"/>
<rect x="77.61" y="348.48" width="6.52" height="5.45" fill="#510096"/>
<rect x="83.83" y="348.48" width="6.52" height="5.45" fill="#6301ce"/>
<rect x="90.05" y="348.48" width="12.74" height="5.45" fill="#6b01e3"/>
<rect x="102.49" y="348.48" width="12.74" height="5.45" fill="#7202f3"/>
<rect x="114.93" y="348.48" width="6.52" height="5.45" fill="#8004ff"/>
<rect x="121.15" y="348.48" width="6.52" height="5.45" fill="#8c07f3"/>
<rect x="127.37" y="348.48" width="6.52" height="5.45" fill="#970bce"/>
<rect x="133.59" y="348.48" width="6.52" height="5.45" fill="#d55700"/>
<rect x="139.81" y="348.48" width="6.52" height="5.45" fill="#f2ba00"/>
<rect x="146.03" y="348.48" width="6.52" height="5.45" fill="#ab174f"/>
<rect x="152.25" y="348.48" width="6.52" height="5.45" fill="#8c07f3"/>
<rect x="158.47" y="348.48" width="6.52" height="5.45" fill="#8004ff"/>
<rect x="164.69" y="348.48" width="6.52" height="5.45" fill="#7202f3"/>
<rect x="170.91" y="348.48" width="6.52" height="5.45" fill="#6b01e3"/>
<rect x="177.13" y="348.48" width="6.52" height="5.45" fill="#6301ce"/>
<rect x="183.35" y="348.48" width="6.52" height="5.45" fill="#5a00b4"/>
<rect x="189.57" y="348.48" width="6.52" height="5.45" fill="#6301ce"/>
<rect x="195.79" y="348.48" width="25.18" height="5.45" fill="#5a00b4"/>
<rect x="220.67" y="348.48" width="6.52" height="5.45" fill="#510096"/>
<rect x="226.89" y="348.48" width="6.52" height="5.45" fill="#5a00b4"/>
<rect x="233.11" y="348.48" width="6.52" height="5.45" fill="#6301ce"/>
<rect x="239.33" y="348.48" width="6.52" height="5.45" fill="#6b01e3"/>
<rect x="245.55" y="348.48" width="6.52" height="5.45" fill="#8004ff"/>
<rect x="251.77" y="348.48" width="6.52" height="5.45" fill="#8c07f3"/>
<rect x="257.99" y="348.48" width="6.52" height="5.45" fill="#a11096"/>
<rect x="264.21" y="348.48" width="6.52" height="5.45" fill="#d55700"/>
<rect x="270.43" y="348.48" width="6.52" height="5.45" fill="#ce4600"/>
<rect x="276.65" y="348.48" width="6.52" height="5.45" fill="#c63700"/>
<rect x="282.87" y="348.48" width="6.52" height="5.45" fill="#bd2a00"/>
<rect x="289.09" y="348.48" width="6.52" height="5.45" fill="#ab174f"/>
<rect x="295.31" y="348.48" width="6.52" height="5.45" fill="#a11096"/>
<rect x="301.53" y="348.48" width="6.52" height="5.45" fill="#970bce"/>
<rect x="307.75" y="348.48" width="12.74" height="5.45" fill="#8c07f3"/>
<rect x="320.19" y="348.48" width="6.52" height="5.45" fill="#a11096"/>
<rect x="326.41" y="348.48" width="18.96" height="5.45" fill="#970bce"/>
<rect x="345.07" y="348.48" width="6.52" height="5.45" fill="#8004ff"/>
<rect x="351.29" y="348.48" width="6.52" height="5.45" fill="#7202f3"/>
<rect x="357.51" y="348.48" width="6.52" height="5.45" fill="#6301ce"/>
<rect x="363.73" y="348.48" width="6.52" height="5.45" fill="#5a00b4"/>
<rect x="369.95" y="348.48" width="12.74" height="5.45" fill="#6b01e3"/>
<rect x="382.39" y="348.48" width="18.96" height="5.45" fill="#7202f3"/>
<rect x="401.05" y="348.48" width="6.52" height="5.45" fill="#6301ce"/>
<rect x="407.27" y="348.48" width="6.52" height="5.45" fill="#5a00b4"/>
<rect x="413.49" y="348.48" width="6.52" height="5.45" fill="#6301ce"/>
<rect x="419.71" y="348.48" width="6.52" height="5.45" fill="#7202f3"/>
<rect x="425.93" y="348.48" width="12.74" height="5.45" fill="#6301ce"/>
<rect x="438.37" y="348.48" width="18.96" height="5.45" fill="#5a00b4"/>
<rect x="457.03" y="348.48" width="12.74" height="5.45" fill="#510096"/>
<rect x="469.47" y="348.48" width="25.18" height="5.45" fill="#5a00b4"/>
<rect x="494.35" y="348.48" width="6.52" height="5.45" fill="#510096"/>
<rect x="500.57" y="348.48" width="12.74" height="5.45" fill="#5a00b4"/>
<rect x="513.01" y="348.48" width="6.52" height="5.45" fill="#6301ce"/>
<rect x="519.23" y="348.48" width="5.57" height="5.45" fill="#6b01e3"/>
<rect x="74.50" y="353.62" width="3.41" height="5.45" fill="#6301ce"/>
<rect x="77.61" y="353.62" width="6.52" height="5.45" fill="#5a00b4"/>
<rect x="83.83" y="353.62" width="6.52" height="5.45" fill="#510096"/>
<rect x="90.05" y="353.62" width="6.52" height="5.45" fill="#5a00b4"/>
<rect x="96.27" y="353.62" width="6.52" height="5.45" fill="#6301ce"/>
<rect x="102.49" y="353.62" width="6.52" height="5.45" fill="#6b01e3"/>
<rect x="108.71" y="353.62" width="6.52" height="5.45" fill="#7202f3"/>
<rect x="114.93" y="353.62" width="6.52" height="5.45" fill="#8004ff"/>
<rect x="121.15" y="353.62" width="6.52" height="5.45" fill="#8c07f3"/>
<rect x="127.37" y="353.62" width="6.52" height="5.45" fill="#970bce"/>
<rect x="133.59" y="353.62" width="6.52" height="5.45" fill="#a11096"/>
<rect x="139.81" y="353.62" width="6.52" height="5.45" fill="#ffff00"/>
<rect x="146.03" y="353.62" width="6.52" height="5.45" fill="#970bce"/>
<rect x="152.25" y="353.62" width="6.52" height="5.45" fill="#8004ff"/>
<rect x="158.47" y="353.62" width="12.74" height="5.45" fill="#7202f3"/>
<rect x="170.91" y="353.62" width="6.52" height="5.45" fill="#6b01e3"/>
<rect x="177.13" y="353.62" width="6.52" height="5.45" fill="#6301ce"/>
<rect x="183.35" y="353.62" width="25.18" height="5.45" fill="#510096"/>
<rect x="208.23" y="353.62" width="25.18" height="5.45" fill="#5a00b4"/>
<rect x="233.11" y="353.62" width="12.74" height="5.45" fill="#6b01e3"/>
<rect x="245.55" y="353.62" width="6.52" height="5.45" fill="#7202f3"/>
<rect x="251.77" y="353.62" width="6.52" height="5.45" fill="#8004ff"/>
<rect x="257.99" y="353.62" width="6.52" height="5.45" fill="#ce4600"/>
<rect x="264.21" y="353.62" width="12.74" height="5.45" fill="#c63700"/>
<rect x="276.65" y="353.62" width="12.74" height="5.45" fill="#bd2a00"/>
<rect x="289.09" y="353.62" width="6.52" height="5.45" fill="#970bce"/>
<rect x="295.31" y="353.62" width="18.96" height="5.45" fill="#8004ff"/>
<rect x="313.97" y="353.62" width="18.96" height="5.45" fill="#8c07f3"/>
<rect x="332.63" y="353.62" width="12.74" height="5.45" fill="#8004ff"/>
<rect x="345.07" y="353.62" width="6.52" height="5.45" fill="#7202f3"/>
<rect x="351.29" y="353.62" width="6.52" height="5.45" fill="#6b01e3"/>
<rect x="357.51" y="353.62" width="12.74" height="5.45" fill="#6301ce"/>
<rect x="369.95" y="353.62" width="6.52" height="5.45" fill="#8004ff"/>
<rect x="376.17" y="353.62" width="6.52" height="5.45" fill="#7202f3"/>
<rect x="382.39" y="353.62" width="12.74" height="5.45" fill="#6b01e3"/>
<rect x="394.83" y="353.62" width="6.52" height="5.45" fill="#6301ce"/>
<rect x="401.05" y="353.62" width="12.74" height="5.45" fill="#510096"/>
<rect x="413.49" y="353.62" width="6.52" height="5.45" fill="#5a00b4"/>
<rect x="419.71" y="353.62" width="6.52" height="5.45" fill="#6301ce"/>
<rect x="425.93" y="353.62" width="12.74" height="5.45" fill="#6b01e3"/>
<rect x="438.37" y="353.62" width="6.52" height="5.45" fill="#6301ce"/>
<rect x="444.59" y="353.62" width="12.74" height="5.45" fill="#6b01e3"/>
<rect x="457.03" y="353.62" width="6.52" height="5.45" fill="#6301ce"/>
<rect x="463.25" y="353.62" width="6.52" height="5.45" fill="#6b01e3"/>
<rect x="469.47" y="353.62" width="12.74" height="5.45" fill="#6301ce"/>
<rect x="481.91" y="353.62" width="18.96" height="5.45" fill="#5a00b4"/>
<rect x="500.57" y="353.62" width="6.52" height="5.45" fill="#6301ce"/>
<rect x="506.79" y="353.62" width="6.52" height="5.45" fill="#6b01e3"/>
<rect x="513.01" y="353.62" width="6.52" height="5.45" fill="#7202f3"/>
<rect x="519.23" y="353.62" width="5.57" height="5.45" fill="#8004ff"/>
<rect x="74.50" y="358.78" width="9.63" height="5.45" fill="#6b01e3"/>
<rect x="83.83" y="358.78" width="6.52" height="5.45" fill="#6301ce"/>
<rect x="90.05" y="358.78" width="6.52" height="5.45" fill="#5a00b4"/>
<rect x="96.27" y="358.78" width="6.52" height="5.45" fill="#510096"/>
<rect x="102.49" y="358.78" width="6.52" height="5.45" fill="#6301ce"/>
<rect x="108.71" y="358.78" width="6.52" height="5.45" fill="#7202f3"/>
<rect x="114.93" y="358.78" width="6.52" height="5.45" fill="#8004ff"/>
<rect x="121.15" y="358.78" width="6.52" height="5.45" fill="#970bce"/>
<rect x="127.37" y="358.78" width="6.52" height="5.45" fill="#a11096"/>
<rect x="133.59" y="358.78" width="12.74" height="5.45" fill="#ab174f"/>
<rect x="146.03" y="358.78" width="6.52" height="5.45" fill="#970bce"/>
<rect x="152.25" y="358.78" width="6.52" height="5.45" fill="#8004ff"/>
<rect x="158.47" y="358.78" width="6.52" height="5.45" fill="#7202f3"/>
<rect x="164.69" y="358.78" width="6.52" height="5.45" fill="#6b01e3"/>
<rect x="170.91" y="358.78" width="12.74" height="5.45" fill="#6301ce"/>
<rect x="183.35" y="358.78" width="6.52" height="5.45" fill="#48007b"/>
<rect x="189.57" y="358.78" width="12.74" height="5.45" fill="#510096"/>
<rect x="202.01" y="358.78" width="12.74" height="5.45" fill="#5a00b4"/>
<rect x="214.45" y="358.78" width="6.52" height="5.45" fill="#510096"/>
<rect x="220.67" y="358.78" width="12.74" height="5.45" fill="#5a00b4"/>
<rect x="233.11" y="358.78" width="12.74" height="5.45" fill="#6301ce"/>
<rect x="245.55" y="358.78" width="6.52" height="5.45" fill="#6b01e3"/>
<rect x="251.77" y="358.78" width="6.52" height="5.45" fill="#8004ff"/>
<rect x="257.99" y="358.78" width="12.74" height="5.45" fill="#bd2a00"/>
<rect x="270.43" y="358.78" width="6.52" height="5.45" fill="#b42000"/>
<rect x="276.65" y="358.78" width="6.52" height="5.45" fill="#ab174f"/>
<rect x="282.87" y="358.78" width="6.52" height="5.45" fill="#a11096"/>
<rect x="289.09" y="358.78" width="6.52" height="5.45" fill="#8004ff"/>
<rect x="295.31" y="358.78" width="18.96" height="5.45" fill="#7202f3"/>
<rect x="313.97" y="358.78" width="12.74" height="5.45" fill="#8004ff"/>
<rect x="326.41" y="358.78" width="12.74" height="5.45" fill="#7202f3"/>
<rect x="338.85" y="358.78" width="6.52" height="5.45" fill="#5a00b4"/>
<rect x="345.07" y="358.78" width="6.52" height="5.45" fill="#510096"/>
<rect x="351.29" y="358.78" width="6.52" height="5.45" fill="#5a00b4"/>
<rect x="357.51" y="358.78" width="12.74" height="5.45" fill="#6301ce"/>
<rect x="369.95" y="358.78" width="6.52" height="5.45" fill="#7202f3"/>
<rect x="376.17" y="358.78" width="6.52" height="5.45" fill="#6301ce"/>
<rect x="382.39" y="358.78" width="18.96" height="5.45" fill="#5a00b4"/>
<rect x="401.05" y="358.78" width="12.74" height="5.45" fill="#510096"/>
<rect x="413.49" y="358.78" width="12.74" height="5.45" fill="#5a00b4"/>
<rect x="425.93" y="358.78" width="6.52" height="5.45" fill="#6301ce"/>
<rect x="432.15" y="358.78" width="12.74" height="5.45" fill="#6b01e3"/>
<rect x="444.59" y="358.78" width="12.74" height="5.45" fill="#7202f3"/>
<rect x="457.03" y="358.78" width="12.74" height="5.45" fill="#6b01e3"/>
<rect x="469.47" y="358.78" width="12.74" height="5.45" fill="#5a00b4"/>
<rect x="481.91" y="358.78" width="12.74" height="5.45" fill="#6301ce"/>
<rect x="494.35" y="358.78" width="6.52" height="5.45" fill="#5a00b4"/>
<rect x="500.57" y="358.78" width="6.52" height="5.45" fill="#6b01e3"/>
<rect x="506.79" y="358.78" width="6.52" height="5.45" fill="#7202f3"/>
<rect x="513.01" y="358.78" width="6.52" height="5.45" fill="#8004ff"/>
<rect x="519.23" y="358.78" width="5.57" height="5.45" fill="#a11096"/>
<rect x="74.50" y="363.93" width="9.63" height="5.45" fill="#7202f3"/>
<rect x="83.83" y="363.93" width="12.74" height="5.45" fill="#6b01e3"/>
<rect x="96.27" y="363.93" width="6.52" height="5.45" fill="#7202f3"/>
<rect x="102.49" y="363.93" width="6.52" height="5.45" fill="#8004ff"/>
<rect x="108.71" y="363.93" width="6.52" height="5.45" fill="#8c07f3"/>
<rect x="114.93" y="363.93" width="12.74" height="5.45" fill="#970bce"/>
<rect x="127.37" y="363.93" width="6.52" height="5.45" fill="#a11096"/>
<rect x="133.59" y="363.93" width="6.52" height="5.45" fill="#ab174f"/>
<rect x="139.81" y="363.93" width="6.52" height="5.45" fill="#970bce"/>
<rect x="146.03" y="363.93" width="6.52" height="5.45" fill="#8c07f3"/>
<rect x="152.25" y="363.93" width="6.52" height="5.45" fill="#8004ff"/>
<rect x="158.47" y="363.93" width="6.52" height="5.45" fill="#7202f3"/>
<rect x="164.69" y="363.93" width="6.52" height="5.45" fill="#6b01e3"/>
<rect x="170.91" y="363.93" width="6.52" height="5.45" fill="#6301ce"/>
<rect x="177.13" y="363.93" width="12.74" height="5.45" fill="#510096"/>
<rect x="189.57" y="363.93" width="18.96" height="5.45" fill="#5a00b4"/>
<rect x="208.23" y="363.93" width="12.74" height="5.45" fill="#510096"/>
<rect x="220.67" y="363.93" width="6.52" height="5.45" fill="#48007b"/>
<rect x="226.89" y="363.93" width="18.96" height="5.45" fill="#510096"/>
<rect x="245.55" y="363.93" width="6.52" height="5.45" fill="#6301ce"/>
<rect x="251.77" y="363.93" width="6.52" height="5.45" fill="#7202f3"/>
<rect x="257.99" y="363.93" width="12.74" height="5.45" fill="#ab174f"/>
<rect x="270.43" y="363.93" width="6.52" height="5.45" fill="#970bce"/>
<rect x="276.65" y="363.93" width="6.52" height="5.45" fill="#8c07f3"/>
<rect x="282.87" y="363.93" width="6.52" height="5.45" fill="#8004ff"/>
<rect x="289.09" y="363.93" width="6.52" height="5.45" fill="#7202f3"/>
<rect x="295.31" y="363.93" width="25.18" height="5.45" fill="#6b01e3"/>
<rect x="320.19" y="363.93" width="12.74" height="5.45" fill="#5a00b4"/>
<rect x="332.63" y="363.93" width="6.52" height="5.45" fill="#6b01e3"/>
<rect x="338.85" y="363.93" width="25.18" height="5.45" fill="#5a00b4"/>
<rect x="363.73" y="363.93" width="18.96" height="5.45" fill="#6301ce"/>
<rect x="382.39" y="363.93" width="12.74" height="5.45" fill="#5a00b4"/>
<rect x="394.83" y="363.93" width="12.74" height="5.45" fill="#510096"/>
<rect x="407.27" y="363.93" width="12.74" height="5.45" fill="#5a00b4"/>
<rect x="419.71" y="363.93" width="12.74" height="5.45" fill="#510096"/>
<rect x="432.15" y="363.93" width="25.18" height="5.45" fill="#5a00b4"/>
<rect x="457.03" y="363.93" width="18.96" height="5.45" fill="#6301ce"/>
<rect x="475.69" y="363.93" width="25.18" height="5.45" fill="#5a00b4"/>
<rect x="500.57" y="363.93" width="12.74" height="5.45" fill="#6301ce"/>
<rect x="513.01" y="363.93" width="6.52" height="5.45" fill="#7202f3"/>
<rect x="519.23" y="363.93" width="5.57" height="5.45" fill="#8c07f3"/>
<rect x="74.50" y="369.08" width="3.41" height="5.45" fill="#8004ff"/>
<rect x="77.61" y="369.08" width="12.74" height="5.45" fill="#7202f3"/>
<rect x="90.05" y="369.08" width="6.52" height="5.45" fill="#8004ff"/>
<rect x="96.27" y="369.08" width="12.74" height="5.45" fill="#8c07f3"/>
<rect x="108.71" y="369.08" width="12.74" height="5.45" fill="#970bce"/>
<rect x="121.15" y="369.08" width="12.74" height="5.45" fill="#a11096"/>
<rect x="133.59" y="369.08" width="6.52" height="5.45" fill="#b42000"/>
<rect x="139.81" y="369.08" width="6.52" height="5.45" fill="#970bce"/>
<rect x="146.03" y="369.08" width="6.52" height="5.45" fill="#8c07f3"/>
<rect x="152.25" y="369.08" width="12.74" height="5.45" fill="#8004ff"/>
<rect x="164.69" y="369.08" width="12.74" height="5.45" fill="#7202f3"/>
<rect x="177.13" y="369.08" width="18.96" height="5.45" fill="#6b01e3"/>
<rect x="195.79" y="369.08" width="6.52" height="5.45" fill="#6301ce"/>
<rect x="202.01" y="369.08" width="18.96" height="5.45" fill="#5a00b4"/>
<rect x="220.67" y="369.08" width="18.96" height="5.45" fill="#510096"/>
<rect x="239.33" y="369.08" width="6.52" height="5.45" fill="#5a00b4"/>
<rect x="245.55" y="369.08" width="6.52" height="5.45" fill="#6301ce"/>
<rect x="251.77" y="369.08" width="6.52" height="5.45" fill="#7202f3"/>
<rect x="257.99" y="369.08" width="12.74" height="5.45" fill="#8c07f3"/>
<rect x="270.43" y="369.08" width="6.52" height="5.45" fill="#7202f3"/>
<rect x="276.65" y="369.08" width="6.52" height="5.45" fill="#6b01e3"/>
<rect x="282.87" y="369.08" width="6.52" height="5.45" fill="#6301ce"/>
<rect x="289.09" y="369.08" width="6.52" height="5.45" fill="#5a00b4"/>
<rect x="295.31" y="369.08" width="12.74" height="5.45" fill="#6301ce"/>
<rect x="307.75" y="369.08" width="6.52" height="5.45" fill="#5a00b4"/>
<rect x="313.97" y="369.08" width="6.52" height="5.45" fill="#510096"/>
<rect x="320.19" y="369.08" width="6.52" height="5.45" fill="#5a00b4"/>
<rect x="326.41" y="369.08" width="25.18" height="5.45" fill="#6301ce"/>
<rect x="351.29" y="369.08" width="6.52" height="5.45" fill="#5a00b4"/>
<rect x="357.51" y="369.08" width="6.52" height="5.45" fill="#510096"/>
<rect x="363.73" y="369.08" width="12.74" height="5.45" fill="#5a00b4"/>
<rect x="376.17" y="369.08" width="6.52" height="5.45" fill="#6b01e3"/>
<rect x="382.39" y="369.08" width="6.52" height="5.45" fill="#6301ce"/>
<rect x="388.61" y="369.08" width="6.52" height="5.45" fill="#5a00b4"/>
<rect x="394.83" y="369.08" width="12.74" height="5.45" fill="#510096"/>
<rect x="407.27" y="369.08" width="18.96" height="5.45" fill="#5a00b4"/>
<rect x="425.93" y="369.08" width="6.52" height="5.45" fill="#510096"/>
<rect x="432.15" y="369.08" width="25.18" height="5.45" fill="#5a00b4"/>
<rect x="457.03" y="369.08" width="18.96" height="5.45" fill="#510096"/>
<rect x="475.69" y="369.08" width="6.52" height="5.45" fill="#5a00b4"/>
<rect x="481.91" y="369.08" width="18.96" height="5.45" fill="#6301ce"/>
<rect x="500.57" y="369.08" width="6.52" height="5.45" fill="#5a00b4"/>
<rect x="506.79" y="369.08" width="6.52" height="5.45" fill="#6301ce"/>
<rect x="513.01" y="369.08" width="6.52" height="5.45" fill="#7202f3"/>
<rect x="519.23" y="369.08" width="5.57" height="5.45" fill="#8004ff"/>
<rect x="74.50" y="374.23" width="22.07" height="5.45" fill="#8004ff"/>
<rect x="96.27" y="374.23" width="25.18" height="5.45" fill="#970bce"/>
<rect x="121.15" y="374.23" width="12.74" height="5.45" fill="#a11096"/>
<rect x="133.59" y="374.23" width="6.52" height="5.45" fill="#ab174f"/>
<rect x="139.81" y="374.23" width="6.52" height="5.45" fill="#970bce"/>
<rect x="146.03" y="374.23" width="6.52" height="5.45" fill="#8c07f3"/>
<rect x="152.25" y="374.23" width="12.74" height="5.45" fill="#8004ff"/>
<rect x="164.69" y="374.23" width="12.74" height="5.45" fill="#7202f3"/>
<rect x="177.13" y="374.23" width="6.52" height="5.45" fill="#6b01e3"/>
<rect x="183.35" y="374.23" width="6.52" height="5.45" fill="#6301ce"/>
<rect x="189.57" y="374.23" width="6.52" height="5.45" fill="#5a00b4"/>
<rect x="195.79" y="374.23" width="12.74" height="5.45" fill="#48007b"/>
<rect x="208.23" y="374.23" width="6.52" height="5.45" fill="#5a00b4"/>
<rect x="214.45" y="374.23" width="6.52" height="5.45" fill="#6301ce"/>
<rect x="220.67" y="374.23" width="12.74" height="5.45" fill="#5a00b4"/>
<rect x="233.11" y="374.23" width="6.52" height="5.45" fill="#510096"/>
<rect x="239.33" y="374.23" width="6.52" height="5.45" fill="#5a00b4"/>
<rect x="245.55" y="374.23" width="6.52" height="5.45" fill="#6301ce"/>
<rect x="251.77" y="374.23" width="6.52" height="5.45" fill="#6b01e3"/>
<rect x="257.99" y="374.23" width="6.52" height="5.45" fill="#7202f3"/>
<rect x="264.21" y="374.23" width="6.52" height="5.45" fill="#6b01e3"/>
<rect x="270.43" y="374.23" width="6.52" height="5.45" fill="#5a00b4"/>
<rect x="276.65" y="374.23" width="6.52" height="5.45" fill="#510096"/>
<rect x="282.87" y="374.23" width="12.74" height="5.45" fill="#48007b"/>
<rect x="295.31" y="374.23" width="31.40" height="5.45" fill="#510096"/>
<rect x="326.41" y="374.23" width="6.52" height="5.45" fill="#48007b"/>
<rect x="332.63" y="374.23" width="43.84" height="5.45" fill="#510096"/>
<rect x="376.17" y="374.23" width="12.74" height="5.45" fill="#5a00b4"/>
<rect x="388.61" y="374.23" width="37.62" height="5.45" fill="#510096"/>
<rect x="425.93" y="374.23" width="6.52" height="5.45" fill="#5a00b4"/>
<rect x="432.15" y="374.23" width="6.52" height="5.45" fill="#510096"/>
<rect x="438.37" y="374.23" width="6.52" height="5.45" fill="#5a00b4"/>
<rect x="444.59" y="374.23" width="43.84" height="5.45" fill="#6301ce"/>
<rect x="488.13" y="374.23" width="12.74" height="5.45" fill="#5a00b4"/>
<rect x="500.57" y="374.23" width="12.74" height="5.45" fill="#6b01e3"/>
<rect x="513.01" y="374.23" width="6.52" height="5.45" fill="#7202f3"/>
<rect x="519.23" y="374.23" width="5.57" height="5.45" fill="#8004ff"/>
<rect x="74.50" y="379.38" width="15.85" height="5.45" fill="#8004ff"/>
<rect x="90.05" y="379.38" width="6.52" height="5.45" fill="#8c07f3"/>
<rect x="96.27" y="379.38" width="25.18" height="5.45" fill="#970bce"/>
<rect x="121.15" y="379.38" width="18.96" height="5.45" fill="#a11096"/>
<rect x="139.81" y="379.38" width="6.52" height="5.45" fill="#970bce"/>
<rect x="146.03" y="379.38" width="6.52" height="5.45" fill="#8c07f3"/>
<rect x="152.25" y="379.38" width="12.74" height="5.45" fill="#8004ff"/>
<rect x="164.69" y="379.38" width="6.52" height="5.45" fill="#7202f3"/>
<rect x="170.91" y="379.38" width="6.52" height="5.45" fill="#6b01e3"/>
<rect x="177.13" y="379.38" width="6.52" height="5.45" fill="#5a00b4"/>
<rect x="183.35" y="379.38" width="6.52" height="5.45" fill="#48007b"/>
<rect x="189.57" y="379.38" width="6.52" height="5.45" fill="#510096"/>
<rect x="195.79" y="379.38" width="12.74" height="5.45" fill="#6301ce"/>
<rect x="208.23" y="379.38" width="12.74" height="5.45" fill="#6b01e3"/>
<rect x="220.67" y="379.38" width="12.74" height="5.45" fill="#6301ce"/>
<rect x="233.11" y="379.38" width="6.52" height="5.45" fill="#5a00b4"/>
<rect x="239.33" y="379.38" width="12.74" height="5.45" fill="#510096"/>
<rect x="251.77" y="379.38" width="12.74" height="5.45" fill="#5a00b4"/>
<rect x="264.21" y="379.38" width="6.52" height="5.45" fill="#510096"/>
<rect x="270.43" y="379.38" width="6.52" height="5.45" fill="#48007b"/>
<rect x="276.65" y="379.38" width="12.74" height="5.45" fill="#510096"/>
<rect x="289.09" y="379.38" width="37.62" height="5.45" fill="#5a00b4"/>
<rect x="326.41" y="379.38" width="6.52" height="5.45" fill="#6301ce"/>
<rect x="332.63" y="379.38" width="50.06" height="5.45" fill="#510096"/>
<rect x="382.39" y="379.38" width="25.18" height="5.45" fill="#5a00b4"/>
<rect x="407.27" y="379.38" width="25.18" height="5.45" fill="#510096"/>
<rect x="432.15" y="379.38" width="6.52" height="5.45" fill="#6301ce"/>
<rect x="438.37" y="379.38" width="12.74" height="5.45" fill="#5a00b4"/>
<rect x="450.81" y="379.38" width="12.74" height="5.45" fill="#510096"/>
<rect x="463.25" y="379.38" width="6.52" height="5.45" fill="#6301ce"/>
<rect x="469.47" y="379.38" width="18.96" height="5.45" fill="#6b01e3"/>
<rect x="488.13" y="379.38" width="12.74" height="5.45" fill="#6301ce"/>
<rect x="500.57" y="379.38" width="18.96" height="5.45" fill="#6b01e3"/>
<rect x="519.23" y="379.38" width="5.57" height="5.45" fill="#7202f3"/>
<rect x="74.50" y="384.53" width="15.85" height="5.45" fill="#7202f3"/>
<rect x="90.05" y="384.53" width="6.52" height="5.45" fill="#8004ff"/>
<rect x="96.27" y="384.53" width="12.74" height="5.45" fill="#8c07f3"/>
<rect x="108.71" y="384.53" width="37.62" height="5.45" fill="#970bce"/>
<rect x="146.03" y="384.53" width="6.52" height="5.45" fill="#8c07f3"/>
<rect x="152.25" y="384.53" width="18.96" height="5.45" fill="#8004ff"/>
<rect x="170.91" y="384.53" width="43.84" height="5.45" fill="#7202f3"/>
<rect x="214.45" y="384.53" width="25.18" height="5.45" fill="#6b01e3"/>
<rect x="239.33" y="384.53" width="6.52" height="5.45" fill="#6301ce"/>
<rect x="245.55" y="384.53" width="6.52" height="5.45" fill="#5a00b4"/>
<rect x="251.77" y="384.53" width="12.74" height="5.45" fill="#510096"/>
<rect x="264.21" y="384.53" width="12.74" height="5.45" fill="#5a00b4"/>
<rect x="276.65" y="384.53" width="12.74" height="5.45" fill="#6b01e3"/>
<rect x="289.09" y="384.53" width="6.52" height="5.45" fill="#7202f3"/>
<rect x="295.31" y="384.53" width="6.52" height="5.45" fill="#6301ce"/>
<rect x="301.53" y="384.53" width="18.96" height="5.45" fill="#5a00b4"/>
<rect x="320.19" y="384.53" width="6.52" height="5.45" fill="#6b01e3"/>
<rect x="326.41" y="384.53" width="12.74" height="5.45" fill="#5a00b4"/>
<rect x="338.85" y="384.53" width="25.18" height="5.45" fill="#6b01e3"/>
<rect x="363.73" y="384.53" width="6.52" height="5.45" fill="#6301ce"/>
<rect x="369.95" y="384.53" width="6.52" height="5.45" fill="#5a00b4"/>
<rect x="376.17" y="384.53" width="12.74" height="5.45" fill="#510096"/>
<rect x="388.61" y="384.53" width="12.74" height="5.45" fill="#5a00b4"/>
<rect x="401.05" y="384.53" width="12.74" height="5.45" fill="#510096"/>
<rect x="413.49" y="384.53" width="12.74" height="5.45" fill="#5a00b4"/>
<rect x="425.93" y="384.53" width="6.52" height="5.45" fill="#6301ce"/>
<rect x="432.15" y="384.53" width="6.52" height="5.45" fill="#6b01e3"/>
<rect x="438.37" y="384.53" width="12.74" height="5.45" fill="#5a00b4"/>
<rect x="450.81" y="384.53" width="25.18" height="5.45" fill="#6301ce"/>
<rect x="475.69" y="384.53" width="12.74" height="5.45" fill="#6b01e3"/>
<rect x="488.13" y="384.53" width="18.96" height="5.45" fill="#6301ce"/>
<rect x="506.79" y="384.53" width="6.52" height="5.45" fill="#5a00b4"/>
<rect x="513.01" y="384.53" width="6.52" height="5.45" fill="#6301ce"/>
<rect x="519.23" y="384.53" width="5.57" height="5.45" fill="#6b01e3"/>
<rect x="74.50" y="389.68" width="3.41" height="5.45" fill="#6b01e3"/>
<rect x="77.61" y="389.68" width="12.74" height="5.45" fill="#5a00b4"/>
<rect x="90.05" y="389.68" width="6.52" height="5.45" fill="#6b01e3"/>
<rect x="96.27" y="389.68" width="6.52" height="5.45" fill="#7202f3"/>
<rect x="102.49" y="389.68" width="12.74" height="5.45" fill="#8004ff"/>
<rect x="114.93" y="389.68" width="31.40" height="5.45" fill="#8c07f3"/>
<rect x="146.03" y="389.68" width="6.52" height="5.45" fill="#970bce"/>
<rect x="152.25" y="389.68" width="12.74" height="5.45" fill="#8c07f3"/>
<rect x="164.69" y="389.68" width="12.74" height="5.45" fill="#8004ff"/>
<rect x="177.13" y="389.68" width="18.96" height="5.45" fill="#8c07f3"/>
<rect x="195.79" y="389.68" width="6.52" height="5.45" fill="#970bce"/>
<rect x="202.01" y="389.68" width="6.52" height="5.45" fill="#a11096"/>
<rect x="208.23" y="389.68" width="6.52" height="5.45" fill="#ab174f"/>
<rect x="214.45" y="389.68" width="6.52" height="5.45" fill="#8004ff"/>
<rect x="220.67" y="389.68" width="37.62" height="5.45" fill="#6b01e3"/>
<rect x="257.99" y="389.68" width="6.52" height="5.45" fill="#7202f3"/>
<rect x="264.21" y="389.68" width="12.74" height="5.45" fill="#8004ff"/>
<rect x="276.65" y="389.68" width="18.96" height="5.45" fill="#8c07f3"/>
<rect x="295.31" y="389.68" width="6.52" height="5.45" fill="#6301ce"/>
<rect x="301.53" y="389.68" width="6.52" height="5.45" fill="#5a00b4"/>
<rect x="307.75" y="389.68" width="6.52" height="5.45" fill="#510096"/>
<rect x="313.97" y="389.68" width="6.52" height="5.45" fill="#5a00b4"/>
<rect x="320.19" y="389.68" width="6.52" height="5.45" fill="#6301ce"/>
<rect x="326.41" y="389.68" width="6.52" height="5.45" fill="#5a00b4"/>
<rect x="332.63" y="389.68" width="6.52" height="5.45" fill="#6b01e3"/>
<rect x="338.85" y="389.68" width="6.52" height="5.45" fill="#7202f3"/>
<rect x="345.07" y="389.68" width="6.52" height="5.45" fill="#8c07f3"/>
<rect x="351.29" y="389.68" width="6.52" height="5.45" fill="#8004ff"/>
<rect x="357.51" y="389.68" width="6.52" height="5.45" fill="#7202f3"/>
<rect x="363.73" y="389.68" width="12.74" height="5.45" fill="#5a00b4"/>
<rect x="376.17" y="389.68" width="12.74" height="5.45" fill="#510096"/>
<rect x="388.61" y="389.68" width="25.18" height="5.45" fill="#5a00b4"/>
<rect x="413.49" y="389.68" width="6.52" height="5.45" fill="#6301ce"/>
<rect x="419.71" y="389.68" width="6.52" height="5.45" fill="#7202f3"/>
<rect x="425.93" y="389.68" width="6.52" height="5.45" fill="#6301ce"/>
<rect x="432.15" y="389.68" width="6.52" height="5.45" fill="#5a00b4"/>
<rect x="438.37" y="389.68" width="6.52" height="5.45" fill="#48007b"/>
<rect x="444.59" y="389.68" width="12.74" height="5.45" fill="#5a00b4"/>
<rect x="457.03" y="389.68" width="6.52" height="5.45" fill="#510096"/>
<rect x="463.25" y="389.68" width="31.40" height="5.45" fill="#5a00b4"/>
<rect x="494.35" y="389.68" width="6.52" height="5.45" fill="#510096"/>
<rect x="500.57" y="389.68" width="12.74" height="5.45" fill="#5a00b4"/>
<rect x="513.01" y="389.68" width="6.52" height="5.45" fill="#6301ce"/>
<rect x="519.23" y="389.68" width="5.57" height="5.45" fill="#6b01e3"/>
<rect x="74.50" y="394.83" width="3.41" height="5.45" fill="#6301ce"/>
<rect x="77.61" y="394.83" width="6.52" height="5.45" fill="#510096"/>
<rect x="83.83" y="394.83" width="6.52" height="5.45" fill="#5a00b4"/>
<rect x="90.05" y="394.83" width="6.52" height="5.45" fill="#6301ce"/>
<rect x="96.27" y="394.83" width="6.52" height="5.45" fill="#6b01e3"/>
<rect x="102.49" y="394.83" width="12.74" height="5.45" fill="#7202f3"/>
<rect x="114.93" y="394.83" width="12.74" height="5.45" fill="#8004ff"/>
<rect x="127.37" y="394.83" width="18.96" height="5.45" fill="#8c07f3"/>
<rect x="146.03" y="394.83" width="12.74" height="5.45" fill="#a11096"/>
<rect x="158.47" y="394.83" width="18.96" height="5.45" fill="#970bce"/>
<rect x="177.13" y="394.83" width="18.96" height="5.45" fill="#a11096"/>
<rect x="195.79" y="394.83" width="6.52" height="5.45" fill="#b42000"/>
<rect x="202.01" y="394.83" width="12.74" height="5.45" fill="#bd2a00"/>
<rect x="214.45" y="394.83" width="6.52" height="5.45" fill="#8004ff"/>
<rect x="220.67" y="394.83" width="6.52" height="5.45" fill="#6301ce"/>
<rect x="226.89" y="394.83" width="12.74" height="5.45" fill="#5a00b4"/>
<rect x="239.33" y="394.83" width="6.52" height="5.45" fill="#6301ce"/>
<rect x="245.55" y="394.83" width="6.52" height="5.45" fill="#7202f3"/>
<rect x="251.77" y="394.83" width="6.52" height="5.45" fill="#8004ff"/>
<rect x="257.99" y="394.83" width="6.52" height="5.45" fill="#8c07f3"/>
<rect x="264.21" y="394.83" width="12.74" height="5.45" fill="#970bce"/>
<rect x="276.65" y="394.83" width="12.74" height="5.45" fill="#a11096"/>
<rect x="289.09" y="394.83" width="6.52" height="5.45" fill="#970bce"/>
<rect x="295.31" y="394.83" width="6.52" height="5.45" fill="#6301ce"/>
<rect x="301.53" y="394.83" width="12.74" height="5.45" fill="#5a00b4"/>
<rect x="313.97" y="394.83" width="18.96" height="5.45" fill="#510096"/>
<rect x="332.63" y="394.83" width="6.52" height="5.45" fill="#6301ce"/>
<rect x="338.85" y="394.83" width="6.52" height="5.45" fill="#7202f3"/>
<rect x="345.07" y="394.83" width="6.52" height="5.45" fill="#8004ff"/>
<rect x="351.29" y="394.83" width="6.52" height="5.45" fill="#a11096"/>
<rect x="357.51" y="394.83" width="12.74" height="5.45" fill="#7202f3"/>
<rect x="369.95" y="394.83" width="6.52" height="5.45" fill="#6b01e3"/>
<rect x="376.17" y="394.83" width="6.52" height="5.45" fill="#6301ce"/>
<rect x="382.39" y="394.83" width="25.18" height="5.45" fill="#5a00b4"/>
<rect x="407.27" y="394.83" width="6.52" height="5.45" fill="#48007b"/>
<rect x="413.49" y="394.83" width="6.52" height="5.45" fill="#5a00b4"/>
<rect x="419.71" y="394.83" width="6.52" height="5.45" fill="#6b01e3"/>
<rect x="425.93" y="394.83" width="6.52" height="5.45" fill="#6301ce"/>
<rect x="432.15" y="394.83" width="12.74" height="5.45" fill="#5a00b4"/>
<rect x="444.59" y="394.83" width="6.52" height="5.45" fill="#510096"/>
<rect x="450.81" y="394.83" width="6.52" height="5.45" fill="#5a00b4"/>
<rect x="457.03" y="394.83" width="6.52" height="5.45" fill="#6301ce"/>
<rect x="463.25" y="394.83" width="6.52" height="5.45" fill="#6b01e3"/>
<rect x="469.47" y="394.83" width="25.18" height="5.45" fill="#6301ce"/>
<rect x="494.35" y="394.83" width="6.52" height="5.45" fill="#6b01e3"/>
<rect x="500.57" y="394.83" width="12.74" height="5.45" fill="#6301ce"/>
<rect x="513.01" y="394.83" width="6.52" height="5.45" fill="#6b01e3"/>
<rect x="519.23" y="394.83" width="5.57" height="5.45" fill="#7202f3"/>
<rect x="74.50" y="399.98" width="3.41" height="5.45" fill="#6301ce"/>
<rect x="77.61" y="399.98" width="6.52" height="5.45" fill="#510096"/>
<rect x="83.83" y="399.98" width="6.52" height="5.45" fill="#48007b"/>
<rect x="90.05" y="399.98" width="18.96" height="5.45" fill="#510096"/>
<rect x="108.71" y="399.98" width="6.52" height="5.45" fill="#6301ce"/>
<rect x="114.93" y="399.98" width="6.52" height="5.45" fill="#7202f3"/>
<rect x="121.15" y="399.98" width="6.52" height="5.45" fill="#8004ff"/>
<rect x="127.37" y="399.98" width="6.52" height="5.45" fill="#8c07f3"/>
<rect x="133.59" y="399.98" width="18.96" height="5.45" fill="#970bce"/>
<rect x="152.25" y="399.98" width="12.74" height="5.45" fill="#ab174f"/>
<rect x="164.69" y="399.98" width="12.74" height="5.45" fill="#b42000"/>
<rect x="177.13" y="399.98" width="25.18" height="5.45" fill="#bd2a00"/>
<rect x="202.01" y="399.98" width="6.52" height="5.45" fill="#c63700"/>
<rect x="208.23" y="399.98" width="6.52" height="5.45" fill="#8c07f3"/>
<rect x="214.45" y="399.98" width="6.52" height="5.45" fill="#8004ff"/>
<rect x="220.67" y="399.98" width="6.52" height="5.45" fill="#6b01e3"/>
<rect x="226.89" y="399.98" width="6.52" height="5.45" fill="#6301ce"/>
<rect x="233.11" y="399.98" width="6.52" height="5.45" fill="#5a00b4"/>
<rect x="239.33" y="399.98" width="6.52" height="5.45" fill="#6301ce"/>
<rect x="245.55" y="399.98" width="6.52" height="5.45" fill="#7202f3"/>
<rect x="251.77" y="399.98" width="6.52" height="5.45" fill="#8004ff"/>
<rect x="257.99" y="399.98" width="6.52" height="5.45" fill="#970bce"/>
<rect x="264.21" y="399.98" width="6.52" height="5.45" fill="#a11096"/>
<rect x="270.43" y="399.98" width="6.52" height="5.45" fill="#ab174f"/>
<rect x="276.65" y="399.98" width="12.74" height="5.45" fill="#b42000"/>
<rect x="289.09" y="399.98" width="6.52" height="5.45" fill="#970bce"/>
<rect x="295.31" y="399.98" width="6.52" height="5.45" fill="#8004ff"/>
<rect x="301.53" y="399.98" width="6.52" height="5.45" fill="#7202f3"/>
<rect x="307.75" y="399.98" width="6.52" height="5.45" fill="#6b01e3"/>
<rect x="313.97" y="399.98" width="18.96" height="5.45" fill="#6301ce"/>
<rect x="332.63" y="399.98" width="6.52" height="5.45" fill="#7202f3"/>
<rect x="338.85" y="399.98" width="6.52" height="5.45" fill="#8004ff"/>
<rect x="345.07" y="399.98" width="6.52" height="5.45" fill="#8c07f3"/>
<rect x="351.29" y="399.98" width="6.52" height="5.45" fill="#a11096"/>
<rect x="357.51" y="399.98" width="12.74" height="5.45" fill="#8c07f3"/>
<rect x="369.95" y="399.98" width="6.52" height="5.45" fill="#6b01e3"/>
<rect x="376.17" y="399.98" width="6.52" height="5.45" fill="#6301ce"/>
<rect x="382.39" y="399.98" width="6.52" height="5.45" fill="#5a00b4"/>
<rect x="388.61" y="399.98" width="6.52" height="5.45" fill="#510096"/>
<rect x="394.83" y="399.98" width="6.52" height="5.45" fill="#5a00b4"/>
<rect x="401.05" y="399.98" width="6.52" height="5.45" fill="#6301ce"/>
<rect x="407.27" y="399.98" width="6.52" height="5.45" fill="#6b01e3"/>
<rect x="413.49" y="399.98" width="6.52" height="5.45" fill="#7202f3"/>
<rect x="419.71" y="399.98" width="6.52" height="5.45" fill="#6b01e3"/>
<rect x="425.93" y="399.98" width="12.74" height="5.45" fill="#5a00b4"/>
<rect x="438.37" y="399.98" width="6.52" height="5.45" fill="#6301ce"/>
<rect x="444.59" y="399.98" width="12.74" height="5.45" fill="#7202f3"/>
<rect x="457.03" y="399.98" width="62.50" height="5.45" fill="#8004ff"/>
<rect x="519.23" y="399.98" width="5.57" height="5.45" fill="#8c07f3"/>
<rect x="74.50" y="405.12" width="3.41" height="5.45" fill="#6b01e3"/>
<rect x="77.61" y="405.12" width="6.52" height="5.45" fill="#6301ce"/>
<rect x="83.83" y="405.12" width="6.52" height="5.45" fill="#5a00b4"/>
<rect x="90.05" y="405.12" width="12.74" height="5.45" fill="#510096"/>
<rect x="102.49" y="405.12" width="6.52" height="5.45" fill="#5a00b4"/>
<rect x="108.71" y="405.12" width="6.52" height="5.45" fill="#6b01e3"/>
<rect x="114.93" y="405.12" width="6.52" height="5.45" fill="#8004ff"/>
<rect x="121.15" y="405.12" width="6.52" height="5.45" fill="#8c07f3"/>
<rect x="127.37" y="405.12" width="6.52" height="5.45" fill="#970bce"/>
<rect x="133.59" y="405.12" width="18.96" height="5.45" fill="#a11096"/>
<rect x="152.25" y="405.12" width="25.18" height="5.45" fill="#bd2a00"/>
<rect x="177.13" y="405.12" width="18.96" height="5.45" fill="#c63700"/>
<rect x="195.79" y="405.12" width="12.74" height="5.45" fill="#ce4600"/>
<rect x="208.23" y="405.12" width="6.52" height="5.45" fill="#8c07f3"/>
<rect x="214.45" y="405.12" width="37.62" height="5.45" fill="#8004ff"/>
<rect x="251.77" y="405.12" width="6.52" height="5.45" fill="#8c07f3"/>
<rect x="257.99" y="405.12" width="6.52" height="5.45" fill="#b42000"/>
<rect x="264.21" y="405.12" width="25.18" height="5.45" fill="#bd2a00"/>
<rect x="289.09" y="405.12" width="6.52" height="5.45" fill="#a11096"/>
<rect x="295.31" y="405.12" width="6.52" height="5.45" fill="#970bce"/>
<rect x="301.53" y="405.12" width="6.52" height="5.45" fill="#8c07f3"/>
<rect x="307.75" y="405.12" width="25.18" height="5.45" fill="#8004ff"/>
<rect x="332.63" y="405.12" width="6.52" height="5.45" fill="#8c07f3"/>
<rect x="338.85" y="405.12" width="6.52" height="5.45" fill="#970bce"/>
<rect x="345.07" y="405.12" width="12.74" height="5.45" fill="#a11096"/>
<rect x="357.51" y="405.12" width="6.52" height="5.45" fill="#970bce"/>
<rect x="363.73" y="405.12" width="6.52" height="5.45" fill="#a11096"/>
<rect x="369.95" y="405.12" width="12.74" height="5.45" fill="#8004ff"/>
<rect x="382.39" y="405.12" width="18.96" height="5.45" fill="#7202f3"/>
<rect x="401.05" y="405.12" width="12.74" height="5.45" fill="#8004ff"/>
<rect x="413.49" y="405.12" width="6.52" height="5.45" fill="#970bce"/>
<rect x="419.71" y="405.12" width="25.18" height="5.45" fill="#7202f3"/>
<rect x="444.59" y="405.12" width="6.52" height="5.45" fill="#8c07f3"/>
<rect x="450.81" y="405.12" width="6.52" height="5.45" fill="#970bce"/>
<rect x="457.03" y="405.12" width="12.74" height="5.45" fill="#a11096"/>
<rect x="469.47" y="405.12" width="6.52" height="5.45" fill="#970bce"/>
<rect x="475.69" y="405.12" width="6.52" height="5.45" fill="#8c07f3"/>
<rect x="481.91" y="405.12" width="6.52" height="5.45" fill="#970bce"/>
<rect x="488.13" y="405.12" width="6.52" height="5.45" fill="#8c07f3"/>
<rect x="494.35" y="405.12" width="25.18" height="5.45" fill="#970bce"/>
<rect x="519.23" y="405.12" width="5.57" height="5.45" fill="#a11096"/>
<rect x="74.50" y="410.28" width="3.41" height="5.45" fill="#8004ff"/>
<rect x="77.61" y="410.28" width="6.52" height="5.45" fill="#7202f3"/>
<rect x="83.83" y="410.28" width="12.74" height="5.45" fill="#6b01e3"/>
<rect x="96.27" y="410.28" width="6.52" height="5.45" fill="#7202f3"/>
<rect x="102.49" y="410.28" width="6.52" height="5.45" fill="#8004ff"/>
<rect x="108.71" y="410.28" width="6.52" height="5.45" fill="#8c07f3"/>
<rect x="114.93" y="410.28" width="6.52" height="5.45" fill="#a11096"/>
<rect x="121.15" y="410.28" width="6.52" height="5.45" fill="#ab174f"/>
<rect x="127.37" y="410.28" width="6.52" height="5.45" fill="#b42000"/>
<rect x="133.59" y="410.28" width="6.52" height="5.45" fill="#bd2a00"/>
<rect x="139.81" y="410.28" width="12.74" height="5.45" fill="#b42000"/>
<rect x="152.25" y="410.28" width="25.18" height="5.45" fill="#ce4600"/>
<rect x="177.13" y="410.28" width="25.18" height="5.45" fill="#d55700"/>
<rect x="202.01" y="410.28" width="6.52" height="5.45" fill="#dd6c00"/>
<rect x="208.23" y="410.28" width="6.52" height="5.45" fill="#970bce"/>
<rect x="214.45" y="410.28" width="31.40" height="5.45" fill="#8c07f3"/>
<rect x="245.55" y="410.28" width="6.52" height="5.45" fill="#970bce"/>
<rect x="251.77" y="410.28" width="6.52" height="5.45" fill="#a11096"/>
<rect x="257.99" y="410.28" width="6.52" height="5.45" fill="#b42000"/>
<rect x="264.21" y="410.28" width="25.18" height="5.45" fill="#ce4600"/>
<rect x="289.09" y="410.28" width="6.52" height="5.45" fill="#ab174f"/>
<rect x="295.31" y="410.28" width="12.74" height="5.45" fill="#a11096"/>
<rect x="307.75" y="410.28" width="25.18" height="5.45" fill="#970bce"/>
<rect x="332.63" y="410.28" width="6.52" height="5.45" fill="#a11096"/>
<rect x="338.85" y="410.28" width="6.52" height="5.45" fill="#ab174f"/>
<rect x="345.07" y="410.28" width="6.52" height="5.45" fill="#bd2a00"/>
<rect x="351.29" y="410.28" width="12.74" height="5.45" fill="#b42000"/>
<rect x="363.73" y="410.28" width="12.74" height="5.45" fill="#970bce"/>
<rect x="376.17" y="410.28" width="25.18" height="5.45" fill="#8c07f3"/>
<rect x="401.05" y="410.28" width="6.52" height="5.45" fill="#970bce"/>
<rect x="407.27" y="410.28" width="6.52" height="5.45" fill="#a11096"/>
<rect x="413.49" y="410.28" width="6.52" height="5.45" fill="#ab174f"/>
<rect x="419.71" y="410.28" width="12.74" height="5.45" fill="#8004ff"/>
<rect x="432.15" y="410.28" width="6.52" height="5.45" fill="#8c07f3"/>
<rect x="438.37" y="410.28" width="6.52" height="5.45" fill="#970bce"/>
<rect x="444.59" y="410.28" width="6.52" height="5.45" fill="#a11096"/>
<rect x="450.81" y="410.28" width="6.52" height="5.45" fill="#ab174f"/>
<rect x="457.03" y="410.28" width="6.52" height="5.45" fill="#b42000"/>
<rect x="463.25" y="410.28" width="6.52" height="5.45" fill="#bd2a00"/>
<rect x="469.47" y="410.28" width="25.18" height="5.45" fill="#ab174f"/>
<rect x="494.35" y="410.28" width="12.74" height="5.45" fill="#b42000"/>
<rect x="506.79" y="410.28" width="6.52" height="5.45" fill="#ab174f"/>
<rect x="513.01" y="410.28" width="6.52" height="5.45" fill="#b42000"/>
<rect x="519.23" y="410.28" width="5.57" height="5.45" fill="#bd2a00"/>
<rect x="74.50" y="415.43" width="9.63" height="4.37" fill="#970bce"/>
<rect x="83.83" y="415.43" width="18.96" height="4.37" fill="#8c07f3"/>
<rect x="102.49" y="415.43" width="6.52" height="4.37" fill="#970bce"/>
<rect x="108.71" y="415.43" width="6.52" height="4.37" fill="#a11096"/>
<rect x="114.93" y="415.43" width="6.52" height="4.37" fill="#bd2a00"/>
<rect x="121.15" y="415.43" width="12.74" height="4.37" fill="#c63700"/>
<rect x="133.59" y="415.43" width="6.52" height="4.37" fill="#ce4600"/>
<rect x="139.81" y="415.43" width="6.52" height="4.37" fill="#c63700"/>
<rect x="146.03" y="415.43" width="6.52" height="4.37" fill="#bd2a00"/>
<rect x="152.25" y="415.43" width="18.96" height="4.37" fill="#d55700"/>
<rect x="170.91" y="415.43" width="18.96" height="4.37" fill="#dd6c00"/>
<rect x="189.57" y="415.43" width="12.74" height="4.37" fill="#e48300"/>
<rect x="202.01" y="415.43" width="6.52" height="4.37" fill="#bd2a00"/>
<rect x="208.23" y="415.43" width="12.74" height="4.37" fill="#a11096"/>
<rect x="220.67" y="415.43" width="18.96" height="4.37" fill="#970bce"/>
<rect x="239.33" y="415.43" width="6.52" height="4.37" fill="#a11096"/>
<rect x="245.55" y="415.43" width="6.52" height="4.37" fill="#ab174f"/>
<rect x="251.77" y="415.43" width="6.52" height="4.37" fill="#bd2a00"/>
<rect x="257.99" y="415.43" width="6.52" height="4.37" fill="#c63700"/>
<rect x="264.21" y="415.43" width="6.52" height="4.37" fill="#d55700"/>
<rect x="270.43" y="415.43" width="18.96" height="4.37" fill="#dd6c00"/>
<rect x="289.09" y="415.43" width="18.96" height="4.37" fill="#bd2a00"/>
<rect x="307.75" y="415.43" width="18.96" height="4.37" fill="#ab174f"/>
<rect x="326.41" y="415.43" width="6.52" height="4.37" fill="#b42000"/>
<rect x="332.63" y="415.43" width="12.74" height="4.37" fill="#bd2a00"/>
<rect x="345.07" y="415.43" width="18.96" height="4.37" fill="#c63700"/>
<rect x="363.73" y="415.43" width="6.52" height="4.37" fill="#ab174f"/>
<rect x="369.95" y="415.43" width="18.96" height="4.37" fill="#a11096"/>
<rect x="388.61" y="415.43" width="6.52" height="4.37" fill="#ab174f"/>
<rect x="394.83" y="415.43" width="6.52" height="4.37" fill="#b42000"/>
<rect x="401.05" y="415.43" width="12.74" height="4.37" fill="#bd2a00"/>
<rect x="413.49" y="415.43" width="6.52" height="4.37" fill="#b42000"/>
<rect x="419.71" y="415.43" width="12.74" height="4.37" fill="#a11096"/>
<rect x="432.15" y="415.43" width="6.52" height="4.37" fill="#ab174f"/>
<rect x="438.37" y="415.43" width="6.52" height="4.37" fill="#b42000"/>
<rect x="444.59" y="415.43" width="6.52" height="4.37" fill="#bd2a00"/>
<rect x="450.81" y="415.43" width="12.74" height="4.37" fill="#c63700"/>
<rect x="463.25" y="415.43" width="6.52" height="4.37" fill="#ce4600"/>
<rect x="469.47" y="415.43" width="55.33" height="4.37" fill="#c63700"/>
</g>
<g fill="none" stroke="#0098ff" stroke-width="1" stroke-linejoin="round" shape-rendering="crispEdges" clip-path="url(#cp)">
<polyline points="95.0,128.5 103.1,120.3 98.1,118.2 94.4,114.1 95.6,111.0 99.3,107.9 92.5,106.3 90.6,105.7 95.6,103.8 98.1,102.8 93.1,100.1 96.8,97.6 104.3,94.1 110.5,95.2 118.0,96.4 124.2,97.2 130.4,96.6 134.2,95.6 140.4,94.1 145.4,95.8 151.6,96.0 156.6,98.1 162.8,99.1 165.3,97.6 170.2,98.7 177.7,99.1 180.2,97.6 182.1,90.8 184.5,94.5 186.4,96.6 190.1,97.6 193.3,95.6 197.6,95.6 198.2,98.7 197.0,101.8 192.6,102.4 192.6,105.9 190.1,106.9 186.4,107.9 182.7,112.1 181.7,117.2 183.9,120.3 187.7,121.3 193.9,124.4 197.4,125.2 197.2,129.6 199.5,133.1 201.3,132.7 201.3,127.5 204.1,123.4 202.0,117.6 203.2,114.1 202.6,110.2 207.6,110.6 211.9,113.1 213.2,117.6 216.3,118.7 218.8,115.2 222.5,120.3 225.0,124.4 228.1,127.5 230.2,130.6 228.7,132.9 225.0,135.3 217.5,135.3 215.0,137.8 211.3,141.9 208.2,144.8 205.1,147.1 201.0,148.3 201.3,150.0 204.5,149.1 201.3,150.6 198.9,151.4 196.1,152.8 197.0,150.2 195.7,148.5 196.0,145.6 194.4,144.4 192.4,148.1 192.1,152.2 190.5,152.2 190.6,147.1 192.6,144.4 194.1,143.2 191.4,143.0 187.7,142.5 185.2,142.3 188.3,139.9 190.1,138.4 192.6,138.6 194.1,141.5 194.9,143.2 198.2,144.0 200.1,146.1 198.5,146.9 200.3,147.3 203.8,147.9 206.9,145.6 211.0,141.9 214.4,138.8 218.8,137.4 219.4,140.9 223.1,144.4 223.7,145.6 220.0,147.1 217.5,149.1 217.5,146.1 216.3,146.1 212.5,148.7 211.5,152.2 212.5,152.8 207.6,155.1 206.9,157.8 205.7,160.5 205.1,162.5 205.4,165.6 203.8,167.7 201.3,170.4 198.9,173.9 198.5,178.0 199.9,183.1 199.9,186.6 198.6,186.8 196.7,182.1 196.6,179.0 195.1,176.9 192.6,176.3 188.9,176.5 188.3,178.6 186.4,178.4 182.7,178.0 179.0,181.1 178.3,186.2 178.0,192.4 180.2,199.6 182.1,201.3 185.8,200.6 187.0,196.5 187.7,195.1 191.4,194.5 190.8,199.6 189.5,203.7 190.1,206.2 194.5,206.2 196.0,207.8 195.5,215.1 197.0,219.2 198.9,220.6 200.7,219.2 203.2,221.2 205.7,218.2 208.8,216.1 210.7,214.4 210.7,217.7 212.5,215.7 215.0,218.2 220.0,218.6 222.5,219.0 225.0,222.7 228.7,227.8 232.4,228.5 235.6,231.1 237.4,237.7 238.0,240.0 239.9,241.8 244.3,244.9 246.8,245.3 249.9,246.0 253.6,250.1 256.1,252.8 257.0,255.6 255.5,259.4 253.0,264.5 251.1,267.6 251.1,274.8 249.2,282.0 247.4,286.1 244.3,286.7 241.2,289.2 239.3,292.3 238.9,297.5 236.8,302.6 234.3,307.8 232.4,310.4 229.3,310.4 227.1,308.8 228.7,313.9 228.1,317.0 222.5,319.1 221.9,323.2 218.8,323.2 220.0,326.9 218.4,331.4 215.6,333.5 217.5,337.6 214.0,342.4 214.7,346.7 211.3,349.6 207.6,346.9 205.7,341.8 205.7,334.5 208.8,325.3 207.8,320.1 208.2,315.0 210.7,305.7 210.7,296.4 212.2,286.1 212.3,276.4 210.1,273.8 205.1,267.6 203.2,262.4 200.7,253.2 198.5,249.1 199.7,245.5 199.1,242.9 200.1,237.7 201.6,235.7 203.5,230.5 203.2,223.3 200.7,220.6 199.5,223.7 196.4,221.7 193.0,218.2 192.0,214.0 190.8,212.0 185.8,209.9 182.7,205.8 179.6,206.4 174.0,203.3 169.0,198.6 168.4,193.4 165.3,187.2 162.8,182.1 159.7,176.9 157.2,173.9 157.2,176.9 160.3,183.1 162.8,189.3 163.4,191.4 160.3,187.2 157.2,181.1 155.3,175.9 153.8,171.6 152.2,168.7 149.7,167.7 147.9,162.9 145.6,157.4 145.1,153.3 145.4,148.1 145.4,143.0 144.5,139.0 147.2,139.9 146.6,137.4 144.1,135.3 141.0,133.7 140.4,130.6 137.3,126.5 136.7,123.4 133.5,119.3 129.8,118.2 126.1,115.6 120.5,117.2 115.5,116.2 113.0,118.7 110.5,118.2 111.8,115.2 108.7,118.2 108.0,121.3 104.3,123.8 100.6,126.5 95.0,128.5"/>
<polyline points="214.4,347.1 218.5,351.4 215.0,353.1 210.7,350.0 211.9,347.9 214.4,347.1"/>
<polyline points="208.8,77.7 215.0,74.4 222.5,70.9 237.4,69.2 249.9,67.2 262.3,66.7 272.3,68.8 284.7,71.3 278.5,74.4 278.5,77.2 274.7,80.1 276.0,82.2 273.5,83.6 274.7,86.3 271.0,88.4 272.3,91.9 269.8,93.9 271.6,94.5 266.0,97.6 258.6,100.7 252.3,103.4 248.6,107.9 246.1,114.7 243.0,115.2 239.3,113.1 236.2,107.9 233.1,101.8 234.3,96.6 231.2,93.5 230.0,88.4 226.2,82.6 217.5,82.2 212.5,80.1 208.8,77.7"/>
<polyline points="269.1,103.8 272.3,102.0 277.2,102.4 281.6,102.8 282.8,104.9 281.0,106.5 276.6,108.1 271.6,107.3 269.8,105.3 269.1,103.8"/>
<polyline points="292.8,166.7 288.4,164.6 287.8,161.1 288.7,156.4 288.1,152.2 289.7,150.8 294.6,151.4 297.4,151.4 298.1,147.1 296.5,143.4 293.8,141.9 294.0,140.7 297.8,140.7 297.4,138.4 299.9,138.8 301.6,136.2 304.0,134.9 305.2,132.7 305.8,131.0 308.3,130.4 310.6,130.0 309.9,127.5 309.8,123.4 312.7,121.9 312.1,125.5 313.1,129.6 315.2,129.0 317.3,129.6 322.6,128.1 324.3,128.7 325.7,126.5 325.7,123.4 327.6,121.9 329.5,123.0 329.8,120.7 328.9,118.9 333.2,118.2 336.9,117.2 334.5,116.2 328.2,117.4 326.4,115.6 326.1,112.1 330.1,107.3 331.1,105.9 327.2,105.3 326.1,107.9 321.4,112.5 321.0,115.8 323.0,117.6 320.1,123.4 319.5,125.0 317.4,126.5 315.8,126.7 315.2,124.4 313.6,119.7 312.7,118.7 309.6,121.3 306.5,119.7 305.8,115.2 307.7,111.4 312.1,109.0 315.8,103.8 318.3,100.1 323.3,97.0 328.2,95.6 332.0,94.5 335.7,95.0 338.2,96.6 340.7,98.1 345.6,99.1 350.6,101.8 350.0,104.2 344.4,104.2 340.7,103.4 342.9,106.9 343.2,108.6 346.3,109.4 349.4,107.7 349.4,105.3 353.7,104.4 354.4,99.7 357.5,100.7 358.1,103.2 366.2,100.1 371.8,99.1 374.9,97.0 379.9,98.3 384.8,100.1 383.0,97.0 383.0,93.5 385.5,90.4 389.8,90.8 390.2,94.5 389.2,99.1 391.4,103.2 389.2,104.2 392.3,99.7 391.7,93.5 394.2,92.5 399.8,92.1 399.8,89.2 407.2,88.4 407.8,85.9 416.6,84.2 424.0,83.2 429.4,80.7 432.7,82.6 439.6,83.8 441.4,85.7 439.6,88.4 436.5,88.4 440.8,89.4 446.4,89.4 453.9,89.0 458.2,91.5 461.3,94.8 465.7,93.5 473.2,91.9 474.4,90.8 485.0,92.1 488.7,94.8 497.4,95.0 498.7,97.4 504.9,97.6 511.7,98.7 512.3,96.6 518.6,97.0 523.5,98.9"/>
<polyline points="75.7,98.9 81.9,102.2 88.1,104.4 85.0,107.9 80.7,106.3 76.9,105.3 75.7,105.9"/>
<polyline points="523.5,105.9 522.3,107.3 520.4,107.9 522.9,111.0 519.8,112.1 514.8,114.1 511.1,117.2 506.1,117.2 503.0,119.7 502.1,125.5 500.9,127.9 498.7,131.6 496.8,132.7 494.6,135.8 493.4,131.6 493.4,124.4 494.9,121.7 500.5,116.2 503.6,112.5 499.0,114.1 494.6,114.5 491.8,117.6 487.8,118.9 484.4,118.7 477.5,118.7 473.8,121.9 470.7,126.5 468.2,128.5 471.3,129.6 475.4,131.6 474.4,136.8 474.4,141.9 471.9,145.0 468.2,150.2 465.1,152.6 462.6,153.3 461.0,155.3 460.7,157.8 458.2,159.4 460.5,164.6 460.5,168.1 458.2,169.3 456.7,169.3 457.1,164.6 455.1,162.9 455.4,159.4 454.1,158.4 451.1,160.5 450.8,156.8 447.7,160.1 446.4,162.1 447.7,164.2 452.0,163.6 451.4,165.0 448.3,168.7 450.1,173.9 451.1,176.4 450.1,178.3 451.4,179.3 450.8,182.2 448.7,187.0 445.8,190.2 442.1,192.7 438.9,194.1 437.1,195.1 436.5,196.8 434.6,194.3 432.5,196.6 431.2,199.6 432.7,203.7 435.0,206.8 435.6,213.0 434.0,216.1 432.5,217.5 430.2,220.2 430.2,217.7 427.8,216.1 427.1,213.6 425.3,212.4 424.0,211.1 423.1,216.1 423.1,219.8 424.6,223.3 426.5,226.0 428.4,229.5 428.4,233.6 429.2,235.9 428.1,236.1 425.6,233.0 424.4,227.4 421.9,222.3 422.2,217.1 422.3,212.0 421.2,206.8 420.3,204.1 418.2,206.2 416.9,205.4 417.2,201.7 415.9,198.0 414.1,194.1 412.2,192.7 410.3,194.1 407.8,195.6 407.6,197.6 405.4,199.0 402.0,204.3 399.5,206.8 399.1,210.9 398.9,217.5 397.9,219.6 396.0,222.1 394.8,220.2 393.5,214.4 392.3,209.3 390.8,202.7 390.2,198.6 390.1,195.1 387.9,196.0 385.5,193.1 387.1,191.8 384.5,190.4 383.0,188.3 379.2,187.4 376.1,187.6 371.8,186.8 370.5,184.1 367.4,184.9 364.9,182.9 362.4,179.1 360.6,177.7 359.3,178.7 360.3,182.6 362.1,185.1 363.7,187.4 363.3,189.5 366.2,189.5 369.3,186.0 369.9,188.9 372.6,190.8 374.0,192.7 372.4,196.6 371.1,199.6 368.0,202.7 364.6,205.8 360.0,209.9 355.6,212.4 353.7,212.6 352.9,208.3 352.5,204.8 350.4,198.6 348.4,194.7 347.5,190.2 345.0,186.0 343.2,182.2 342.9,179.3 341.9,182.2 341.3,181.8 340.1,178.5 341.3,182.6 343.8,189.9 345.6,194.7 346.0,200.0 348.8,207.2 353.1,214.0 353.7,215.5 358.1,215.7 363.3,214.4 362.8,218.2 360.6,224.3 358.7,229.5 355.0,235.7 351.2,242.5 348.8,248.0 348.1,253.2 348.8,257.3 350.0,261.4 350.3,269.6 346.9,274.8 343.8,279.9 343.5,287.2 340.4,291.9 340.3,296.4 337.6,302.6 334.5,306.7 331.3,308.8 327.0,309.4 324.5,310.4 322.4,309.2 322.0,304.7 320.1,297.5 318.3,292.3 317.7,285.1 315.2,276.9 314.3,271.7 316.4,263.5 316.4,257.3 314.9,251.1 313.9,247.6 311.4,242.9 310.8,237.7 311.7,233.6 311.7,230.5 310.6,229.5 307.1,229.9 305.2,225.8 302.1,225.8 297.8,228.5 295.3,228.0 290.3,229.7 288.4,228.0 285.3,224.7 283.2,221.2 282.8,218.6 281.0,216.1 278.8,213.0 278.7,210.9 277.8,208.5 279.1,204.8 279.3,199.6 278.5,195.5 279.7,190.3 281.6,185.2 283.4,181.5 287.2,179.3 287.6,175.4 289.0,172.0 291.2,170.2 292.4,167.1 293.0,167.1 296.9,168.5 299.6,166.9 301.5,165.6 303.4,164.8 306.5,165.0 310.2,164.6 312.1,164.0 313.3,164.6 312.3,166.7 313.1,169.7 312.1,170.6 313.3,172.2 315.8,172.7 318.7,173.9 321.4,176.4 323.9,177.4 324.5,174.5 326.4,172.7 328.5,173.5 330.7,174.9 333.8,176.0 335.7,176.6 338.2,175.4 339.8,176.0 342.3,175.8 343.2,172.9 344.3,168.7 344.4,165.4 342.7,165.0 340.1,166.4 337.7,165.0 335.7,165.8 333.8,165.0 333.6,162.9 332.3,161.5 333.0,159.4 332.2,158.4 332.0,156.8 329.5,156.8 328.9,158.0 327.9,157.4 328.6,160.1 329.5,162.1 328.2,162.7 328.5,165.6 327.4,165.2 326.5,164.6 326.0,161.9 324.5,159.4 323.8,156.4 323.9,154.3 322.6,153.3 319.5,151.2 318.3,148.5 317.0,148.1 316.5,146.7 314.9,147.5 315.2,149.8 316.5,151.2 317.7,153.7 319.5,154.5 322.6,158.0 320.8,157.4 320.3,159.0 321.0,160.5 319.6,162.5 319.2,162.5 319.5,160.5 318.9,158.2 317.4,157.0 315.8,155.7 313.9,153.3 312.7,152.2 312.3,150.2 310.6,149.3 308.9,150.6 307.3,152.0 305.3,151.4 303.6,151.6 303.6,154.3 302.4,155.7 300.6,156.4 299.6,158.8 299.2,160.9 298.7,163.1 297.1,165.0 294.1,165.2 292.8,166.7"/>
<polyline points="334.5,155.3 334.5,151.2 336.3,147.7 337.6,145.4 339.4,145.0 341.3,146.1 340.7,148.1 341.5,149.3 343.8,148.1 345.0,147.5 343.4,145.6 346.3,144.0 348.4,143.6 347.3,146.1 346.0,147.5 347.5,149.6 349.4,151.4 351.2,153.3 351.2,155.3 348.8,156.4 345.6,155.9 343.2,154.3 340.7,154.3 338.6,155.9 335.9,155.9 334.5,155.3"/>
<polyline points="358.1,147.1 361.2,145.4 363.7,144.4 365.6,145.0 365.6,148.1 363.1,149.1 362.2,149.6 364.3,152.6 365.3,155.3 366.5,157.0 365.6,159.4 366.8,164.0 363.1,165.2 360.6,163.6 360.6,159.4 361.8,157.6 360.6,155.3 358.7,152.2 358.1,147.1"/>
<polyline points="292.5,137.6 295.3,137.2 298.4,136.4 301.4,135.3 300.2,134.7 301.7,132.2 300.0,131.6 299.4,129.6 297.8,127.5 297.1,125.5 295.5,125.5 297.1,122.2 294.6,122.2 295.9,120.1 293.4,120.1 291.9,123.4 292.8,125.7 293.6,127.9 295.9,129.6 295.6,131.0 293.9,131.2 294.4,133.1 293.2,134.1 295.6,134.9 292.5,137.6"/>
<polyline points="292.2,133.3 291.9,130.6 292.7,128.5 291.5,127.1 289.4,127.3 287.2,129.2 287.8,131.2 286.8,133.7 287.8,134.7 289.7,134.1 292.2,133.3"/>
<polyline points="313.3,77.0 319.5,76.0 325.1,75.4 333.2,75.6 330.1,77.5 323.3,78.9 326.4,80.5 320.8,83.0 317.0,81.2 313.3,77.0"/>
<polyline points="355.6,75.0 361.8,74.4 368.0,74.8 364.3,76.0 358.1,75.8 355.6,75.0"/>
<polyline points="370.5,74.4 376.7,74.0 379.2,75.0 374.3,75.4"/>
<polyline points="363.7,93.5 365.6,89.8 368.7,86.3 374.3,83.8 384.2,82.4 384.2,83.8 375.5,85.9 371.1,89.4 369.3,92.5 371.1,95.2 366.2,95.0 363.7,93.5"/>
<polyline points="412.8,76.0 419.0,73.5 424.0,76.0 429.0,78.1 427.8,80.1 421.5,78.5 416.6,77.0 412.8,76.0"/>
<polyline points="470.0,84.7 475.0,84.0 480.0,85.3 486.2,85.9 483.7,86.7 477.5,86.7 473.8,86.7 470.0,84.7"/>
<polyline points="473.8,89.4 477.5,89.8 476.3,88.6 473.8,89.4"/>
<polyline points="223.1,101.3 220.6,104.9 218.8,109.0 215.0,110.4 210.7,107.9 207.6,105.9 202.6,105.9 208.2,101.8 208.8,98.3 202.0,94.5 198.9,95.0 193.9,94.5 188.9,93.5 188.3,89.4 193.9,86.9 198.9,87.3 204.5,89.0 211.3,91.9 215.0,94.5 216.3,97.6 222.5,99.7 223.1,101.3"/>
<polyline points="205.1,81.2 200.1,81.8 188.9,81.2 192.6,77.7 190.1,74.0 186.4,70.9 200.1,67.8 215.0,67.8 222.5,69.2 215.0,72.3 208.8,76.0 205.1,78.1 205.1,81.2"/>
<polyline points="200.1,83.2 185.2,80.5 185.2,84.2 197.6,85.3 200.1,83.2"/>
<polyline points="169.0,97.6 162.8,97.2 156.6,96.0 154.1,94.5 159.0,92.5 152.8,91.5 152.8,88.4 159.0,88.4 165.3,88.4 169.0,88.8 172.7,93.5 174.0,96.6 169.0,97.6"/>
<polyline points="146.6,92.1 143.5,90.4 145.4,85.9 153.4,85.9 155.3,88.4 150.3,91.5 146.6,92.1"/>
<polyline points="154.1,83.2 160.3,81.6 167.8,82.2 168.4,84.2 162.8,85.3 157.8,84.7 154.1,83.2"/>
<polyline points="172.7,90.4 177.7,91.5 179.6,88.8 177.7,86.3 173.4,87.3 172.7,90.4"/>
<polyline points="180.8,90.4 187.7,88.8 187.0,86.3 181.4,86.3 180.8,90.4"/>
<polyline points="180.2,77.5 190.1,77.0 191.4,72.9 182.7,71.3 180.2,74.0 180.2,77.5"/>
<polyline points="191.4,107.9 195.1,110.0 198.9,107.3 200.1,103.8 195.1,102.8 191.4,105.9 191.4,107.9"/>
<polyline points="225.9,140.5 230.0,142.3 233.7,142.5 234.1,140.5 233.1,137.2 230.0,135.8 230.3,132.7 228.3,134.7 226.2,138.8 225.9,140.5"/>
<polyline points="140.0,134.1 143.5,135.1 146.0,138.8 144.1,138.4 140.0,134.1"/>
<polyline points="193.9,193.4 197.0,191.4 200.1,191.4 203.8,194.5 207.3,197.1 203.2,197.8 202.0,194.5 197.6,193.0 193.9,193.4"/>
<polyline points="207.1,200.6 209.4,197.8 212.5,198.0 214.5,200.4 211.9,201.1 210.7,202.3 207.1,200.6"/>
<polyline points="461.3,175.4 463.6,175.4 463.8,171.6 467.6,171.6 469.8,169.7 472.3,169.3 473.8,168.3 475.0,165.6 475.0,161.9 476.3,159.4 475.5,155.7 473.8,157.4 473.5,161.5 470.7,165.0 468.8,166.7 468.6,167.7 464.8,167.9 462.6,170.1 461.0,172.2 461.3,175.4"/>
<polyline points="473.8,155.1 475.6,153.3 477.9,154.3 480.6,151.6 479.1,150.2 476.0,147.3 475.4,151.8 473.8,153.3 473.8,155.1"/>
<polyline points="476.3,146.1 478.1,144.4 477.3,141.9 479.4,139.9 477.5,134.7 477.8,131.6 476.9,129.0 476.3,130.6 476.0,134.7 476.3,138.8 476.3,146.1"/>
<polyline points="449.1,192.2 450.1,193.7 451.1,188.3 450.1,187.6 449.1,192.2"/>
<polyline points="449.3,205.8 449.5,200.6 451.6,200.6 451.8,204.8 451.0,209.5 453.9,212.0 453.9,213.0 452.0,210.9 449.6,210.3 449.3,205.8"/>
<polyline points="451.4,224.3 453.3,221.2 455.7,218.6 457.0,223.3 455.7,227.0 453.9,225.4 451.4,224.3"/>
<polyline points="435.2,235.7 440.2,232.2 445.2,224.3 447.0,228.5 446.2,234.6 444.5,242.9 442.1,247.0 437.7,244.9 435.2,235.7"/>
<polyline points="418.2,227.2 420.9,228.0 424.6,233.6 428.4,238.8 429.6,242.9 431.5,244.9 431.2,250.7 429.6,250.7 426.5,247.0 424.6,241.8 422.2,235.7 420.3,232.0 418.2,227.2"/>
<polyline points="430.9,252.1 434.6,252.6 439.6,253.2 442.1,255.6 436.5,255.2 431.9,253.8 430.9,252.1"/>
<polyline points="462.6,241.4 466.3,240.8 471.3,242.5 475.0,244.1 480.0,248.0 483.1,252.1 486.8,260.2 481.2,256.3 475.0,253.2 470.0,248.6 465.1,244.9 462.6,241.4"/>
<polyline points="440.8,284.1 441.4,292.3 442.7,300.6 443.3,307.8 442.7,309.4 446.4,310.9 448.9,308.6 453.3,308.6 456.4,305.3 460.1,303.8 463.2,303.6 466.3,306.1 468.2,310.4 469.4,308.8 470.9,306.3 471.3,309.8 473.2,312.9 474.4,317.0 478.1,318.7 480.0,317.4 481.9,319.1 483.7,316.8 486.2,315.6 486.8,310.9 488.1,306.7 490.0,302.6 490.6,296.4 490.0,291.3 487.5,287.2 485.6,284.1 483.7,279.9 481.6,277.9 481.0,273.8 480.4,269.6 478.5,268.2 477.9,264.5 476.9,261.0 476.0,264.5 475.6,269.6 474.8,274.8 473.2,274.8 471.0,271.7 468.6,269.6 468.2,264.5 469.8,263.9 468.2,263.5 464.4,262.4 462.6,264.1 461.3,266.6 460.7,269.6 458.9,269.6 457.4,267.6 455.1,270.7 453.3,274.4 451.6,275.8 450.1,278.9 447.7,279.9 444.5,281.4 442.1,283.7 440.8,284.1"/>
<polyline points="479.6,322.6 481.9,323.4 484.1,323.0 483.7,326.3 482.2,328.6 480.6,326.9 479.6,322.6"/>
<polyline points="514.5,309.8 517.7,314.6 520.8,316.6 519.6,320.1 517.6,323.8 516.8,319.1 516.8,315.4 514.5,309.8"/>
<polyline points="515.2,322.8 516.1,324.9 513.3,329.4 510.5,334.5 507.4,333.5 509.9,329.8 512.7,325.9 515.2,322.8"/>
<polyline points="360.9,263.5 362.2,270.7 361.2,274.8 360.0,282.0 358.1,290.2 355.8,291.3 354.0,288.2 353.7,283.0 355.0,278.9 354.4,273.8 356.8,271.1 359.3,266.6 360.9,263.5"/>
<polyline points="399.1,218.8 400.8,221.2 401.4,224.3 400.0,226.4 399.0,225.4 398.9,221.2 399.1,218.8"/>
<polyline points="75.7,399.8 94.4,400.0 100.6,398.6 100.6,402.1"/>
<polyline points="75.7,412.4 88.1,412.8 103.1,413.9 116.8,414.5 113.0,407.7 110.5,402.9 113.6,397.6 118.0,394.9 124.2,394.3 131.7,392.4 139.8,391.2 147.9,390.0 156.6,391.2 162.8,392.4 171.5,392.8 175.2,389.1 181.4,389.1 190.1,389.1 200.1,389.7 206.3,388.7 211.9,382.9 215.0,378.8 217.5,375.7 221.2,371.8 226.2,369.6 228.1,370.6 224.4,373.7 221.9,376.8 219.4,380.9 222.5,385.0 223.7,392.0 227.5,394.3 237.4,397.8 244.9,399.4 247.4,400.9 244.9,402.5 234.9,402.7 227.5,402.1"/>
<polyline points="221.9,406.6 234.9,407.3 247.4,405.6 257.9,404.2 259.2,398.4 264.8,395.3 272.3,391.2 279.7,388.7 287.2,385.0 293.4,383.6 299.6,381.7 305.8,382.9 312.1,382.5 318.3,381.9 324.5,382.9 330.7,382.9 336.9,380.9 340.7,379.9 345.6,380.9 349.4,379.9 355.6,377.8 361.8,375.7 366.8,374.3 370.5,375.7 374.3,377.4 380.5,377.8 386.7,378.8 387.9,381.9 385.5,384.0 389.2,384.0 392.9,381.9 396.7,379.9 401.6,376.8 407.8,375.7 411.6,375.7 417.8,375.3 424.0,374.3 430.2,375.3 436.5,374.7 442.7,375.7 448.9,375.7 455.1,374.7 461.3,374.7 467.6,374.7 473.8,375.7 480.0,376.8 486.2,379.4 492.4,380.9 498.7,382.9 504.9,384.6 511.1,386.5 506.1,393.3 501.1,400.3 504.9,405.6 511.1,408.7 517.3,410.6 523.5,412.4"/>
<polyline points="501.8,398.6 507.4,398.0 514.8,399.0 523.5,399.8"/>
<polyline points="223.7,392.0 212.5,395.3 202.6,397.0 197.6,397.6 206.3,402.5 215.0,405.2 221.9,406.6"/>
<polyline points="146.6,102.8 149.7,100.9 152.8,102.2 150.3,104.9 146.6,104.4 146.6,102.8"/>
<polyline points="154.1,113.1 157.2,110.2 162.2,109.4 164.0,110.4 160.3,112.3 156.6,113.5 154.1,113.1"/>
<polyline points="160.9,117.8 164.0,116.2 167.8,116.6 164.0,117.6 160.9,117.8"/>
<polyline points="176.5,127.9 178.2,127.9 179.7,133.7 179.0,135.1 177.0,131.6 176.5,127.9"/>
<polyline points="181.4,136.8 183.3,137.8 182.1,138.4"/>
<polyline points="341.3,238.1 341.7,241.8 340.4,244.5 339.4,240.8 341.3,238.1"/>
<polyline points="159.3,153.1 160.0,154.5"/>
<polyline points="372.4,147.1 374.3,145.4 375.9,148.1 374.3,150.6 372.6,149.6 372.4,147.1"/>
<polyline points="391.4,147.5 394.2,144.8 397.9,145.0"/>
<polyline points="102.8,194.7 103.7,195.2"/>
<polyline points="105.6,197.6 106.8,198.6"/>
<polyline points="85.0,266.6 86.3,267.2"/>
<polyline points="186.0,239.8 186.7,240.8"/>
<polyline points="521.1,274.8 521.8,275.8"/>
<polyline points="78.2,134.5 80.7,133.9"/>
<polyline points="83.8,133.3 86.3,132.7"/>
<polyline points="89.4,131.8 92.5,130.2 94.6,128.7"/>
<polyline points="107.4,123.4 109.9,121.3 110.2,122.8 107.4,123.4"/>
<polyline points="134.2,127.5 135.7,129.6 136.4,131.2"/>
<polyline points="228.1,370.6 225.6,374.7 223.7,379.9 225.0,385.0 225.6,390.2 223.7,392.0"/>
</g>
<rect x="74.5" y="57.5" width="450" height="362" fill="none" stroke="#000" stroke-width="1" shape-rendering="crispEdges"/>
<g shape-rendering="crispEdges"><defs><linearGradient id="cb" x1="0" y1="0" x2="0" y2="1"><stop offset="0.000" stop-color="#ffff00"/><stop offset="0.020" stop-color="#fcf000"/><stop offset="0.040" stop-color="#fae200"/><stop offset="0.060" stop-color="#f7d400"/><stop offset="0.080" stop-color="#f5c700"/><stop offset="0.100" stop-color="#f2ba00"/><stop offset="0.120" stop-color="#efae00"/><stop offset="0.140" stop-color="#eca200"/><stop offset="0.160" stop-color="#ea9700"/><stop offset="0.180" stop-color="#e78d00"/><stop offset="0.200" stop-color="#e48300"/><stop offset="0.220" stop-color="#e17900"/><stop offset="0.240" stop-color="#de7000"/><stop offset="0.260" stop-color="#db6700"/><stop offset="0.280" stop-color="#d85f00"/><stop offset="0.300" stop-color="#d55700"/><stop offset="0.320" stop-color="#d25000"/><stop offset="0.340" stop-color="#cf4900"/><stop offset="0.360" stop-color="#cc4300"/><stop offset="0.380" stop-color="#c93d00"/><stop offset="0.400" stop-color="#c63700"/><stop offset="0.420" stop-color="#c23200"/><stop offset="0.440" stop-color="#bf2d00"/><stop offset="0.460" stop-color="#bb2800"/><stop offset="0.480" stop-color="#b82400"/><stop offset="0.500" stop-color="#b42000"/><stop offset="0.520" stop-color="#b11c20"/><stop offset="0.540" stop-color="#ad193f"/><stop offset="0.560" stop-color="#a9165e"/><stop offset="0.580" stop-color="#a5137b"/><stop offset="0.600" stop-color="#a11096"/><stop offset="0.620" stop-color="#9d0eaf"/><stop offset="0.640" stop-color="#990cc4"/><stop offset="0.660" stop-color="#950ad7"/><stop offset="0.680" stop-color="#9008e7"/><stop offset="0.700" stop-color="#8c07f3"/><stop offset="0.720" stop-color="#8706fa"/><stop offset="0.740" stop-color="#8204fe"/><stop offset="0.760" stop-color="#7d04fe"/><stop offset="0.780" stop-color="#7803fa"/><stop offset="0.800" stop-color="#7202f3"/><stop offset="0.820" stop-color="#6c01e7"/><stop offset="0.840" stop-color="#6601d7"/><stop offset="0.860" stop-color="#5f01c4"/><stop offset="0.880" stop-color="#5800af"/><stop offset="0.900" stop-color="#510096"/><stop offset="0.920" stop-color="#48007b"/><stop offset="0.940" stop-color="#3e005e"/><stop offset="0.960" stop-color="#33003f"/><stop offset="0.980" stop-color="#240020"/><stop offset="1.000" stop-color="#000000"/></linearGradient></defs><rect x="535.5" y="57.5" width="22" height="362" fill="url(#cb)" stroke="#000" stroke-width="1"/><path d="M535.5 383.5H540M553 383.5H557.5" stroke="#000" stroke-width="1"/><path d="M535.5 347.5H540M553 347.5H557.5" stroke="#000" stroke-width="1"/><path d="M535.5 310.5H540M553 310.5H557.5" stroke="#000" stroke-width="1"/><path d="M535.5 274.5H540M553 274.5H557.5" stroke="#000" stroke-width="1"/><path d="M535.5 238.5H540M553 238.5H557.5" stroke="#000" stroke-width="1"/><path d="M535.5 202.5H540M553 202.5H557.5" stroke="#000" stroke-width="1"/><path d="M535.5 166.5H540M553 166.5H557.5" stroke="#000" stroke-width="1"/><path d="M535.5 129.5H540M553 129.5H557.5" stroke="#000" stroke-width="1"/><path d="M535.5 93.5H540M553 93.5H557.5" stroke="#000" stroke-width="1"/></g>
</svg>
<div class="t" style="left:137px;top:19px;">StdDev_VTEC / TECU 20001206_341.35100</div>
<div class="t" style="left:242px;top:457px;">Longitude / deg</div>
<div class="t" style="left:0;top:0;transform-origin:0 0;transform:translate(4.5px,287px) rotate(-90deg);">Latitude / deg</div>
<div class="t" style="left:34.8px;top:61px;z-index:-1;">"rms_</div>
<div class="t yl" style="top:65px;">80</div>
<div class="t yl" style="top:107px;">60</div>
<div class="t yl" style="top:148px;">40</div>
<div class="t yl" style="top:189px;">20</div>
<div class="t yl" style="top:230px;">0</div>
<div class="t yl" style="top:271px;">-20</div>
<div class="t yl" style="top:313px;">-40</div>
<div class="t yl" style="top:354px;">-60</div>
<div class="t yl" style="top:395px;">-80</div>
<div class="t xl" style="left:72.4px;top:430px;">-150</div>
<div class="t xl" style="left:134.6px;top:430px;">-100</div>
<div class="t xl" style="left:196.8px;top:430px;">-50</div>
<div class="t xl" style="left:259.0px;top:430px;">0</div>
<div class="t xl" style="left:321.2px;top:430px;">50</div>
<div class="t xl" style="left:382.6px;top:430px;">100</div>
<div class="t xl" style="left:444.8px;top:430px;">150</div>
<div class="t" style="left:571px;top:411.0px;">6.5</div>
<div class="t" style="left:571px;top:374.8px;">7</div>
<div class="t" style="left:571px;top:338.6px;">7.5</div>
<div class="t" style="left:571px;top:302.4px;">8</div>
<div class="t" style="left:571px;top:266.2px;">8.5</div>
<div class="t" style="left:571px;top:230.0px;">9</div>
<div class="t" style="left:571px;top:193.8px;">9.5</div>
<div class="t" style="left:571px;top:157.6px;">10</div>
<div class="t" style="left:571px;top:121.4px;">10.5</div>
<div class="t" style="left:571px;top:85.2px;">11</div>
<div class="t" style="left:571px;top:49.0px;">11.5</div>
</body></html>
